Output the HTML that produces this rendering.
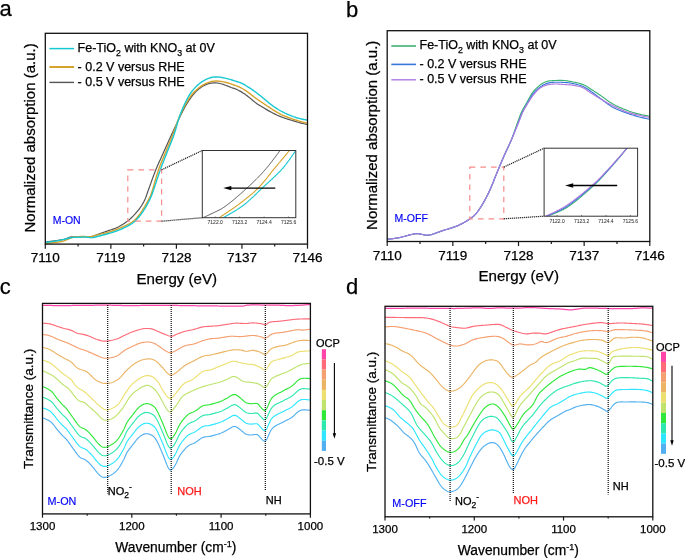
<!DOCTYPE html>
<html><head><meta charset="utf-8"><style>
html,body{margin:0;padding:0;background:#fff;}
svg{display:block;will-change:transform;}
text{stroke:currentColor;stroke-width:0.25px;font-family:"Liberation Sans", sans-serif;}
</style></head><body>
<svg width="685" height="558" viewBox="0 0 685 558">
<rect width="685" height="558" fill="#fff"/>
<text x="-0.50" y="16.20" font-size="22.00" fill="#000" style="color:#000" text-anchor="start" >a</text>
<text x="345.90" y="16.70" font-size="22.00" fill="#000" style="color:#000" text-anchor="start" >b</text>
<text x="-0.30" y="293.80" font-size="22.00" fill="#000" style="color:#000" text-anchor="start" >c</text>
<text x="345.90" y="293.80" font-size="22.00" fill="#000" style="color:#000" text-anchor="start" >d</text>
<g clip-path="url(#clipA0)">
<path d="M45.00,242.10 L45.99,241.97 L46.98,241.84 L47.97,241.71 L48.97,241.58 L49.96,241.45 L50.95,241.32 L51.94,241.19 L52.93,241.06 L53.92,240.93 L54.91,240.80 L55.91,240.66 L56.90,240.53 L57.89,240.39 L58.88,240.24 L59.86,240.09 L60.85,239.94 L61.84,239.77 L62.82,239.59 L63.80,239.38 L64.77,239.14 L65.72,238.84 L66.65,238.49 L67.57,238.10 L68.49,237.71 L69.42,237.37 L70.38,237.11 L71.36,236.94 L72.35,236.83 L73.35,236.76 L74.35,236.73 L75.35,236.71 L76.35,236.71 L77.35,236.71 L78.35,236.71 L79.35,236.71 L80.35,236.70 L81.35,236.70 L82.35,236.70 L83.35,236.71 L84.35,236.73 L85.35,236.74 L86.35,236.74 L87.35,236.73 L88.35,236.70 L89.34,236.64 L90.34,236.55 L91.33,236.41 L92.31,236.22 L93.28,235.98 L94.23,235.70 L95.18,235.39 L96.12,235.04 L97.06,234.69 L97.99,234.34 L98.93,234.00 L99.88,233.67 L100.82,233.35 L101.77,233.02 L102.71,232.69 L103.66,232.36 L104.60,232.02 L105.54,231.69 L106.48,231.35 L107.42,231.01 L108.36,230.68 L109.31,230.35 L110.26,230.03 L111.20,229.71 L112.15,229.39 L113.10,229.06 L114.04,228.72 L114.97,228.37 L115.90,227.99 L116.81,227.59 L117.72,227.17 L118.61,226.72 L119.49,226.25 L120.37,225.77 L121.24,225.27 L122.09,224.76 L122.95,224.23 L123.79,223.69 L124.63,223.14 L125.45,222.58 L126.27,222.01 L127.08,221.42 L127.88,220.82 L128.66,220.20 L129.43,219.56 L130.19,218.91 L130.93,218.24 L131.66,217.55 L132.37,216.85 L133.08,216.14 L133.77,215.42 L134.46,214.70 L135.13,213.96 L135.80,213.22 L136.46,212.46 L137.10,211.70 L137.74,210.92 L138.36,210.14 L138.96,209.35 L139.56,208.54 L140.14,207.73 L140.71,206.91 L141.27,206.08 L141.81,205.24 L142.33,204.39 L142.84,203.52 L143.33,202.65 L143.80,201.77 L144.25,200.88 L144.68,199.98 L145.10,199.07 L145.49,198.15 L145.86,197.22 L146.21,196.28 L146.54,195.34 L146.87,194.39 L147.19,193.45 L147.51,192.50 L147.84,191.56 L148.18,190.62 L148.52,189.68 L148.86,188.73 L149.20,187.79 L149.53,186.85 L149.87,185.91 L150.20,184.97 L150.54,184.03 L150.87,183.08 L151.21,182.14 L151.55,181.20 L151.89,180.26 L152.23,179.32 L152.57,178.38 L152.91,177.44 L153.25,176.50 L153.60,175.56 L153.95,174.63 L154.31,173.69 L154.66,172.76 L155.02,171.82 L155.39,170.89 L155.76,169.97 L156.14,169.04 L156.52,168.12 L156.91,167.19 L157.30,166.27 L157.70,165.36 L158.10,164.44 L158.50,163.52 L158.91,162.61 L159.32,161.70 L159.73,160.79 L160.14,159.88 L160.56,158.97 L160.97,158.06 L161.39,157.15 L161.80,156.24 L162.22,155.33 L162.63,154.42 L163.05,153.51 L163.46,152.60 L163.86,151.68 L164.27,150.77 L164.68,149.86 L165.09,148.94 L165.49,148.03 L165.90,147.12 L166.31,146.20 L166.72,145.29 L167.13,144.38 L167.53,143.47 L167.95,142.55 L168.36,141.64 L168.77,140.73 L169.18,139.82 L169.60,138.91 L170.02,138.00 L170.43,137.09 L170.85,136.19 L171.27,135.28 L171.69,134.37 L172.11,133.46 L172.53,132.56 L172.95,131.65 L173.37,130.74 L173.79,129.83 L174.21,128.93 L174.64,128.02 L175.06,127.11 L175.48,126.21 L175.90,125.30 L176.32,124.39 L176.75,123.49 L177.17,122.58 L177.60,121.68 L178.03,120.77 L178.45,119.87 L178.88,118.97 L179.31,118.06 L179.75,117.16 L180.18,116.26 L180.62,115.36 L181.06,114.47 L181.51,113.57 L181.96,112.68 L182.41,111.79 L182.87,110.90 L183.33,110.01 L183.80,109.13 L184.27,108.25 L184.75,107.37 L185.24,106.50 L185.74,105.63 L186.24,104.76 L186.75,103.91 L187.28,103.06 L187.81,102.21 L188.36,101.37 L188.91,100.54 L189.47,99.71 L190.04,98.89 L190.62,98.08 L191.21,97.27 L191.80,96.46 L192.41,95.67 L193.03,94.88 L193.67,94.11 L194.32,93.35 L194.98,92.61 L195.67,91.88 L196.37,91.17 L197.10,90.48 L197.85,89.82 L198.61,89.18 L199.40,88.56 L200.20,87.97 L201.02,87.40 L201.86,86.86 L202.71,86.33 L203.58,85.83 L204.46,85.36 L205.35,84.91 L206.26,84.50 L207.19,84.12 L208.13,83.80 L209.09,83.53 L210.06,83.32 L211.05,83.15 L212.04,83.04 L213.04,82.96 L214.04,82.92 L215.03,82.91 L216.03,82.93 L217.03,83.00 L218.02,83.12 L219.01,83.28 L219.99,83.48 L220.96,83.71 L221.92,83.98 L222.87,84.28 L223.82,84.61 L224.75,84.95 L225.69,85.31 L226.62,85.68 L227.54,86.06 L228.47,86.43 L229.40,86.81 L230.33,87.17 L231.26,87.52 L232.21,87.84 L233.17,88.13 L234.12,88.42 L235.06,88.76 L235.98,89.14 L236.89,89.55 L237.80,89.97 L238.69,90.42 L239.58,90.88 L240.46,91.35 L241.32,91.86 L242.18,92.38 L243.02,92.92 L243.84,93.48 L244.67,94.05 L245.48,94.63 L246.29,95.22 L247.09,95.81 L247.89,96.41 L248.69,97.02 L249.48,97.64 L250.25,98.27 L251.02,98.91 L251.77,99.57 L252.52,100.22 L253.28,100.88 L254.05,101.52 L254.83,102.14 L255.62,102.75 L256.44,103.33 L257.26,103.89 L258.10,104.44 L258.94,104.98 L259.79,105.51 L260.64,106.03 L261.50,106.55 L262.35,107.06 L263.21,107.58 L264.07,108.09 L264.93,108.60 L265.79,109.11 L266.66,109.61 L267.52,110.12 L268.38,110.62 L269.25,111.12 L270.12,111.60 L271.00,112.09 L271.88,112.56 L272.77,113.02 L273.66,113.47 L274.56,113.91 L275.46,114.35 L276.36,114.77 L277.27,115.19 L278.19,115.59 L279.11,115.99 L280.03,116.37 L280.96,116.75 L281.89,117.11 L282.83,117.46 L283.77,117.80 L284.71,118.13 L285.66,118.44 L286.61,118.75 L287.56,119.06 L288.52,119.35 L289.47,119.65 L290.43,119.95 L291.38,120.24 L292.34,120.54 L293.29,120.83 L294.25,121.12 L295.21,121.42 L296.16,121.70 L297.12,121.99 L298.08,122.27 L299.05,122.54 L300.01,122.81 L300.98,123.06 L301.95,123.31 L302.92,123.54 L303.89,123.76 L304.87,123.98 L305.84,124.19 L306.82,124.40 L307.30,124.50" stroke="#555555" stroke-width="1.20" fill="none" stroke-linejoin="round" stroke-linecap="round" />
<path d="M45.00,243.40 L46.00,243.31 L46.99,243.21 L47.99,243.12 L48.98,243.02 L49.98,242.93 L50.97,242.83 L51.97,242.73 L52.96,242.63 L53.96,242.52 L54.95,242.42 L55.95,242.33 L56.94,242.23 L57.94,242.12 L58.93,241.99 L59.92,241.85 L60.90,241.67 L61.88,241.45 L62.84,241.20 L63.79,240.90 L64.73,240.56 L65.67,240.21 L66.60,239.85 L67.53,239.47 L68.44,239.07 L69.35,238.65 L70.25,238.22 L71.17,237.82 L72.10,237.48 L73.06,237.20 L74.03,236.99 L75.02,236.84 L76.01,236.74 L77.01,236.67 L78.01,236.62 L79.01,236.58 L80.01,236.56 L81.01,236.54 L82.01,236.52 L83.01,236.52 L84.00,236.52 L85.00,236.54 L86.00,236.59 L87.00,236.66 L88.00,236.72 L88.99,236.76 L89.99,236.74 L90.98,236.65 L91.97,236.48 L92.94,236.27 L93.90,236.01 L94.86,235.72 L95.81,235.42 L96.77,235.12 L97.73,234.83 L98.69,234.56 L99.66,234.31 L100.63,234.09 L101.61,233.88 L102.59,233.68 L103.57,233.48 L104.55,233.28 L105.52,233.05 L106.49,232.81 L107.45,232.55 L108.41,232.26 L109.37,231.97 L110.32,231.66 L111.27,231.34 L112.22,231.02 L113.16,230.70 L114.10,230.36 L115.04,230.02 L115.98,229.67 L116.91,229.31 L117.84,228.95 L118.77,228.58 L119.70,228.19 L120.62,227.80 L121.53,227.40 L122.45,227.00 L123.36,226.60 L124.27,226.18 L125.18,225.77 L126.09,225.34 L126.99,224.91 L127.88,224.46 L128.77,224.01 L129.65,223.53 L130.53,223.04 L131.38,222.53 L132.22,221.99 L133.04,221.41 L133.83,220.80 L134.58,220.15 L135.31,219.46 L136.00,218.75 L136.67,218.00 L137.31,217.23 L137.93,216.45 L138.55,215.66 L139.16,214.87 L139.77,214.08 L140.36,213.27 L140.93,212.46 L141.49,211.63 L142.04,210.79 L142.57,209.94 L143.10,209.09 L143.62,208.24 L144.15,207.39 L144.67,206.53 L145.18,205.68 L145.69,204.82 L146.20,203.96 L146.69,203.09 L147.18,202.21 L147.65,201.33 L148.12,200.45 L148.57,199.56 L149.03,198.67 L149.48,197.78 L149.92,196.88 L150.34,195.97 L150.73,195.05 L151.09,194.12 L151.44,193.18 L151.77,192.24 L152.09,191.29 L152.40,190.34 L152.69,189.38 L152.98,188.43 L153.26,187.47 L153.54,186.51 L153.82,185.55 L154.09,184.58 L154.36,183.62 L154.64,182.66 L154.91,181.70 L155.18,180.73 L155.45,179.77 L155.73,178.81 L156.00,177.85 L156.28,176.89 L156.56,175.93 L156.85,174.97 L157.14,174.02 L157.44,173.06 L157.74,172.11 L158.05,171.16 L158.37,170.21 L158.70,169.27 L159.04,168.32 L159.38,167.39 L159.73,166.45 L160.09,165.52 L160.46,164.59 L160.83,163.66 L161.21,162.73 L161.59,161.81 L161.97,160.88 L162.36,159.96 L162.75,159.04 L163.14,158.12 L163.53,157.20 L163.92,156.28 L164.31,155.36 L164.70,154.44 L165.08,153.51 L165.46,152.59 L165.84,151.66 L166.22,150.74 L166.61,149.81 L166.99,148.89 L167.37,147.97 L167.76,147.04 L168.15,146.12 L168.53,145.20 L168.92,144.28 L169.30,143.35 L169.69,142.43 L170.07,141.51 L170.45,140.58 L170.83,139.66 L171.21,138.73 L171.58,137.80 L171.95,136.88 L172.32,135.95 L172.69,135.02 L173.05,134.08 L173.40,133.15 L173.75,132.21 L174.09,131.27 L174.43,130.33 L174.77,129.39 L175.10,128.45 L175.44,127.50 L175.77,126.56 L176.10,125.62 L176.44,124.68 L176.78,123.73 L177.12,122.79 L177.46,121.85 L177.81,120.92 L178.17,119.98 L178.53,119.05 L178.90,118.12 L179.28,117.20 L179.67,116.28 L180.07,115.36 L180.48,114.45 L180.90,113.54 L181.32,112.63 L181.75,111.73 L182.19,110.83 L182.63,109.93 L183.07,109.04 L183.53,108.15 L183.99,107.26 L184.45,106.37 L184.92,105.49 L185.40,104.61 L185.88,103.74 L186.37,102.87 L186.87,102.00 L187.38,101.14 L187.89,100.28 L188.42,99.43 L188.95,98.59 L189.51,97.75 L190.07,96.93 L190.66,96.12 L191.27,95.33 L191.89,94.55 L192.54,93.79 L193.21,93.05 L193.90,92.32 L194.61,91.61 L195.33,90.92 L196.06,90.24 L196.80,89.57 L197.55,88.91 L198.31,88.26 L199.09,87.64 L199.89,87.03 L200.69,86.44 L201.52,85.87 L202.36,85.33 L203.22,84.82 L204.09,84.34 L204.98,83.89 L205.89,83.46 L206.80,83.07 L207.73,82.70 L208.67,82.36 L209.63,82.06 L210.59,81.79 L211.56,81.55 L212.54,81.36 L213.52,81.20 L214.52,81.09 L215.51,81.03 L216.51,81.01 L217.51,81.04 L218.50,81.11 L219.50,81.22 L220.49,81.35 L221.48,81.51 L222.46,81.68 L223.44,81.87 L224.42,82.07 L225.40,82.28 L226.37,82.51 L227.34,82.75 L228.31,83.01 L229.26,83.30 L230.21,83.62 L231.16,83.95 L232.09,84.29 L233.03,84.65 L233.96,85.00 L234.90,85.36 L235.84,85.70 L236.78,86.04 L237.72,86.39 L238.65,86.75 L239.57,87.14 L240.48,87.56 L241.37,88.01 L242.24,88.49 L243.11,88.99 L243.95,89.52 L244.80,90.06 L245.63,90.62 L246.45,91.18 L247.28,91.75 L248.10,92.32 L248.91,92.90 L249.72,93.49 L250.51,94.10 L251.30,94.72 L252.08,95.34 L252.86,95.97 L253.64,96.59 L254.44,97.19 L255.24,97.78 L256.06,98.37 L256.87,98.95 L257.69,99.52 L258.51,100.09 L259.34,100.66 L260.16,101.22 L260.99,101.79 L261.81,102.35 L262.64,102.91 L263.47,103.48 L264.29,104.04 L265.12,104.60 L265.95,105.16 L266.78,105.72 L267.61,106.28 L268.44,106.83 L269.27,107.39 L270.10,107.94 L270.94,108.49 L271.78,109.03 L272.62,109.57 L273.47,110.10 L274.32,110.63 L275.17,111.16 L276.02,111.68 L276.88,112.20 L277.74,112.70 L278.62,113.18 L279.50,113.65 L280.40,114.09 L281.30,114.53 L282.21,114.94 L283.12,115.35 L284.04,115.74 L284.96,116.13 L285.89,116.50 L286.82,116.87 L287.75,117.24 L288.68,117.60 L289.62,117.95 L290.55,118.30 L291.49,118.65 L292.43,118.98 L293.38,119.31 L294.33,119.62 L295.28,119.92 L296.24,120.21 L297.20,120.50 L298.16,120.78 L299.12,121.05 L300.08,121.32 L301.05,121.59 L302.01,121.86 L302.98,122.11 L303.94,122.36 L304.91,122.61 L305.88,122.85 L306.83,123.08 L307.30,123.20" stroke="#d6a42c" stroke-width="1.40" fill="none" stroke-linejoin="round" stroke-linecap="round" />
<path d="M45.00,242.40 L45.99,242.29 L46.99,242.17 L47.98,242.06 L48.97,241.94 L49.97,241.82 L50.96,241.70 L51.95,241.57 L52.94,241.43 L53.93,241.29 L54.92,241.14 L55.91,240.98 L56.89,240.82 L57.88,240.66 L58.86,240.48 L59.85,240.30 L60.83,240.11 L61.81,239.90 L62.78,239.68 L63.76,239.45 L64.73,239.21 L65.70,238.97 L66.67,238.72 L67.64,238.48 L68.61,238.24 L69.58,238.01 L70.56,237.80 L71.54,237.61 L72.52,237.45 L73.52,237.35 L74.51,237.29 L75.51,237.27 L76.51,237.28 L77.51,237.29 L78.51,237.30 L79.51,237.29 L80.51,237.25 L81.51,237.20 L82.51,237.14 L83.50,237.07 L84.50,237.04 L85.50,237.03 L86.50,237.08 L87.49,237.18 L88.48,237.32 L89.47,237.46 L90.46,237.58 L91.45,237.63 L92.45,237.60 L93.43,237.47 L94.40,237.26 L95.37,237.00 L96.33,236.74 L97.30,236.49 L98.27,236.24 L99.24,236.00 L100.21,235.76 L101.18,235.52 L102.15,235.28 L103.12,235.04 L104.09,234.79 L105.06,234.53 L106.02,234.26 L106.98,233.99 L107.94,233.71 L108.90,233.43 L109.86,233.14 L110.82,232.85 L111.77,232.56 L112.73,232.26 L113.68,231.96 L114.63,231.65 L115.58,231.33 L116.52,231.00 L117.46,230.66 L118.40,230.30 L119.33,229.94 L120.25,229.55 L121.17,229.15 L122.08,228.75 L122.99,228.33 L123.90,227.91 L124.80,227.48 L125.70,227.04 L126.59,226.59 L127.48,226.12 L128.36,225.65 L129.23,225.16 L130.09,224.66 L130.95,224.14 L131.79,223.60 L132.61,223.03 L133.41,222.44 L134.19,221.81 L134.95,221.16 L135.68,220.48 L136.38,219.77 L137.07,219.04 L137.74,218.30 L138.39,217.54 L139.04,216.78 L139.67,216.01 L140.30,215.23 L140.92,214.44 L141.52,213.64 L142.09,212.83 L142.66,212.00 L143.20,211.16 L143.73,210.32 L144.26,209.47 L144.78,208.61 L145.30,207.76 L145.82,206.90 L146.32,206.04 L146.82,205.17 L147.31,204.30 L147.79,203.42 L148.26,202.54 L148.72,201.65 L149.17,200.76 L149.62,199.86 L150.06,198.97 L150.49,198.06 L150.89,197.15 L151.28,196.23 L151.64,195.30 L152.00,194.36 L152.34,193.42 L152.68,192.48 L153.01,191.54 L153.33,190.59 L153.66,189.65 L153.97,188.70 L154.29,187.75 L154.61,186.80 L154.92,185.85 L155.23,184.90 L155.55,183.95 L155.86,183.00 L156.17,182.05 L156.48,181.10 L156.80,180.15 L157.11,179.20 L157.42,178.25 L157.74,177.30 L158.05,176.36 L158.37,175.41 L158.69,174.46 L159.01,173.51 L159.34,172.57 L159.67,171.62 L160.00,170.68 L160.33,169.74 L160.67,168.80 L161.02,167.86 L161.37,166.92 L161.72,165.98 L162.07,165.05 L162.43,164.11 L162.79,163.18 L163.15,162.25 L163.51,161.32 L163.88,160.39 L164.25,159.46 L164.61,158.53 L164.98,157.60 L165.35,156.67 L165.72,155.74 L166.09,154.81 L166.46,153.88 L166.82,152.95 L167.19,152.02 L167.56,151.09 L167.93,150.16 L168.31,149.23 L168.68,148.31 L169.06,147.38 L169.44,146.46 L169.82,145.53 L170.20,144.61 L170.58,143.68 L170.95,142.75 L171.33,141.83 L171.69,140.90 L172.06,139.96 L172.42,139.03 L172.77,138.10 L173.12,137.16 L173.46,136.22 L173.79,135.28 L174.12,134.33 L174.43,133.38 L174.74,132.43 L175.03,131.47 L175.32,130.51 L175.60,129.56 L175.88,128.59 L176.15,127.63 L176.42,126.67 L176.70,125.71 L176.97,124.75 L177.24,123.78 L177.52,122.82 L177.80,121.86 L178.08,120.90 L178.37,119.95 L178.67,118.99 L178.98,118.04 L179.30,117.09 L179.63,116.15 L179.97,115.21 L180.32,114.28 L180.68,113.34 L181.05,112.41 L181.43,111.49 L181.81,110.56 L182.19,109.64 L182.59,108.72 L182.98,107.80 L183.39,106.89 L183.79,105.97 L184.21,105.06 L184.63,104.15 L185.05,103.25 L185.48,102.35 L185.92,101.45 L186.36,100.55 L186.81,99.66 L187.27,98.77 L187.73,97.88 L188.21,97.01 L188.70,96.13 L189.21,95.27 L189.73,94.42 L190.28,93.58 L190.84,92.76 L191.43,91.95 L192.04,91.16 L192.66,90.38 L193.31,89.61 L193.97,88.86 L194.64,88.12 L195.32,87.39 L196.01,86.67 L196.73,85.97 L197.46,85.29 L198.20,84.62 L198.97,83.98 L199.75,83.35 L200.54,82.75 L201.36,82.17 L202.18,81.60 L203.02,81.06 L203.88,80.55 L204.75,80.06 L205.64,79.61 L206.55,79.18 L207.46,78.79 L208.39,78.42 L209.33,78.08 L210.28,77.77 L211.24,77.50 L212.21,77.27 L213.20,77.10 L214.19,76.99 L215.18,76.93 L216.18,76.92 L217.18,76.95 L218.18,77.02 L219.17,77.11 L220.17,77.22 L221.16,77.36 L222.14,77.52 L223.13,77.69 L224.11,77.88 L225.09,78.09 L226.06,78.32 L227.03,78.57 L227.99,78.83 L228.96,79.11 L229.91,79.39 L230.87,79.69 L231.82,79.99 L232.77,80.29 L233.73,80.59 L234.68,80.89 L235.64,81.19 L236.60,81.48 L237.55,81.76 L238.51,82.06 L239.46,82.38 L240.39,82.72 L241.31,83.11 L242.22,83.53 L243.11,83.98 L243.98,84.47 L244.85,84.97 L245.70,85.49 L246.55,86.02 L247.40,86.56 L248.24,87.09 L249.09,87.62 L249.93,88.16 L250.77,88.71 L251.60,89.26 L252.43,89.81 L253.26,90.38 L254.07,90.96 L254.88,91.54 L255.69,92.14 L256.49,92.74 L257.28,93.35 L258.07,93.96 L258.86,94.58 L259.64,95.20 L260.43,95.82 L261.21,96.44 L261.98,97.07 L262.76,97.70 L263.53,98.34 L264.30,98.98 L265.06,99.63 L265.82,100.28 L266.58,100.93 L267.34,101.58 L268.10,102.22 L268.88,102.86 L269.66,103.48 L270.45,104.09 L271.25,104.70 L272.05,105.29 L272.86,105.87 L273.68,106.45 L274.50,107.02 L275.33,107.58 L276.16,108.14 L277.00,108.69 L277.84,109.22 L278.69,109.75 L279.55,110.26 L280.42,110.76 L281.29,111.24 L282.17,111.72 L283.06,112.17 L283.95,112.62 L284.85,113.06 L285.76,113.48 L286.67,113.90 L287.58,114.30 L288.50,114.70 L289.42,115.09 L290.35,115.47 L291.27,115.84 L292.21,116.20 L293.14,116.55 L294.09,116.88 L295.04,117.20 L295.99,117.50 L296.95,117.78 L297.91,118.05 L298.87,118.32 L299.84,118.57 L300.81,118.82 L301.78,119.05 L302.76,119.26 L303.74,119.46 L304.72,119.64 L305.67,119.81 L306.54,119.97 L307.30,120.10 L307.30,120.10" stroke="#18c8d0" stroke-width="1.40" fill="none" stroke-linejoin="round" stroke-linecap="round" />
</g>
<defs><clipPath id="clipA0"><rect x="45.30" y="33.30" width="262.20" height="210.80"/></clipPath></defs>
<rect x="45.30" y="33.30" width="262.20" height="210.80" fill="none" stroke="#111" stroke-width="1.3"/>
<line x1="45.30" y1="244.10" x2="45.30" y2="248.70" stroke="#1a1a1a" stroke-width="1.2"/>
<text x="45.30" y="262.20" font-size="13.50" fill="#000" style="color:#000" text-anchor="middle" >7110</text>
<line x1="78.07" y1="244.10" x2="78.07" y2="246.50" stroke="#1a1a1a" stroke-width="1.2"/>
<line x1="110.85" y1="244.10" x2="110.85" y2="248.70" stroke="#1a1a1a" stroke-width="1.2"/>
<text x="110.85" y="262.20" font-size="13.50" fill="#000" style="color:#000" text-anchor="middle" >7119</text>
<line x1="143.62" y1="244.10" x2="143.62" y2="246.50" stroke="#1a1a1a" stroke-width="1.2"/>
<line x1="176.40" y1="244.10" x2="176.40" y2="248.70" stroke="#1a1a1a" stroke-width="1.2"/>
<text x="176.40" y="262.20" font-size="13.50" fill="#000" style="color:#000" text-anchor="middle" >7128</text>
<line x1="209.17" y1="244.10" x2="209.17" y2="246.50" stroke="#1a1a1a" stroke-width="1.2"/>
<line x1="241.95" y1="244.10" x2="241.95" y2="248.70" stroke="#1a1a1a" stroke-width="1.2"/>
<text x="241.95" y="262.20" font-size="13.50" fill="#000" style="color:#000" text-anchor="middle" >7137</text>
<line x1="274.72" y1="244.10" x2="274.72" y2="246.50" stroke="#1a1a1a" stroke-width="1.2"/>
<line x1="307.50" y1="244.10" x2="307.50" y2="248.70" stroke="#1a1a1a" stroke-width="1.2"/>
<text x="307.50" y="262.20" font-size="13.50" fill="#000" style="color:#000" text-anchor="middle" >7146</text>
<text x="176.80" y="283.60" font-size="15.10" fill="#000" style="color:#000" text-anchor="middle" >Energy (eV)</text>
<text transform="translate(34.60,137.90) rotate(-90)" font-size="15" text-anchor="middle" fill="#000">Normalized absorption (a.u.)</text>
<line x1="49.40" y1="48.60" x2="74.10" y2="48.60" stroke="#18c8d0" stroke-width="1.50"/>
<line x1="49.40" y1="67.00" x2="74.10" y2="67.00" stroke="#d6a42c" stroke-width="2.00"/>
<line x1="49.40" y1="82.40" x2="74.10" y2="82.40" stroke="#555555" stroke-width="1.40"/>
<text x="77.60" y="52.40" font-size="12.5" fill="#000">Fe-TiO<tspan font-size="8.8" dy="3.2">2</tspan><tspan dy="-3.2"> with KNO</tspan><tspan font-size="8.8" dy="3.2">3</tspan><tspan dy="-3.2"> at 0V</tspan></text>
<text x="77.60" y="70.90" font-size="12.50" fill="#000" style="color:#000" text-anchor="start" >- 0.2 V versus RHE</text>
<text x="77.60" y="86.30" font-size="12.50" fill="#000" style="color:#000" text-anchor="start" >- 0.5 V versus RHE</text>
<text x="52.70" y="224.20" font-size="10.50" fill="#0000f5" style="color:#0000f5;stroke-width:0.15px" text-anchor="start" >M-ON</text>
<rect x="127.80" y="169.80" width="33.80" height="51.40" fill="none" stroke="#f78c8c" stroke-width="1.2" stroke-dasharray="5.6,5"/>
<line x1="161.60" y1="169.80" x2="202.30" y2="150.50" stroke="#111" stroke-width="1.25" stroke-dasharray="1.1,0.9"/>
<line x1="161.60" y1="221.20" x2="202.30" y2="217.70" stroke="#111" stroke-width="1.25" stroke-dasharray="1.1,0.9"/>
<defs><clipPath id="clipI0"><rect x="202.30" y="150.50" width="93.50" height="67.20"/></clipPath></defs>
<g clip-path="url(#clipI0)">
<path d="M200.00,219.00 L200.91,218.59 L201.83,218.19 L202.74,217.78 L203.66,217.38 L204.57,216.97 L205.48,216.56 L206.39,216.15 L207.30,215.73 L208.21,215.31 L209.12,214.89 L210.02,214.46 L210.92,214.03 L211.82,213.59 L212.72,213.16 L213.62,212.73 L214.53,212.30 L215.43,211.88 L216.34,211.45 L217.24,211.03 L218.14,210.59 L219.03,210.14 L219.92,209.67 L220.79,209.18 L221.65,208.68 L222.51,208.16 L223.35,207.62 L224.18,207.07 L225.00,206.50 L225.82,205.92 L226.62,205.33 L227.42,204.73 L228.22,204.12 L229.01,203.50 L229.79,202.88 L230.57,202.26 L231.35,201.63 L232.12,201.00 L232.90,200.36 L233.66,199.72 L234.43,199.08 L235.20,198.44 L235.96,197.79 L236.72,197.14 L237.48,196.49 L238.24,195.84 L238.99,195.18 L239.75,194.52 L240.50,193.87 L241.25,193.20 L242.00,192.54 L242.74,191.88 L243.49,191.21 L244.23,190.54 L244.98,189.87 L245.72,189.20 L246.46,188.53 L247.19,187.85 L247.93,187.17 L248.66,186.50 L249.40,185.81 L250.13,185.13 L250.85,184.45 L251.58,183.76 L252.30,183.07 L253.03,182.38 L253.74,181.68 L254.46,180.98 L255.18,180.28 L255.89,179.58 L256.59,178.87 L257.30,178.16 L258.00,177.45 L258.70,176.74 L259.39,176.02 L260.08,175.29 L260.77,174.57 L261.45,173.84 L262.13,173.10 L262.81,172.36 L263.48,171.62 L264.14,170.88 L264.80,170.12 L265.46,169.37 L266.10,168.61 L266.75,167.84 L267.39,167.07 L268.02,166.30 L268.65,165.52 L269.27,164.74 L269.90,163.96 L270.51,163.17 L271.13,162.38 L271.74,161.59 L272.35,160.80 L272.96,160.01 L273.57,159.21 L274.17,158.41 L274.77,157.62 L275.37,156.82 L275.97,156.02 L276.57,155.21 L277.17,154.41 L277.76,153.61 L278.36,152.81 L278.95,152.00 L279.54,151.20 L280.12,150.38 L280.68,149.56 L281.18,148.72 L281.62,147.86 L282.00,147.00 L282.00,147.00" stroke="#555555" stroke-width="1.00" fill="none" stroke-linejoin="round" stroke-linecap="round" />
<path d="M219.20,217.70 L220.03,217.14 L220.86,216.59 L221.70,216.04 L222.53,215.49 L223.37,214.93 L224.20,214.38 L225.03,213.83 L225.87,213.28 L226.70,212.73 L227.53,212.17 L228.36,211.62 L229.19,211.06 L230.02,210.50 L230.85,209.94 L231.67,209.37 L232.50,208.80 L233.32,208.23 L234.14,207.66 L234.95,207.08 L235.77,206.50 L236.58,205.91 L237.38,205.32 L238.19,204.73 L238.99,204.13 L239.79,203.52 L240.58,202.92 L241.38,202.31 L242.17,201.71 L242.97,201.10 L243.76,200.49 L244.55,199.88 L245.34,199.26 L246.13,198.65 L246.91,198.02 L247.69,197.40 L248.47,196.77 L249.24,196.14 L250.01,195.50 L250.78,194.86 L251.54,194.22 L252.30,193.56 L253.06,192.91 L253.80,192.24 L254.55,191.57 L255.28,190.90 L256.01,190.21 L256.73,189.52 L257.45,188.82 L258.16,188.11 L258.85,187.40 L259.54,186.67 L260.22,185.94 L260.89,185.20 L261.56,184.45 L262.21,183.70 L262.86,182.93 L263.50,182.17 L264.14,181.40 L264.77,180.62 L265.40,179.84 L266.02,179.06 L266.64,178.28 L267.26,177.49 L267.88,176.71 L268.50,175.92 L269.11,175.13 L269.73,174.34 L270.35,173.56 L270.96,172.77 L271.59,171.99 L272.21,171.21 L272.84,170.43 L273.47,169.65 L274.11,168.88 L274.74,168.11 L275.38,167.34 L276.03,166.58 L276.67,165.81 L277.31,165.04 L277.95,164.28 L278.60,163.51 L279.24,162.75 L279.89,161.98 L280.53,161.22 L281.18,160.45 L281.82,159.69 L282.46,158.92 L283.11,158.16 L283.75,157.39 L284.39,156.63 L285.03,155.86 L285.67,155.09 L286.31,154.32 L286.94,153.55 L287.58,152.77 L288.20,151.99 L288.82,151.21 L289.42,150.41 L289.98,149.60 L290.44,148.76 L290.77,147.89 L291.00,147.00 L291.00,147.00" stroke="#d6a42c" stroke-width="1.10" fill="none" stroke-linejoin="round" stroke-linecap="round" />
<path d="M223.20,217.70 L224.06,217.20 L224.93,216.69 L225.80,216.20 L226.67,215.70 L227.54,215.21 L228.41,214.72 L229.27,214.22 L230.14,213.73 L231.01,213.23 L231.88,212.73 L232.74,212.22 L233.60,211.71 L234.46,211.20 L235.31,210.68 L236.17,210.16 L237.02,209.63 L237.86,209.10 L238.70,208.56 L239.54,208.01 L240.37,207.45 L241.19,206.88 L242.00,206.30 L242.81,205.71 L243.61,205.11 L244.40,204.50 L245.18,203.88 L245.96,203.24 L246.72,202.60 L247.48,201.95 L248.24,201.30 L248.99,200.63 L249.73,199.96 L250.47,199.29 L251.20,198.61 L251.93,197.93 L252.66,197.24 L253.39,196.56 L254.11,195.87 L254.83,195.17 L255.55,194.48 L256.27,193.78 L256.99,193.09 L257.71,192.39 L258.42,191.70 L259.14,191.00 L259.86,190.31 L260.58,189.61 L261.31,188.92 L262.03,188.24 L262.76,187.55 L263.49,186.87 L264.22,186.19 L264.96,185.51 L265.69,184.83 L266.43,184.15 L267.17,183.48 L267.91,182.80 L268.64,182.13 L269.38,181.45 L270.12,180.78 L270.85,180.10 L271.59,179.42 L272.32,178.74 L273.05,178.06 L273.78,177.38 L274.51,176.69 L275.24,176.00 L275.96,175.31 L276.67,174.61 L277.39,173.91 L278.10,173.20 L278.80,172.49 L279.50,171.78 L280.19,171.05 L280.87,170.32 L281.55,169.59 L282.21,168.84 L282.87,168.09 L283.52,167.33 L284.16,166.56 L284.79,165.79 L285.41,165.00 L286.03,164.22 L286.64,163.42 L287.24,162.63 L287.84,161.83 L288.44,161.02 L289.03,160.21 L289.61,159.40 L290.19,158.59 L290.77,157.77 L291.34,156.95 L291.91,156.13 L292.48,155.31 L293.05,154.49 L293.62,153.66 L294.18,152.84 L294.75,152.01 L295.31,151.19 L295.86,150.38 L296.34,149.60 L296.70,148.89 L296.92,148.28 L297.00,148.00" stroke="#18c8d0" stroke-width="1.10" fill="none" stroke-linejoin="round" stroke-linecap="round" />
</g>
<rect x="202.30" y="150.50" width="93.50" height="67.20" fill="none" stroke="#333" stroke-width="1"/>
<line x1="215.20" y1="217.70" x2="215.20" y2="216.50" stroke="#333" stroke-width="0.6"/>
<text x="215.20" y="224.30" font-size="5.00" fill="#333" style="color:#333;stroke-width:0.05px" text-anchor="middle" >7122.0</text>
<line x1="239.65" y1="217.70" x2="239.65" y2="216.50" stroke="#333" stroke-width="0.6"/>
<text x="239.65" y="224.30" font-size="5.00" fill="#333" style="color:#333;stroke-width:0.05px" text-anchor="middle" >7123.2</text>
<line x1="264.10" y1="217.70" x2="264.10" y2="216.50" stroke="#333" stroke-width="0.6"/>
<text x="264.10" y="224.30" font-size="5.00" fill="#333" style="color:#333;stroke-width:0.05px" text-anchor="middle" >7124.4</text>
<line x1="288.55" y1="217.70" x2="288.55" y2="216.50" stroke="#333" stroke-width="0.6"/>
<text x="288.55" y="224.30" font-size="5.00" fill="#333" style="color:#333;stroke-width:0.05px" text-anchor="middle" >7125.6</text>
<line x1="229.00" y1="188.10" x2="275.30" y2="188.10" stroke="#000" stroke-width="1.3"/>
<polygon points="223.20,188.10 231.30,185.90 231.30,190.30" fill="#000"/>
<g clip-path="url(#clipA341)">
<path d="M387.10,239.30 L388.09,239.18 L389.09,239.06 L390.08,238.95 L391.07,238.83 L392.06,238.71 L393.06,238.58 L394.05,238.45 L395.04,238.31 L396.03,238.17 L397.02,238.01 L398.00,237.85 L398.98,237.66 L399.96,237.47 L400.94,237.25 L401.91,237.01 L402.88,236.76 L403.85,236.51 L404.81,236.24 L405.77,235.97 L406.74,235.70 L407.70,235.44 L408.67,235.18 L409.63,234.92 L410.60,234.68 L411.58,234.45 L412.55,234.24 L413.54,234.05 L414.52,233.90 L415.51,233.78 L416.51,233.72 L417.50,233.72 L418.50,233.79 L419.49,233.92 L420.47,234.10 L421.45,234.31 L422.42,234.54 L423.40,234.76 L424.37,234.95 L425.36,235.10 L426.35,235.19 L427.35,235.20 L428.34,235.14 L429.33,235.00 L430.31,234.81 L431.28,234.58 L432.24,234.32 L433.20,234.02 L434.15,233.71 L435.09,233.38 L436.03,233.04 L436.97,232.69 L437.90,232.33 L438.84,231.98 L439.78,231.63 L440.72,231.29 L441.66,230.96 L442.61,230.64 L443.56,230.34 L444.51,230.04 L445.47,229.75 L446.43,229.47 L447.39,229.18 L448.35,228.90 L449.31,228.62 L450.27,228.33 L451.22,228.03 L452.17,227.73 L453.12,227.42 L454.07,227.09 L455.01,226.75 L455.94,226.40 L456.87,226.02 L457.79,225.63 L458.70,225.22 L459.61,224.80 L460.51,224.36 L461.40,223.92 L462.29,223.46 L463.17,222.98 L464.05,222.50 L464.92,222.01 L465.78,221.50 L466.63,220.98 L467.48,220.44 L468.31,219.90 L469.14,219.34 L469.96,218.77 L470.78,218.19 L471.59,217.61 L472.39,217.01 L473.17,216.39 L473.93,215.73 L474.66,215.05 L475.36,214.34 L476.03,213.60 L476.67,212.83 L477.29,212.05 L477.89,211.25 L478.48,210.44 L479.05,209.62 L479.62,208.80 L480.17,207.96 L480.71,207.12 L481.25,206.28 L481.78,205.43 L482.30,204.58 L482.81,203.72 L483.32,202.86 L483.82,201.99 L484.31,201.12 L484.80,200.25 L485.28,199.37 L485.75,198.49 L486.22,197.60 L486.68,196.72 L487.13,195.83 L487.58,194.93 L488.02,194.04 L488.46,193.13 L488.88,192.23 L489.30,191.32 L489.71,190.41 L490.12,189.49 L490.51,188.58 L490.91,187.66 L491.30,186.74 L491.69,185.82 L492.07,184.89 L492.45,183.97 L492.83,183.04 L493.20,182.12 L493.58,181.19 L493.95,180.26 L494.32,179.33 L494.69,178.40 L495.07,177.47 L495.43,176.55 L495.80,175.62 L496.18,174.69 L496.55,173.76 L496.92,172.83 L497.29,171.90 L497.67,170.98 L498.05,170.05 L498.43,169.13 L498.82,168.21 L499.20,167.28 L499.59,166.36 L499.97,165.44 L500.36,164.51 L500.74,163.59 L501.13,162.67 L501.52,161.75 L501.91,160.83 L502.30,159.91 L502.70,158.99 L503.09,158.07 L503.49,157.16 L503.90,156.24 L504.31,155.33 L504.72,154.42 L505.14,153.51 L505.56,152.60 L505.98,151.70 L506.41,150.79 L506.84,149.89 L507.27,148.98 L507.69,148.08 L508.12,147.17 L508.54,146.27 L508.96,145.36 L509.37,144.45 L509.78,143.54 L510.19,142.62 L510.58,141.70 L510.97,140.78 L511.35,139.86 L511.72,138.93 L512.08,138.00 L512.44,137.06 L512.79,136.12 L513.13,135.19 L513.47,134.25 L513.80,133.30 L514.14,132.36 L514.47,131.42 L514.79,130.47 L515.12,129.53 L515.45,128.58 L515.77,127.63 L516.10,126.69 L516.43,125.74 L516.76,124.80 L517.09,123.86 L517.42,122.92 L517.76,121.97 L518.10,121.03 L518.43,120.09 L518.76,119.15 L519.10,118.20 L519.43,117.26 L519.77,116.32 L520.12,115.38 L520.48,114.45 L520.86,113.52 L521.25,112.61 L521.66,111.70 L522.10,110.80 L522.56,109.91 L523.03,109.03 L523.52,108.16 L524.02,107.29 L524.53,106.43 L525.04,105.57 L525.55,104.71 L526.05,103.84 L526.55,102.98 L527.03,102.10 L527.52,101.23 L528.01,100.36 L528.49,99.48 L528.98,98.61 L529.48,97.74 L529.97,96.87 L530.46,96.00 L530.95,95.13 L531.44,94.26 L531.96,93.40 L532.51,92.57 L533.10,91.77 L533.73,90.99 L534.40,90.25 L535.10,89.53 L535.81,88.84 L536.54,88.15 L537.28,87.48 L538.03,86.82 L538.78,86.16 L539.55,85.52 L540.33,84.89 L541.14,84.30 L541.97,83.75 L542.82,83.24 L543.70,82.76 L544.60,82.33 L545.52,81.94 L546.46,81.60 L547.41,81.30 L548.38,81.07 L549.36,80.90 L550.35,80.78 L551.35,80.70 L552.35,80.63 L553.35,80.58 L554.34,80.53 L555.34,80.48 L556.34,80.45 L557.34,80.43 L558.34,80.41 L559.34,80.40 L560.34,80.40 L561.34,80.41 L562.34,80.43 L563.34,80.48 L564.34,80.55 L565.33,80.65 L566.32,80.78 L567.31,80.92 L568.30,81.07 L569.29,81.24 L570.27,81.42 L571.25,81.61 L572.23,81.80 L573.21,82.01 L574.19,82.21 L575.17,82.41 L576.15,82.61 L577.13,82.82 L578.10,83.04 L579.07,83.28 L580.04,83.54 L580.99,83.83 L581.94,84.15 L582.87,84.51 L583.79,84.90 L584.69,85.34 L585.57,85.81 L586.44,86.31 L587.29,86.83 L588.13,87.36 L588.98,87.90 L589.82,88.44 L590.66,88.98 L591.50,89.52 L592.35,90.06 L593.19,90.60 L594.03,91.14 L594.86,91.69 L595.70,92.24 L596.53,92.79 L597.37,93.34 L598.20,93.90 L599.03,94.46 L599.86,95.02 L600.68,95.58 L601.51,96.14 L602.33,96.71 L603.15,97.29 L603.96,97.87 L604.77,98.46 L605.57,99.06 L606.37,99.65 L607.18,100.25 L607.99,100.84 L608.80,101.42 L609.62,101.99 L610.45,102.54 L611.30,103.08 L612.15,103.60 L613.01,104.10 L613.89,104.58 L614.77,105.05 L615.67,105.50 L616.56,105.94 L617.47,106.37 L618.37,106.79 L619.29,107.20 L620.20,107.61 L621.12,108.00 L622.04,108.39 L622.96,108.78 L623.89,109.15 L624.82,109.53 L625.75,109.89 L626.68,110.26 L627.61,110.61 L628.55,110.96 L629.49,111.30 L630.44,111.62 L631.38,111.94 L632.34,112.25 L633.29,112.55 L634.25,112.84 L635.21,113.13 L636.17,113.40 L637.13,113.66 L638.10,113.91 L639.07,114.15 L640.05,114.37 L641.02,114.58 L642.00,114.78 L642.99,114.96 L643.97,115.14 L644.95,115.32 L645.94,115.49 L646.92,115.66 L647.87,115.82 L648.74,115.97 L649.50,116.10 L649.50,116.10" stroke="#3cb371" stroke-width="1.15" fill="none" stroke-linejoin="round" stroke-linecap="round" />
<path d="M387.10,239.30 L388.09,239.18 L389.09,239.06 L390.08,238.95 L391.07,238.83 L392.06,238.71 L393.06,238.58 L394.05,238.45 L395.04,238.31 L396.03,238.17 L397.02,238.01 L398.00,237.85 L398.98,237.66 L399.96,237.47 L400.94,237.25 L401.91,237.01 L402.88,236.76 L403.85,236.51 L404.81,236.24 L405.77,235.97 L406.74,235.70 L407.70,235.44 L408.67,235.18 L409.63,234.92 L410.60,234.68 L411.58,234.45 L412.55,234.24 L413.54,234.05 L414.52,233.90 L415.51,233.78 L416.51,233.72 L417.50,233.72 L418.50,233.79 L419.49,233.92 L420.47,234.10 L421.45,234.31 L422.42,234.54 L423.40,234.76 L424.37,234.95 L425.36,235.10 L426.35,235.19 L427.35,235.20 L428.34,235.14 L429.33,235.00 L430.31,234.81 L431.28,234.58 L432.24,234.32 L433.20,234.02 L434.15,233.71 L435.09,233.38 L436.03,233.04 L436.97,232.69 L437.90,232.33 L438.84,231.98 L439.78,231.63 L440.72,231.29 L441.66,230.96 L442.61,230.64 L443.56,230.34 L444.51,230.04 L445.47,229.75 L446.43,229.47 L447.39,229.18 L448.35,228.90 L449.31,228.62 L450.27,228.33 L451.22,228.03 L452.17,227.73 L453.12,227.42 L454.07,227.09 L455.01,226.75 L455.94,226.40 L456.87,226.02 L457.79,225.63 L458.70,225.22 L459.61,224.80 L460.51,224.36 L461.40,223.92 L462.29,223.46 L463.17,222.98 L464.05,222.50 L464.92,222.01 L465.78,221.50 L466.63,220.98 L467.48,220.44 L468.31,219.90 L469.14,219.34 L469.96,218.77 L470.78,218.19 L471.59,217.61 L472.39,217.01 L473.17,216.39 L473.93,215.73 L474.66,215.05 L475.36,214.34 L476.03,213.60 L476.67,212.83 L477.29,212.05 L477.89,211.25 L478.48,210.44 L479.05,209.62 L479.62,208.80 L480.17,207.96 L480.71,207.12 L481.25,206.28 L481.78,205.43 L482.30,204.58 L482.81,203.72 L483.32,202.86 L483.82,201.99 L484.31,201.12 L484.80,200.25 L485.28,199.37 L485.75,198.49 L486.22,197.60 L486.68,196.72 L487.13,195.83 L487.58,194.93 L488.02,194.04 L488.46,193.13 L488.88,192.23 L489.30,191.32 L489.71,190.41 L490.12,189.49 L490.51,188.58 L490.91,187.66 L491.30,186.74 L491.69,185.82 L492.07,184.89 L492.45,183.97 L492.83,183.04 L493.20,182.12 L493.58,181.19 L493.95,180.26 L494.32,179.33 L494.69,178.40 L495.07,177.47 L495.43,176.55 L495.80,175.62 L496.18,174.69 L496.55,173.76 L496.92,172.83 L497.29,171.90 L497.67,170.98 L498.05,170.05 L498.43,169.13 L498.82,168.21 L499.20,167.28 L499.59,166.36 L499.97,165.44 L500.36,164.51 L500.74,163.59 L501.13,162.67 L501.52,161.75 L501.91,160.83 L502.30,159.91 L502.70,158.99 L503.09,158.07 L503.49,157.16 L503.90,156.24 L504.30,155.33 L504.71,154.41 L505.13,153.50 L505.55,152.60 L505.96,151.69 L506.39,150.78 L506.81,149.87 L507.23,148.97 L507.65,148.06 L508.07,147.15 L508.49,146.25 L508.91,145.34 L509.33,144.43 L509.74,143.52 L510.15,142.61 L510.56,141.69 L510.96,140.78 L511.36,139.86 L511.75,138.94 L512.14,138.02 L512.52,137.09 L512.90,136.17 L513.28,135.25 L513.66,134.32 L514.04,133.39 L514.41,132.47 L514.78,131.54 L515.16,130.61 L515.53,129.68 L515.90,128.75 L516.27,127.82 L516.63,126.89 L517.00,125.96 L517.37,125.03 L517.74,124.10 L518.11,123.17 L518.48,122.24 L518.84,121.31 L519.20,120.38 L519.55,119.44 L519.91,118.51 L520.26,117.57 L520.61,116.64 L520.96,115.70 L521.33,114.77 L521.71,113.84 L522.10,112.93 L522.51,112.01 L522.94,111.11 L523.39,110.22 L523.86,109.34 L524.35,108.46 L524.84,107.60 L525.35,106.73 L525.86,105.87 L526.37,105.01 L526.87,104.15 L527.38,103.28 L527.87,102.42 L528.36,101.55 L528.86,100.67 L529.35,99.80 L529.84,98.93 L530.34,98.07 L530.85,97.21 L531.36,96.35 L531.90,95.50 L532.45,94.67 L533.03,93.86 L533.63,93.06 L534.28,92.30 L534.96,91.57 L535.67,90.87 L536.40,90.19 L537.16,89.54 L537.93,88.90 L538.70,88.26 L539.48,87.64 L540.28,87.03 L541.09,86.45 L541.92,85.89 L542.76,85.36 L543.63,84.87 L544.52,84.42 L545.43,84.01 L546.36,83.64 L547.31,83.33 L548.27,83.07 L549.25,82.86 L550.23,82.69 L551.22,82.55 L552.21,82.44 L553.21,82.35 L554.21,82.29 L555.21,82.24 L556.21,82.21 L557.21,82.20 L558.21,82.20 L559.21,82.21 L560.20,82.24 L561.20,82.28 L562.20,82.33 L563.20,82.38 L564.20,82.45 L565.20,82.52 L566.19,82.60 L567.19,82.69 L568.18,82.79 L569.18,82.91 L570.17,83.05 L571.15,83.21 L572.13,83.40 L573.11,83.60 L574.09,83.81 L575.07,84.02 L576.04,84.25 L577.01,84.49 L577.98,84.74 L578.94,85.01 L579.90,85.30 L580.85,85.62 L581.79,85.96 L582.71,86.34 L583.62,86.75 L584.51,87.20 L585.39,87.68 L586.25,88.19 L587.09,88.73 L587.93,89.28 L588.75,89.84 L589.57,90.41 L590.39,90.98 L591.21,91.56 L592.03,92.14 L592.83,92.73 L593.64,93.32 L594.44,93.92 L595.23,94.53 L596.03,95.14 L596.82,95.75 L597.61,96.36 L598.40,96.97 L599.20,97.57 L600.00,98.18 L600.79,98.78 L601.60,99.38 L602.40,99.97 L603.20,100.57 L604.00,101.18 L604.79,101.78 L605.59,102.39 L606.38,102.99 L607.18,103.59 L607.99,104.18 L608.80,104.76 L609.63,105.33 L610.46,105.88 L611.31,106.41 L612.17,106.92 L613.04,107.41 L613.93,107.87 L614.82,108.32 L615.73,108.74 L616.64,109.16 L617.55,109.55 L618.48,109.94 L619.40,110.31 L620.33,110.68 L621.27,111.04 L622.20,111.40 L623.14,111.75 L624.08,112.09 L625.02,112.44 L625.95,112.78 L626.90,113.12 L627.84,113.45 L628.78,113.78 L629.73,114.10 L630.68,114.41 L631.63,114.72 L632.59,115.02 L633.54,115.31 L634.50,115.60 L635.46,115.88 L636.42,116.15 L637.38,116.42 L638.35,116.69 L639.32,116.94 L640.28,117.19 L641.26,117.43 L642.23,117.66 L643.20,117.89 L644.18,118.11 L645.15,118.33 L646.13,118.55 L647.10,118.77 L648.07,118.98 L649.03,119.19 L649.50,119.30" stroke="#3a78d8" stroke-width="1.15" fill="none" stroke-linejoin="round" stroke-linecap="round" />
<path d="M387.10,239.30 L388.09,239.18 L389.09,239.06 L390.08,238.95 L391.07,238.83 L392.06,238.71 L393.06,238.58 L394.05,238.45 L395.04,238.31 L396.03,238.17 L397.02,238.01 L398.00,237.85 L398.98,237.66 L399.96,237.47 L400.94,237.25 L401.91,237.01 L402.88,236.76 L403.85,236.51 L404.81,236.24 L405.77,235.97 L406.74,235.70 L407.70,235.44 L408.67,235.18 L409.63,234.92 L410.60,234.68 L411.58,234.45 L412.55,234.24 L413.54,234.05 L414.52,233.90 L415.51,233.78 L416.51,233.72 L417.50,233.72 L418.50,233.79 L419.49,233.92 L420.47,234.10 L421.45,234.31 L422.42,234.54 L423.40,234.76 L424.37,234.95 L425.36,235.10 L426.35,235.19 L427.35,235.20 L428.34,235.14 L429.33,235.00 L430.31,234.81 L431.28,234.58 L432.24,234.32 L433.20,234.02 L434.15,233.71 L435.09,233.38 L436.03,233.04 L436.97,232.69 L437.90,232.33 L438.84,231.98 L439.78,231.63 L440.72,231.29 L441.66,230.96 L442.61,230.64 L443.56,230.34 L444.51,230.04 L445.47,229.75 L446.43,229.47 L447.39,229.18 L448.35,228.90 L449.31,228.62 L450.27,228.33 L451.22,228.03 L452.17,227.73 L453.12,227.42 L454.07,227.09 L455.01,226.75 L455.94,226.40 L456.87,226.02 L457.79,225.63 L458.70,225.22 L459.61,224.80 L460.51,224.36 L461.40,223.92 L462.29,223.46 L463.17,222.98 L464.05,222.50 L464.92,222.01 L465.78,221.50 L466.63,220.98 L467.48,220.44 L468.31,219.90 L469.14,219.34 L469.96,218.77 L470.78,218.19 L471.59,217.61 L472.39,217.01 L473.17,216.39 L473.93,215.73 L474.66,215.05 L475.36,214.34 L476.03,213.60 L476.67,212.83 L477.29,212.05 L477.89,211.25 L478.48,210.44 L479.05,209.62 L479.62,208.80 L480.17,207.96 L480.71,207.12 L481.25,206.28 L481.78,205.43 L482.30,204.58 L482.81,203.72 L483.32,202.86 L483.82,201.99 L484.31,201.12 L484.80,200.25 L485.28,199.37 L485.75,198.49 L486.22,197.60 L486.68,196.72 L487.13,195.83 L487.58,194.93 L488.02,194.04 L488.46,193.13 L488.88,192.23 L489.30,191.32 L489.71,190.41 L490.12,189.49 L490.51,188.58 L490.91,187.66 L491.30,186.74 L491.69,185.82 L492.07,184.89 L492.45,183.97 L492.83,183.04 L493.20,182.12 L493.58,181.19 L493.95,180.26 L494.32,179.33 L494.69,178.40 L495.07,177.47 L495.43,176.55 L495.80,175.62 L496.18,174.69 L496.55,173.76 L496.92,172.83 L497.29,171.90 L497.67,170.98 L498.05,170.05 L498.43,169.13 L498.82,168.21 L499.20,167.28 L499.59,166.36 L499.97,165.44 L500.36,164.51 L500.74,163.59 L501.13,162.67 L501.52,161.75 L501.91,160.83 L502.30,159.91 L502.70,158.99 L503.09,158.07 L503.49,157.15 L503.90,156.24 L504.30,155.33 L504.71,154.41 L505.13,153.50 L505.54,152.59 L505.96,151.69 L506.38,150.78 L506.80,149.87 L507.22,148.96 L507.64,148.06 L508.06,147.15 L508.48,146.24 L508.90,145.33 L509.32,144.42 L509.73,143.51 L510.14,142.60 L510.55,141.69 L510.96,140.78 L511.36,139.86 L511.76,138.94 L512.15,138.02 L512.54,137.10 L512.93,136.18 L513.32,135.26 L513.71,134.34 L514.09,133.42 L514.48,132.49 L514.86,131.57 L515.24,130.64 L515.62,129.72 L516.00,128.79 L516.38,127.87 L516.76,126.94 L517.14,126.02 L517.52,125.09 L517.90,124.17 L518.28,123.24 L518.65,122.32 L519.03,121.39 L519.39,120.46 L519.76,119.53 L520.11,118.59 L520.47,117.66 L520.83,116.73 L521.19,115.79 L521.56,114.86 L521.95,113.94 L522.35,113.02 L522.76,112.12 L523.20,111.22 L523.65,110.32 L524.12,109.44 L524.60,108.57 L525.10,107.70 L525.61,106.84 L526.12,105.98 L526.65,105.13 L527.18,104.28 L527.71,103.43 L528.24,102.59 L528.78,101.74 L529.32,100.90 L529.86,100.06 L530.41,99.23 L530.97,98.40 L531.53,97.57 L532.10,96.75 L532.68,95.93 L533.27,95.13 L533.87,94.33 L534.49,93.54 L535.12,92.77 L535.77,92.01 L536.44,91.27 L537.13,90.54 L537.85,89.85 L538.59,89.19 L539.37,88.56 L540.18,87.97 L541.02,87.44 L541.89,86.94 L542.78,86.49 L543.69,86.08 L544.62,85.72 L545.56,85.39 L546.52,85.12 L547.49,84.89 L548.47,84.70 L549.46,84.53 L550.45,84.39 L551.44,84.27 L552.43,84.17 L553.43,84.09 L554.43,84.04 L555.43,84.02 L556.43,84.02 L557.43,84.05 L558.43,84.10 L559.42,84.16 L560.42,84.23 L561.42,84.31 L562.41,84.39 L563.41,84.47 L564.41,84.55 L565.41,84.62 L566.40,84.68 L567.40,84.73 L568.40,84.78 L569.40,84.84 L570.40,84.92 L571.39,85.03 L572.38,85.16 L573.37,85.32 L574.35,85.48 L575.34,85.65 L576.32,85.84 L577.30,86.03 L578.28,86.25 L579.25,86.49 L580.21,86.75 L581.16,87.06 L582.10,87.40 L583.02,87.80 L583.91,88.24 L584.77,88.74 L585.61,89.28 L586.43,89.85 L587.24,90.44 L588.05,91.03 L588.85,91.62 L589.67,92.20 L590.50,92.76 L591.34,93.30 L592.19,93.83 L593.04,94.35 L593.89,94.87 L594.75,95.39 L595.61,95.90 L596.47,96.42 L597.33,96.93 L598.19,97.43 L599.05,97.94 L599.91,98.44 L600.78,98.95 L601.64,99.45 L602.51,99.95 L603.37,100.46 L604.23,100.96 L605.10,101.46 L605.96,101.96 L606.83,102.46 L607.70,102.96 L608.57,103.45 L609.45,103.93 L610.33,104.41 L611.21,104.87 L612.10,105.34 L612.99,105.79 L613.88,106.24 L614.78,106.68 L615.67,107.12 L616.57,107.56 L617.47,107.99 L618.38,108.42 L619.28,108.85 L620.19,109.26 L621.10,109.67 L622.02,110.08 L622.94,110.47 L623.86,110.85 L624.79,111.23 L625.73,111.58 L626.66,111.92 L627.61,112.25 L628.56,112.56 L629.52,112.85 L630.48,113.12 L631.44,113.39 L632.41,113.64 L633.38,113.88 L634.35,114.12 L635.32,114.36 L636.30,114.59 L637.27,114.82 L638.24,115.06 L639.21,115.29 L640.19,115.51 L641.16,115.73 L642.14,115.95 L643.12,116.16 L644.10,116.37 L645.07,116.58 L646.05,116.78 L647.03,116.98 L647.96,117.18 L648.80,117.35 L649.50,117.50 L649.50,117.50" stroke="#b07ae0" stroke-width="1.15" fill="none" stroke-linejoin="round" stroke-linecap="round" />
</g>
<defs><clipPath id="clipA341"><rect x="387.20" y="30.70" width="262.60" height="210.80"/></clipPath></defs>
<rect x="387.20" y="30.70" width="262.60" height="210.80" fill="none" stroke="#111" stroke-width="1.3"/>
<line x1="387.20" y1="241.50" x2="387.20" y2="246.10" stroke="#1a1a1a" stroke-width="1.2"/>
<text x="387.20" y="259.60" font-size="13.50" fill="#000" style="color:#000" text-anchor="middle" >7110</text>
<line x1="420.02" y1="241.50" x2="420.02" y2="243.90" stroke="#1a1a1a" stroke-width="1.2"/>
<line x1="452.85" y1="241.50" x2="452.85" y2="246.10" stroke="#1a1a1a" stroke-width="1.2"/>
<text x="452.85" y="259.60" font-size="13.50" fill="#000" style="color:#000" text-anchor="middle" >7119</text>
<line x1="485.67" y1="241.50" x2="485.67" y2="243.90" stroke="#1a1a1a" stroke-width="1.2"/>
<line x1="518.50" y1="241.50" x2="518.50" y2="246.10" stroke="#1a1a1a" stroke-width="1.2"/>
<text x="518.50" y="259.60" font-size="13.50" fill="#000" style="color:#000" text-anchor="middle" >7128</text>
<line x1="551.33" y1="241.50" x2="551.33" y2="243.90" stroke="#1a1a1a" stroke-width="1.2"/>
<line x1="584.15" y1="241.50" x2="584.15" y2="246.10" stroke="#1a1a1a" stroke-width="1.2"/>
<text x="584.15" y="259.60" font-size="13.50" fill="#000" style="color:#000" text-anchor="middle" >7137</text>
<line x1="616.98" y1="241.50" x2="616.98" y2="243.90" stroke="#1a1a1a" stroke-width="1.2"/>
<line x1="649.80" y1="241.50" x2="649.80" y2="246.10" stroke="#1a1a1a" stroke-width="1.2"/>
<text x="649.80" y="259.60" font-size="13.50" fill="#000" style="color:#000" text-anchor="middle" >7146</text>
<text x="518.70" y="281.00" font-size="15.10" fill="#000" style="color:#000" text-anchor="middle" >Energy (eV)</text>
<text transform="translate(376.50,135.30) rotate(-90)" font-size="15" text-anchor="middle" fill="#000">Normalized absorption (a.u.)</text>
<line x1="391.30" y1="46.00" x2="416.00" y2="46.00" stroke="#3cb371" stroke-width="1.60"/>
<line x1="391.30" y1="64.40" x2="416.00" y2="64.40" stroke="#3a78d8" stroke-width="1.60"/>
<line x1="391.30" y1="79.80" x2="416.00" y2="79.80" stroke="#b07ae0" stroke-width="1.40"/>
<text x="419.50" y="49.40" font-size="12.5" fill="#000">Fe-TiO<tspan font-size="8.8" dy="3.2">2</tspan><tspan dy="-3.2"> with KNO</tspan><tspan font-size="8.8" dy="3.2">3</tspan><tspan dy="-3.2"> at 0V</tspan></text>
<text x="419.50" y="67.90" font-size="12.50" fill="#000" style="color:#000" text-anchor="start" >- 0.2 V versus RHE</text>
<text x="419.50" y="83.30" font-size="12.50" fill="#000" style="color:#000" text-anchor="start" >- 0.5 V versus RHE</text>
<text x="394.60" y="221.60" font-size="10.50" fill="#0000f5" style="color:#0000f5;stroke-width:0.15px" text-anchor="start" >M-OFF</text>
<rect x="469.80" y="167.10" width="34.00" height="51.70" fill="none" stroke="#f78c8c" stroke-width="1.2" stroke-dasharray="5.6,5"/>
<line x1="503.80" y1="167.10" x2="544.10" y2="148.20" stroke="#111" stroke-width="1.25" stroke-dasharray="1.1,0.9"/>
<line x1="503.80" y1="218.80" x2="544.10" y2="216.20" stroke="#111" stroke-width="1.25" stroke-dasharray="1.1,0.9"/>
<defs><clipPath id="clipI341"><rect x="544.10" y="148.20" width="93.50" height="68.00"/></clipPath></defs>
<g clip-path="url(#clipI341)">
<path d="M547.30,216.20 L548.23,215.82 L549.15,215.45 L550.09,215.09 L551.02,214.73 L551.95,214.37 L552.89,214.02 L553.82,213.66 L554.75,213.29 L555.68,212.92 L556.61,212.54 L557.53,212.16 L558.45,211.77 L559.36,211.36 L560.27,210.95 L561.18,210.53 L562.08,210.09 L562.97,209.64 L563.86,209.18 L564.74,208.71 L565.61,208.22 L566.47,207.71 L567.33,207.19 L568.17,206.65 L569.00,206.10 L569.83,205.53 L570.64,204.96 L571.45,204.37 L572.26,203.78 L573.06,203.18 L573.85,202.57 L574.64,201.96 L575.43,201.34 L576.21,200.72 L576.99,200.09 L577.77,199.46 L578.54,198.83 L579.31,198.19 L580.08,197.55 L580.84,196.90 L581.60,196.26 L582.36,195.61 L583.12,194.95 L583.88,194.30 L584.63,193.64 L585.38,192.98 L586.13,192.32 L586.88,191.66 L587.63,191.00 L588.38,190.33 L589.12,189.66 L589.86,188.99 L590.61,188.32 L591.35,187.65 L592.08,186.98 L592.82,186.30 L593.56,185.62 L594.29,184.94 L595.02,184.26 L595.75,183.57 L596.47,182.88 L597.18,182.18 L597.90,181.48 L598.60,180.77 L599.31,180.06 L600.00,179.34 L600.70,178.62 L601.39,177.90 L602.07,177.17 L602.75,176.44 L603.43,175.70 L604.10,174.96 L604.77,174.22 L605.44,173.47 L606.10,172.73 L606.77,171.98 L607.43,171.23 L608.09,170.48 L608.76,169.74 L609.42,168.99 L610.09,168.24 L610.75,167.49 L611.41,166.74 L612.07,165.99 L612.73,165.24 L613.38,164.48 L614.04,163.72 L614.69,162.96 L615.34,162.20 L615.99,161.44 L616.63,160.68 L617.28,159.92 L617.92,159.15 L618.57,158.39 L619.21,157.62 L619.85,156.86 L620.49,156.09 L621.13,155.32 L621.77,154.55 L622.41,153.78 L623.05,153.01 L623.69,152.24 L624.32,151.47 L624.96,150.70 L625.59,149.92 L626.22,149.15 L626.85,148.37 L627.45,147.59 L628.01,146.81 L628.48,146.06 L628.84,145.35 L629.00,145.00" stroke="#3cb371" stroke-width="1.10" fill="none" stroke-linejoin="round" stroke-linecap="round" />
<path d="M546.50,216.20 L547.41,215.80 L548.33,215.40 L549.25,215.00 L550.17,214.62 L551.10,214.23 L552.02,213.85 L552.94,213.46 L553.86,213.07 L554.78,212.67 L555.69,212.27 L556.61,211.86 L557.51,211.44 L558.42,211.02 L559.32,210.58 L560.22,210.14 L561.11,209.69 L562.00,209.23 L562.88,208.75 L563.75,208.27 L564.62,207.77 L565.47,207.25 L566.32,206.73 L567.17,206.19 L568.00,205.64 L568.83,205.07 L569.64,204.50 L570.46,203.92 L571.27,203.33 L572.07,202.74 L572.87,202.14 L573.67,201.53 L574.46,200.92 L575.25,200.31 L576.03,199.69 L576.81,199.06 L577.60,198.44 L578.37,197.81 L579.15,197.18 L579.92,196.54 L580.69,195.91 L581.46,195.27 L582.23,194.63 L582.99,193.98 L583.76,193.34 L584.52,192.69 L585.28,192.04 L586.04,191.39 L586.79,190.73 L587.55,190.08 L588.30,189.42 L589.05,188.76 L589.81,188.10 L590.56,187.44 L591.30,186.78 L592.05,186.11 L592.80,185.45 L593.54,184.78 L594.28,184.10 L595.02,183.43 L595.75,182.75 L596.48,182.06 L597.20,181.37 L597.92,180.68 L598.64,179.98 L599.35,179.28 L600.05,178.57 L600.76,177.86 L601.45,177.14 L602.15,176.42 L602.84,175.70 L603.52,174.97 L604.21,174.24 L604.89,173.51 L605.57,172.77 L606.24,172.04 L606.92,171.30 L607.60,170.56 L608.27,169.82 L608.94,169.09 L609.62,168.35 L610.29,167.61 L610.96,166.87 L611.63,166.12 L612.30,165.38 L612.97,164.63 L613.63,163.88 L614.29,163.13 L614.95,162.38 L615.61,161.63 L616.26,160.87 L616.92,160.12 L617.57,159.36 L618.22,158.60 L618.87,157.84 L619.52,157.08 L620.17,156.32 L620.82,155.56 L621.47,154.80 L622.11,154.04 L622.76,153.27 L623.40,152.51 L624.05,151.74 L624.69,150.97 L625.33,150.21 L625.97,149.44 L626.60,148.67 L627.23,147.89 L627.81,147.12 L628.32,146.36 L628.71,145.65 L629.00,145.00 L629.00,145.00" stroke="#3a78d8" stroke-width="1.10" fill="none" stroke-linejoin="round" stroke-linecap="round" />
<path d="M545.80,216.20 L546.70,215.77 L547.60,215.33 L548.51,214.91 L549.41,214.49 L550.32,214.07 L551.23,213.65 L552.14,213.23 L553.04,212.80 L553.95,212.38 L554.85,211.94 L555.75,211.51 L556.64,211.06 L557.54,210.61 L558.43,210.16 L559.31,209.70 L560.20,209.23 L561.08,208.75 L561.95,208.26 L562.82,207.77 L563.68,207.26 L564.54,206.75 L565.39,206.22 L566.23,205.68 L567.07,205.13 L567.89,204.58 L568.72,204.01 L569.54,203.43 L570.35,202.85 L571.16,202.27 L571.97,201.68 L572.77,201.08 L573.57,200.49 L574.37,199.88 L575.17,199.28 L575.96,198.67 L576.75,198.06 L577.54,197.44 L578.33,196.82 L579.11,196.20 L579.89,195.58 L580.67,194.96 L581.45,194.33 L582.23,193.70 L583.01,193.07 L583.78,192.43 L584.55,191.80 L585.32,191.16 L586.09,190.52 L586.85,189.88 L587.62,189.23 L588.38,188.59 L589.14,187.94 L589.90,187.29 L590.66,186.63 L591.42,185.98 L592.17,185.32 L592.92,184.66 L593.67,184.00 L594.41,183.33 L595.15,182.65 L595.88,181.97 L596.61,181.29 L597.34,180.60 L598.05,179.90 L598.77,179.20 L599.48,178.50 L600.18,177.79 L600.88,177.07 L601.58,176.35 L602.27,175.63 L602.95,174.91 L603.64,174.18 L604.32,173.45 L605.00,172.71 L605.68,171.98 L606.36,171.24 L607.03,170.51 L607.71,169.77 L608.39,169.04 L609.07,168.30 L609.75,167.57 L610.43,166.84 L611.11,166.10 L611.79,165.37 L612.46,164.63 L613.14,163.89 L613.81,163.15 L614.48,162.41 L615.15,161.67 L615.82,160.92 L616.49,160.18 L617.15,159.43 L617.82,158.69 L618.48,157.94 L619.15,157.19 L619.81,156.44 L620.47,155.70 L621.13,154.95 L621.79,154.19 L622.45,153.44 L623.11,152.69 L623.77,151.94 L624.43,151.18 L625.08,150.43 L625.73,149.67 L626.38,148.91 L627.02,148.14 L627.63,147.37 L628.18,146.58 L628.63,145.79 L629.00,145.00 L629.00,145.00" stroke="#b07ae0" stroke-width="1.10" fill="none" stroke-linejoin="round" stroke-linecap="round" />
</g>
<rect x="544.10" y="148.20" width="93.50" height="68.00" fill="none" stroke="#333" stroke-width="1"/>
<line x1="557.10" y1="216.20" x2="557.10" y2="215.00" stroke="#333" stroke-width="0.6"/>
<text x="557.10" y="222.80" font-size="5.00" fill="#333" style="color:#333;stroke-width:0.05px" text-anchor="middle" >7122.0</text>
<line x1="581.55" y1="216.20" x2="581.55" y2="215.00" stroke="#333" stroke-width="0.6"/>
<text x="581.55" y="222.80" font-size="5.00" fill="#333" style="color:#333;stroke-width:0.05px" text-anchor="middle" >7123.2</text>
<line x1="606.00" y1="216.20" x2="606.00" y2="215.00" stroke="#333" stroke-width="0.6"/>
<text x="606.00" y="222.80" font-size="5.00" fill="#333" style="color:#333;stroke-width:0.05px" text-anchor="middle" >7124.4</text>
<line x1="630.45" y1="216.20" x2="630.45" y2="215.00" stroke="#333" stroke-width="0.6"/>
<text x="630.45" y="222.80" font-size="5.00" fill="#333" style="color:#333;stroke-width:0.05px" text-anchor="middle" >7125.6</text>
<line x1="570.90" y1="185.50" x2="617.20" y2="185.50" stroke="#000" stroke-width="1.3"/>
<polygon points="565.10,185.50 573.20,183.30 573.20,187.70" fill="#000"/>
<defs><clipPath id="clipC0"><rect x="42.50" y="303.40" width="267.90" height="210.50"/></clipPath></defs>
<g clip-path="url(#clipC0)">
<path d="M42.50,305.30 L43.50,305.32 L44.50,305.34 L45.50,305.36 L46.50,305.39 L47.50,305.41 L48.50,305.43 L49.50,305.45 L50.50,305.47 L51.50,305.49 L52.50,305.51 L53.50,305.53 L54.50,305.54 L55.50,305.56 L56.50,305.57 L57.50,305.58 L58.50,305.59 L59.50,305.60 L60.50,305.60 L61.50,305.60 L62.50,305.60 L63.50,305.59 L64.50,305.59 L65.50,305.58 L66.50,305.57 L67.50,305.56 L68.50,305.54 L69.50,305.53 L70.50,305.52 L71.50,305.50 L72.50,305.49 L73.50,305.47 L74.50,305.46 L75.50,305.45 L76.50,305.44 L77.50,305.43 L78.50,305.41 L79.50,305.40 L80.50,305.40 L81.50,305.39 L82.50,305.38 L83.50,305.37 L84.50,305.36 L85.50,305.35 L86.50,305.33 L87.50,305.32 L88.50,305.31 L89.50,305.30 L90.50,305.29 L91.50,305.28 L92.50,305.27 L93.50,305.26 L94.50,305.25 L95.50,305.24 L96.50,305.23 L97.50,305.23 L98.50,305.22 L99.50,305.21 L100.50,305.21 L101.50,305.20 L102.50,305.20 L103.50,305.20 L104.50,305.20 L105.50,305.20 L106.50,305.20 L107.50,305.20 L108.49,305.21 L109.49,305.22 L110.49,305.23 L111.49,305.25 L112.49,305.27 L113.49,305.29 L114.49,305.31 L115.49,305.33 L116.49,305.36 L117.49,305.39 L118.49,305.41 L119.49,305.44 L120.49,305.46 L121.49,305.48 L122.49,305.51 L123.49,305.53 L124.49,305.55 L125.49,305.56 L126.49,305.57 L127.49,305.58 L128.49,305.59 L129.49,305.60 L130.49,305.60 L131.49,305.60 L132.49,305.59 L133.49,305.59 L134.49,305.58 L135.49,305.57 L136.49,305.56 L137.49,305.55 L138.49,305.53 L139.49,305.52 L140.49,305.50 L141.49,305.48 L142.49,305.47 L143.49,305.45 L144.49,305.43 L145.49,305.42 L146.49,305.40 L147.49,305.39 L148.49,305.37 L149.49,305.36 L150.49,305.35 L151.49,305.34 L152.49,305.33 L153.49,305.32 L154.49,305.31 L155.49,305.31 L156.49,305.30 L157.49,305.30 L158.49,305.30 L159.49,305.30 L160.49,305.30 L161.49,305.31 L162.49,305.31 L163.49,305.32 L164.49,305.33 L165.49,305.33 L166.49,305.34 L167.49,305.35 L168.49,305.36 L169.49,305.38 L170.49,305.39 L171.49,305.40 L172.49,305.41 L173.49,305.43 L174.49,305.44 L175.49,305.46 L176.49,305.47 L177.49,305.48 L178.49,305.50 L179.49,305.51 L180.49,305.53 L181.49,305.54 L182.49,305.56 L183.49,305.58 L184.49,305.59 L185.49,305.61 L186.49,305.62 L187.49,305.64 L188.49,305.65 L189.49,305.67 L190.49,305.68 L191.49,305.69 L192.49,305.71 L193.49,305.72 L194.49,305.74 L195.49,305.75 L196.49,305.76 L197.49,305.77 L198.49,305.78 L199.49,305.79 L200.49,305.80 L201.49,305.82 L202.49,305.83 L203.49,305.84 L204.49,305.85 L205.49,305.86 L206.49,305.87 L207.49,305.88 L208.49,305.89 L209.49,305.90 L210.49,305.91 L211.49,305.92 L212.48,305.94 L213.48,305.95 L214.48,305.96 L215.48,305.97 L216.48,305.98 L217.48,305.99 L218.48,306.00 L219.48,306.01 L220.48,306.02 L221.48,306.03 L222.48,306.04 L223.48,306.05 L224.48,306.06 L225.48,306.07 L226.48,306.08 L227.48,306.08 L228.48,306.09 L229.48,306.10 L230.48,306.10 L231.48,306.11 L232.48,306.11 L233.48,306.12 L234.48,306.12 L235.48,306.12 L236.48,306.12 L237.48,306.12 L238.48,306.11 L239.48,306.10 L240.48,306.09 L241.48,306.07 L242.48,306.03 L243.48,305.96 L244.46,305.82 L245.38,305.52 L246.32,305.26 L247.31,305.15 L248.30,305.09 L249.30,305.04 L250.30,305.01 L251.30,304.97 L252.30,304.95 L253.30,304.93 L254.30,304.91 L255.30,304.90 L256.30,304.90 L257.30,304.91 L258.30,304.94 L259.30,304.97 L260.30,305.01 L261.30,305.06 L262.30,305.10 L263.30,305.14 L264.30,305.17 L265.30,305.19 L266.30,305.21 L267.30,305.21 L268.30,305.21 L269.30,305.21 L270.30,305.20 L271.30,305.20 L272.30,305.19 L273.30,305.18 L274.30,305.18 L275.30,305.18 L276.30,305.18 L277.30,305.19 L278.30,305.21 L279.29,305.24 L280.29,305.28 L281.29,305.33 L282.29,305.38 L283.29,305.43 L284.29,305.48 L285.29,305.52 L286.29,305.56 L287.29,305.58 L288.29,305.59 L289.29,305.59 L290.29,305.58 L291.29,305.57 L292.29,305.54 L293.29,305.51 L294.29,305.48 L295.28,305.44 L296.28,305.40 L297.28,305.36 L298.28,305.31 L299.28,305.26 L300.28,305.21 L301.28,305.16 L302.28,305.10 L303.27,305.03 L304.27,304.96 L305.27,304.89 L306.27,304.82 L307.26,304.74 L308.26,304.66 L309.24,304.59 L310.08,304.52 L310.40,304.50" stroke="#ff46a8" stroke-width="1.25" fill="none" stroke-linejoin="round" stroke-linecap="round" />
<path d="M42.00,323.20 L43.00,323.25 L44.00,323.29 L45.00,323.33 L46.00,323.39 L46.99,323.47 L47.99,323.57 L48.97,323.72 L49.95,323.92 L50.92,324.17 L51.87,324.47 L52.82,324.79 L53.76,325.14 L54.70,325.49 L55.64,325.83 L56.58,326.16 L57.53,326.47 L58.48,326.77 L59.44,327.07 L60.39,327.36 L61.35,327.65 L62.31,327.94 L63.27,328.22 L64.23,328.49 L65.20,328.75 L66.17,328.97 L67.15,329.18 L68.13,329.38 L69.10,329.60 L70.07,329.87 L71.01,330.20 L71.92,330.60 L72.82,331.05 L73.69,331.53 L74.57,332.01 L75.46,332.47 L76.36,332.89 L77.30,333.24 L78.26,333.51 L79.24,333.71 L80.23,333.87 L81.22,334.01 L82.20,334.17 L83.18,334.36 L84.15,334.60 L85.12,334.85 L86.08,335.13 L87.04,335.42 L87.99,335.73 L88.93,336.06 L89.87,336.42 L90.79,336.81 L91.70,337.22 L92.60,337.66 L93.50,338.09 L94.41,338.50 L95.33,338.88 L96.27,339.22 L97.22,339.55 L98.17,339.85 L99.13,340.14 L100.09,340.41 L101.06,340.66 L102.04,340.87 L103.02,341.03 L104.02,341.14 L105.01,341.19 L106.01,341.17 L107.01,341.09 L108.00,340.96 L108.99,340.81 L109.97,340.65 L110.96,340.47 L111.94,340.27 L112.91,340.06 L113.89,339.82 L114.85,339.55 L115.81,339.26 L116.76,338.95 L117.69,338.60 L118.62,338.21 L119.52,337.80 L120.43,337.37 L121.32,336.92 L122.21,336.47 L123.10,336.02 L124.00,335.57 L124.91,335.15 L125.81,334.73 L126.72,334.31 L127.63,333.90 L128.55,333.49 L129.46,333.09 L130.39,332.71 L131.32,332.34 L132.25,331.99 L133.19,331.65 L134.13,331.31 L135.08,330.98 L136.02,330.64 L136.97,330.32 L137.92,330.01 L138.87,329.72 L139.83,329.44 L140.80,329.19 L141.78,328.97 L142.76,328.79 L143.75,328.65 L144.74,328.55 L145.74,328.49 L146.74,328.46 L147.74,328.47 L148.74,328.52 L149.73,328.60 L150.73,328.72 L151.71,328.90 L152.67,329.15 L153.62,329.48 L154.54,329.87 L155.44,330.30 L156.34,330.73 L157.25,331.14 L158.17,331.54 L159.09,331.92 L160.01,332.32 L160.93,332.71 L161.85,333.10 L162.78,333.48 L163.70,333.86 L164.63,334.22 L165.57,334.58 L166.50,334.96 L167.42,335.33 L168.35,335.69 L169.30,336.00 L170.28,336.20 L171.27,336.25 L172.25,336.13 L173.21,335.86 L174.13,335.48 L175.03,335.04 L175.92,334.60 L176.83,334.17 L177.75,333.79 L178.69,333.44 L179.63,333.10 L180.57,332.77 L181.52,332.44 L182.47,332.12 L183.42,331.82 L184.38,331.54 L185.34,331.27 L186.31,331.03 L187.29,330.81 L188.26,330.60 L189.24,330.41 L190.23,330.21 L191.21,330.02 L192.19,329.81 L193.16,329.60 L194.13,329.36 L195.10,329.10 L196.06,328.82 L197.01,328.52 L197.97,328.22 L198.92,327.92 L199.88,327.63 L200.84,327.35 L201.81,327.11 L202.78,326.90 L203.77,326.73 L204.76,326.61 L205.76,326.53 L206.76,326.47 L207.76,326.42 L208.75,326.37 L209.75,326.31 L210.75,326.25 L211.75,326.18 L212.75,326.12 L213.74,326.05 L214.74,325.99 L215.74,325.91 L216.73,325.83 L217.73,325.73 L218.72,325.61 L219.71,325.48 L220.70,325.34 L221.69,325.19 L222.68,325.03 L223.67,324.88 L224.66,324.72 L225.65,324.57 L226.63,324.42 L227.62,324.27 L228.61,324.12 L229.60,323.95 L230.58,323.79 L231.57,323.63 L232.56,323.49 L233.55,323.37 L234.55,323.28 L235.55,323.21 L236.55,323.18 L237.55,323.19 L238.54,323.21 L239.54,323.25 L240.54,323.31 L241.54,323.36 L242.54,323.42 L243.54,323.46 L244.54,323.49 L245.54,323.49 L246.54,323.45 L247.53,323.38 L248.53,323.27 L249.52,323.15 L250.51,323.03 L251.51,322.95 L252.51,322.91 L253.51,322.92 L254.51,322.97 L255.50,323.05 L256.50,323.14 L257.49,323.25 L258.48,323.37 L259.48,323.50 L260.47,323.64 L261.45,323.79 L262.43,324.01 L263.37,324.33 L264.31,324.64 L265.27,324.74 L266.20,324.48 L267.03,323.95 L267.81,323.34 L268.63,322.78 L269.53,322.35 L270.48,322.06 L271.46,321.87 L272.45,321.74 L273.45,321.65 L274.44,321.57 L275.44,321.51 L276.44,321.45 L277.44,321.38 L278.44,321.31 L279.43,321.22 L280.43,321.12 L281.42,321.01 L282.41,320.89 L283.40,320.76 L284.40,320.63 L285.39,320.50 L286.38,320.36 L287.37,320.22 L288.36,320.09 L289.35,319.96 L290.34,319.83 L291.33,319.70 L292.33,319.58 L293.32,319.47 L294.32,319.37 L295.31,319.28 L296.31,319.20 L297.31,319.13 L298.30,319.08 L299.30,319.04 L300.30,319.00 L301.30,318.98 L302.30,318.96 L303.30,318.94 L304.30,318.93 L305.30,318.93 L306.30,318.92 L307.30,318.92 L308.30,318.92 L309.29,318.91 L310.10,318.90 L310.40,318.90" stroke="#ff6b78" stroke-width="1.15" fill="none" stroke-linejoin="round" stroke-linecap="round" />
<path d="M42.00,334.40 L42.99,334.53 L43.98,334.66 L44.97,334.79 L45.96,334.93 L46.95,335.10 L47.93,335.30 L48.90,335.54 L49.85,335.83 L50.80,336.17 L51.72,336.54 L52.64,336.94 L53.55,337.35 L54.46,337.77 L55.36,338.20 L56.27,338.62 L57.19,339.02 L58.11,339.41 L59.03,339.79 L59.97,340.14 L60.90,340.49 L61.84,340.84 L62.78,341.18 L63.72,341.52 L64.66,341.86 L65.60,342.21 L66.53,342.58 L67.46,342.95 L68.37,343.35 L69.28,343.77 L70.19,344.20 L71.09,344.63 L71.99,345.07 L72.89,345.50 L73.79,345.93 L74.69,346.36 L75.60,346.79 L76.50,347.22 L77.40,347.65 L78.32,348.06 L79.24,348.44 L80.17,348.81 L81.11,349.13 L82.07,349.43 L83.02,349.73 L83.98,350.03 L84.92,350.35 L85.86,350.69 L86.79,351.06 L87.71,351.45 L88.63,351.85 L89.55,352.25 L90.46,352.65 L91.38,353.06 L92.29,353.46 L93.21,353.86 L94.13,354.26 L95.05,354.65 L95.96,355.05 L96.88,355.45 L97.79,355.86 L98.70,356.27 L99.62,356.67 L100.54,357.05 L101.48,357.40 L102.43,357.72 L103.39,357.98 L104.37,358.16 L105.36,358.27 L106.36,358.29 L107.36,358.23 L108.35,358.11 L109.34,357.96 L110.33,357.80 L111.31,357.63 L112.29,357.43 L113.27,357.21 L114.23,356.95 L115.18,356.64 L116.11,356.28 L117.02,355.87 L117.90,355.39 L118.74,354.85 L119.55,354.26 L120.34,353.65 L121.12,353.03 L121.90,352.40 L122.68,351.78 L123.47,351.17 L124.29,350.58 L125.12,350.04 L125.98,349.53 L126.86,349.05 L127.75,348.59 L128.65,348.16 L129.56,347.73 L130.47,347.32 L131.38,346.91 L132.29,346.49 L133.20,346.07 L134.10,345.65 L135.00,345.22 L135.91,344.80 L136.82,344.39 L137.75,344.01 L138.68,343.65 L139.63,343.33 L140.59,343.05 L141.55,342.80 L142.53,342.58 L143.51,342.40 L144.50,342.24 L145.49,342.12 L146.49,342.05 L147.49,342.01 L148.49,342.03 L149.48,342.11 L150.47,342.25 L151.45,342.45 L152.41,342.72 L153.36,343.04 L154.28,343.43 L155.18,343.87 L156.05,344.36 L156.90,344.88 L157.74,345.42 L158.57,345.98 L159.40,346.54 L160.23,347.09 L161.05,347.66 L161.86,348.25 L162.66,348.85 L163.46,349.45 L164.27,350.04 L165.09,350.61 L165.94,351.13 L166.82,351.60 L167.73,352.02 L168.67,352.36 L169.63,352.58 L170.62,352.64 L171.61,352.51 L172.56,352.23 L173.47,351.83 L174.36,351.37 L175.23,350.88 L176.10,350.38 L176.97,349.89 L177.85,349.42 L178.73,348.95 L179.61,348.47 L180.48,347.98 L181.35,347.49 L182.24,347.02 L183.13,346.57 L184.04,346.16 L184.97,345.80 L185.92,345.49 L186.89,345.25 L187.87,345.04 L188.86,344.87 L189.84,344.71 L190.83,344.56 L191.82,344.39 L192.79,344.19 L193.77,343.95 L194.72,343.67 L195.67,343.35 L196.61,343.01 L197.55,342.66 L198.48,342.29 L199.41,341.92 L200.34,341.56 L201.27,341.20 L202.22,340.87 L203.17,340.55 L204.12,340.26 L205.08,339.97 L206.04,339.69 L207.00,339.43 L207.98,339.20 L208.96,339.00 L209.94,338.82 L210.93,338.69 L211.92,338.59 L212.92,338.53 L213.92,338.49 L214.92,338.45 L215.92,338.39 L216.92,338.31 L217.91,338.20 L218.90,338.07 L219.89,337.93 L220.88,337.76 L221.86,337.60 L222.85,337.43 L223.83,337.25 L224.82,337.08 L225.81,336.92 L226.79,336.76 L227.78,336.62 L228.77,336.49 L229.77,336.38 L230.76,336.30 L231.76,336.26 L232.76,336.25 L233.76,336.28 L234.76,336.34 L235.76,336.41 L236.75,336.49 L237.75,336.55 L238.75,336.59 L239.75,336.61 L240.75,336.58 L241.75,336.53 L242.74,336.45 L243.74,336.35 L244.73,336.25 L245.73,336.13 L246.72,336.02 L247.71,335.90 L248.71,335.79 L249.70,335.69 L250.70,335.61 L251.70,335.54 L252.70,335.51 L253.70,335.53 L254.69,335.59 L255.69,335.69 L256.68,335.84 L257.66,336.02 L258.64,336.23 L259.61,336.47 L260.58,336.71 L261.53,336.99 L262.45,337.38 L263.33,337.84 L264.25,338.20 L265.21,338.28 L266.15,338.02 L267.01,337.54 L267.81,336.94 L268.58,336.30 L269.35,335.67 L270.15,335.07 L270.99,334.53 L271.88,334.09 L272.82,333.76 L273.79,333.51 L274.77,333.32 L275.76,333.17 L276.75,333.05 L277.74,332.94 L278.74,332.83 L279.73,332.72 L280.72,332.59 L281.71,332.45 L282.70,332.32 L283.69,332.18 L284.68,332.02 L285.67,331.85 L286.65,331.66 L287.63,331.47 L288.61,331.27 L289.59,331.07 L290.57,330.87 L291.55,330.68 L292.53,330.48 L293.52,330.30 L294.50,330.12 L295.49,329.95 L296.47,329.81 L297.47,329.70 L298.46,329.67 L299.46,329.75 L300.44,329.92 L301.42,330.10 L302.42,330.17 L303.41,330.14 L304.41,330.05 L305.40,329.93 L306.39,329.80 L307.38,329.66 L308.37,329.51 L309.34,329.36 L310.13,329.24 L310.40,329.20" stroke="#f5a070" stroke-width="1.15" fill="none" stroke-linejoin="round" stroke-linecap="round" />
<path d="M42.00,347.20 L42.97,347.45 L43.94,347.69 L44.91,347.94 L45.87,348.20 L46.83,348.49 L47.78,348.81 L48.71,349.17 L49.62,349.58 L50.51,350.03 L51.38,350.52 L52.24,351.03 L53.09,351.55 L53.94,352.09 L54.78,352.64 L55.61,353.18 L56.45,353.72 L57.30,354.26 L58.15,354.78 L59.01,355.29 L59.88,355.79 L60.75,356.29 L61.62,356.77 L62.50,357.25 L63.37,357.73 L64.25,358.21 L65.13,358.69 L66.01,359.17 L66.90,359.63 L67.79,360.07 L68.68,360.53 L69.56,361.01 L70.41,361.53 L71.22,362.12 L71.97,362.77 L72.68,363.47 L73.37,364.20 L74.05,364.94 L74.73,365.67 L75.44,366.37 L76.19,367.03 L76.99,367.63 L77.82,368.18 L78.69,368.67 L79.58,369.11 L80.51,369.49 L81.46,369.77 L82.44,369.99 L83.41,370.21 L84.36,370.51 L85.27,370.93 L86.12,371.44 L86.94,372.02 L87.72,372.64 L88.48,373.28 L89.24,373.94 L89.99,374.60 L90.73,375.27 L91.45,375.97 L92.16,376.67 L92.87,377.38 L93.58,378.08 L94.31,378.77 L95.05,379.43 L95.84,380.05 L96.66,380.61 L97.54,381.09 L98.45,381.50 L99.37,381.88 L100.30,382.25 L101.23,382.63 L102.17,382.96 L103.13,383.21 L104.12,383.35 L105.12,383.41 L106.12,383.41 L107.12,383.38 L108.11,383.31 L109.11,383.19 L110.09,383.03 L111.07,382.82 L112.03,382.54 L112.96,382.19 L113.88,381.80 L114.78,381.35 L115.65,380.87 L116.51,380.36 L117.35,379.82 L118.18,379.25 L118.98,378.66 L119.75,378.03 L120.49,377.36 L121.18,376.63 L121.82,375.87 L122.44,375.08 L123.05,374.29 L123.67,373.51 L124.32,372.75 L125.00,372.01 L125.70,371.30 L126.41,370.59 L127.12,369.89 L127.84,369.19 L128.56,368.51 L129.30,367.83 L130.05,367.17 L130.81,366.52 L131.59,365.90 L132.39,365.29 L133.20,364.71 L134.02,364.14 L134.85,363.58 L135.70,363.04 L136.55,362.52 L137.42,362.02 L138.30,361.55 L139.19,361.10 L140.10,360.69 L141.03,360.32 L141.97,359.99 L142.93,359.70 L143.90,359.46 L144.88,359.26 L145.86,359.09 L146.85,358.97 L147.85,358.90 L148.85,358.87 L149.85,358.90 L150.84,359.01 L151.82,359.19 L152.78,359.48 L153.70,359.86 L154.59,360.31 L155.44,360.83 L156.26,361.39 L157.06,362.00 L157.81,362.66 L158.53,363.35 L159.24,364.06 L159.92,364.79 L160.60,365.52 L161.27,366.26 L161.95,367.00 L162.63,367.73 L163.30,368.47 L163.96,369.23 L164.60,369.99 L165.25,370.76 L165.89,371.52 L166.56,372.26 L167.26,372.97 L168.00,373.65 L168.76,374.30 L169.58,374.85 L170.50,375.15 L171.47,375.12 L172.41,374.83 L173.31,374.40 L174.17,373.89 L175.00,373.34 L175.82,372.77 L176.63,372.18 L177.44,371.59 L178.23,370.98 L179.01,370.36 L179.77,369.71 L180.53,369.05 L181.28,368.39 L182.03,367.73 L182.78,367.08 L183.55,366.44 L184.34,365.83 L185.16,365.25 L186.00,364.71 L186.86,364.21 L187.75,363.74 L188.65,363.30 L189.55,362.88 L190.46,362.46 L191.37,362.04 L192.27,361.61 L193.16,361.16 L194.05,360.70 L194.93,360.23 L195.82,359.76 L196.70,359.28 L197.58,358.82 L198.47,358.35 L199.36,357.90 L200.26,357.46 L201.16,357.04 L202.08,356.65 L203.02,356.31 L203.98,356.02 L204.95,355.79 L205.94,355.63 L206.93,355.51 L207.92,355.40 L208.91,355.27 L209.90,355.11 L210.88,354.92 L211.86,354.71 L212.84,354.49 L213.81,354.27 L214.79,354.05 L215.76,353.83 L216.73,353.60 L217.71,353.37 L218.68,353.13 L219.65,352.89 L220.62,352.64 L221.59,352.39 L222.56,352.15 L223.52,351.90 L224.50,351.66 L225.47,351.43 L226.44,351.20 L227.42,350.98 L228.39,350.75 L229.37,350.53 L230.35,350.33 L231.33,350.15 L232.32,350.00 L233.31,349.89 L234.31,349.82 L235.31,349.78 L236.31,349.78 L237.31,349.80 L238.31,349.84 L239.30,349.91 L240.30,350.02 L241.28,350.17 L242.26,350.39 L243.22,350.65 L244.19,350.91 L245.16,351.12 L246.15,351.25 L247.15,351.25 L248.14,351.12 L249.12,350.93 L250.09,350.70 L251.07,350.50 L252.06,350.36 L253.05,350.33 L254.04,350.42 L255.03,350.60 L256.00,350.84 L256.96,351.12 L257.91,351.42 L258.86,351.73 L259.80,352.08 L260.70,352.50 L261.58,352.97 L262.45,353.46 L263.35,353.90 L264.29,354.20 L265.25,354.25 L266.16,353.96 L266.95,353.38 L267.63,352.65 L268.26,351.87 L268.87,351.08 L269.50,350.31 L270.19,349.59 L270.97,348.97 L271.82,348.46 L272.73,348.04 L273.66,347.68 L274.61,347.36 L275.57,347.08 L276.53,346.83 L277.50,346.58 L278.47,346.34 L279.45,346.14 L280.44,345.98 L281.43,345.84 L282.42,345.71 L283.41,345.56 L284.39,345.39 L285.37,345.17 L286.33,344.90 L287.28,344.60 L288.23,344.26 L289.16,343.91 L290.09,343.55 L291.02,343.18 L291.96,342.82 L292.90,342.48 L293.84,342.16 L294.79,341.85 L295.75,341.54 L296.70,341.25 L297.67,340.99 L298.64,340.78 L299.63,340.61 L300.62,340.50 L301.62,340.43 L302.62,340.40 L303.62,340.39 L304.62,340.39 L305.62,340.40 L306.62,340.42 L307.62,340.44 L308.62,340.46 L309.58,340.49 L310.40,340.50 L310.40,340.50" stroke="#ecb565" stroke-width="1.15" fill="none" stroke-linejoin="round" stroke-linecap="round" />
<path d="M42.00,359.80 L42.94,360.14 L43.88,360.47 L44.83,360.80 L45.77,361.14 L46.70,361.49 L47.63,361.86 L48.55,362.26 L49.45,362.69 L50.33,363.17 L51.18,363.70 L52.01,364.26 L52.81,364.85 L53.60,365.46 L54.38,366.09 L55.15,366.73 L55.90,367.39 L56.63,368.07 L57.36,368.76 L58.07,369.45 L58.79,370.15 L59.52,370.83 L60.27,371.50 L61.03,372.15 L61.81,372.77 L62.60,373.38 L63.41,373.98 L64.22,374.57 L65.03,375.15 L65.84,375.74 L66.65,376.31 L67.48,376.87 L68.32,377.41 L69.16,377.97 L69.97,378.55 L70.73,379.19 L71.43,379.90 L72.06,380.68 L72.63,381.50 L73.17,382.34 L73.71,383.18 L74.29,383.99 L74.92,384.77 L75.58,385.52 L76.26,386.25 L76.96,386.97 L77.69,387.65 L78.45,388.30 L79.27,388.86 L80.15,389.32 L81.07,389.70 L81.98,390.11 L82.84,390.62 L83.66,391.19 L84.45,391.81 L85.22,392.44 L85.99,393.08 L86.75,393.73 L87.50,394.39 L88.24,395.06 L88.98,395.73 L89.71,396.41 L90.43,397.11 L91.14,397.81 L91.84,398.53 L92.53,399.25 L93.22,399.97 L93.92,400.69 L94.61,401.41 L95.32,402.12 L96.03,402.82 L96.77,403.50 L97.51,404.17 L98.26,404.83 L99.01,405.49 L99.76,406.15 L100.53,406.79 L101.31,407.42 L102.11,408.02 L102.94,408.57 L103.80,409.07 L104.72,409.47 L105.67,409.74 L106.66,409.87 L107.65,409.85 L108.63,409.68 L109.59,409.41 L110.53,409.08 L111.46,408.70 L112.37,408.29 L113.26,407.84 L114.13,407.35 L114.98,406.82 L115.80,406.25 L116.60,405.65 L117.36,405.00 L118.08,404.31 L118.76,403.58 L119.39,402.80 L119.98,402.00 L120.53,401.16 L121.06,400.31 L121.57,399.46 L122.08,398.59 L122.58,397.73 L123.08,396.86 L123.59,396.00 L124.12,395.15 L124.66,394.31 L125.22,393.48 L125.78,392.65 L126.33,391.82 L126.88,390.99 L127.43,390.15 L127.99,389.32 L128.56,388.50 L129.14,387.68 L129.74,386.89 L130.36,386.10 L131.01,385.35 L131.69,384.61 L132.40,383.91 L133.14,383.24 L133.90,382.58 L134.67,381.95 L135.46,381.34 L136.27,380.74 L137.08,380.16 L137.91,379.60 L138.74,379.05 L139.59,378.52 L140.45,378.00 L141.32,377.51 L142.20,377.05 L143.10,376.62 L144.03,376.24 L144.97,375.92 L145.94,375.69 L146.93,375.57 L147.93,375.55 L148.92,375.66 L149.89,375.87 L150.85,376.16 L151.78,376.52 L152.68,376.96 L153.53,377.48 L154.34,378.06 L155.11,378.70 L155.84,379.38 L156.54,380.09 L157.20,380.84 L157.82,381.62 L158.40,382.44 L158.93,383.28 L159.42,384.15 L159.90,385.03 L160.35,385.92 L160.81,386.82 L161.26,387.71 L161.73,388.59 L162.22,389.46 L162.74,390.31 L163.28,391.16 L163.82,392.00 L164.37,392.83 L164.93,393.66 L165.51,394.48 L166.10,395.28 L166.73,396.05 L167.41,396.79 L168.15,397.46 L168.96,398.03 L169.86,398.37 L170.81,398.33 L171.70,397.95 L172.47,397.34 L173.16,396.62 L173.80,395.85 L174.42,395.06 L175.04,394.27 L175.66,393.49 L176.30,392.72 L176.93,391.95 L177.56,391.17 L178.17,390.38 L178.78,389.59 L179.39,388.80 L180.01,388.01 L180.63,387.23 L181.28,386.46 L181.94,385.71 L182.63,384.99 L183.35,384.30 L184.12,383.66 L184.93,383.09 L185.80,382.59 L186.69,382.15 L187.61,381.75 L188.54,381.38 L189.47,381.01 L190.39,380.62 L191.29,380.19 L192.16,379.71 L193.01,379.17 L193.82,378.60 L194.62,377.99 L195.40,377.36 L196.16,376.72 L196.92,376.07 L197.68,375.42 L198.45,374.77 L199.21,374.13 L199.99,373.50 L200.78,372.89 L201.59,372.31 L202.44,371.78 L203.33,371.32 L204.25,370.96 L205.22,370.71 L206.20,370.55 L207.20,370.44 L208.19,370.34 L209.18,370.18 L210.15,369.94 L211.10,369.64 L212.04,369.32 L212.98,368.97 L213.92,368.62 L214.85,368.25 L215.78,367.88 L216.71,367.51 L217.64,367.14 L218.57,366.77 L219.49,366.40 L220.42,366.02 L221.34,365.64 L222.26,365.25 L223.19,364.87 L224.11,364.49 L225.04,364.12 L225.97,363.75 L226.89,363.36 L227.81,362.95 L228.72,362.55 L229.64,362.16 L230.58,361.81 L231.53,361.51 L232.51,361.31 L233.50,361.22 L234.49,361.26 L235.48,361.41 L236.45,361.64 L237.41,361.91 L238.37,362.19 L239.33,362.46 L240.31,362.69 L241.28,362.90 L242.26,363.10 L243.24,363.30 L244.22,363.50 L245.20,363.69 L246.19,363.88 L247.17,364.05 L248.16,364.19 L249.16,364.28 L250.15,364.30 L251.15,364.31 L252.15,364.38 L253.13,364.56 L254.09,364.82 L255.04,365.14 L255.97,365.49 L256.90,365.86 L257.83,366.24 L258.75,366.63 L259.66,367.05 L260.52,367.54 L261.36,368.09 L262.18,368.66 L263.02,369.19 L263.92,369.59 L264.87,369.73 L265.78,369.48 L266.55,368.89 L267.18,368.12 L267.72,367.28 L268.23,366.42 L268.72,365.55 L269.23,364.69 L269.76,363.85 L270.35,363.04 L271.02,362.31 L271.80,361.69 L272.65,361.18 L273.56,360.78 L274.51,360.45 L275.47,360.18 L276.44,359.94 L277.41,359.70 L278.38,359.45 L279.34,359.17 L280.30,358.88 L281.26,358.61 L282.22,358.35 L283.19,358.09 L284.16,357.83 L285.12,357.57 L286.09,357.31 L287.05,357.03 L288.01,356.75 L288.96,356.46 L289.92,356.16 L290.87,355.85 L291.80,355.50 L292.72,355.10 L293.60,354.63 L294.41,354.06 L295.20,353.45 L296.02,352.88 L296.90,352.41 L297.83,352.06 L298.80,351.81 L299.78,351.64 L300.77,351.51 L301.77,351.40 L302.76,351.31 L303.76,351.23 L304.76,351.15 L305.75,351.09 L306.75,351.03 L307.75,350.97 L308.75,350.91 L309.69,350.85 L310.40,350.80 L310.40,350.80" stroke="#ede070" stroke-width="1.15" fill="none" stroke-linejoin="round" stroke-linecap="round" />
<path d="M42.00,370.40 L42.91,370.82 L43.81,371.25 L44.72,371.67 L45.62,372.09 L46.53,372.52 L47.43,372.95 L48.33,373.40 L49.21,373.85 L50.10,374.32 L50.98,374.80 L51.85,375.29 L52.71,375.80 L53.54,376.35 L54.36,376.93 L55.15,377.53 L55.92,378.17 L56.68,378.83 L57.42,379.50 L58.15,380.18 L58.88,380.86 L59.61,381.55 L60.34,382.23 L61.08,382.90 L61.84,383.55 L62.61,384.19 L63.40,384.80 L64.20,385.40 L65.02,385.98 L65.83,386.57 L66.63,387.16 L67.43,387.77 L68.20,388.40 L68.94,389.07 L69.62,389.80 L70.27,390.56 L70.90,391.34 L71.51,392.13 L72.11,392.93 L72.71,393.73 L73.30,394.54 L73.90,395.34 L74.50,396.14 L75.12,396.92 L75.75,397.70 L76.40,398.46 L77.08,399.19 L77.80,399.87 L78.60,400.47 L79.46,400.97 L80.38,401.35 L81.34,401.64 L82.30,401.89 L83.26,402.17 L84.19,402.53 L85.05,403.02 L85.85,403.62 L86.60,404.28 L87.32,404.98 L88.02,405.68 L88.75,406.37 L89.50,407.03 L90.27,407.67 L91.05,408.30 L91.83,408.93 L92.60,409.56 L93.36,410.21 L94.11,410.87 L94.84,411.55 L95.56,412.25 L96.25,412.97 L96.94,413.70 L97.62,414.43 L98.30,415.16 L98.98,415.89 L99.68,416.61 L100.38,417.32 L101.12,418.00 L101.88,418.64 L102.70,419.21 L103.57,419.70 L104.49,420.05 L105.47,420.20 L106.46,420.18 L107.45,420.04 L108.43,419.85 L109.39,419.59 L110.34,419.28 L111.28,418.92 L112.19,418.51 L113.07,418.04 L113.92,417.52 L114.74,416.94 L115.51,416.32 L116.25,415.64 L116.97,414.94 L117.66,414.22 L118.33,413.48 L119.00,412.74 L119.65,411.98 L120.29,411.21 L120.93,410.44 L121.57,409.67 L122.20,408.90 L122.80,408.10 L123.35,407.27 L123.85,406.40 L124.34,405.53 L124.88,404.69 L125.42,403.85 L125.95,403.00 L126.46,402.14 L126.98,401.28 L127.49,400.43 L128.02,399.58 L128.56,398.74 L129.11,397.90 L129.69,397.09 L130.29,396.29 L130.92,395.51 L131.58,394.76 L132.27,394.04 L133.00,393.36 L133.76,392.70 L134.53,392.06 L135.31,391.44 L136.11,390.84 L136.92,390.25 L137.74,389.68 L138.57,389.12 L139.41,388.58 L140.26,388.06 L141.12,387.55 L142.00,387.07 L142.89,386.62 L143.80,386.21 L144.73,385.85 L145.69,385.58 L146.67,385.41 L147.66,385.40 L148.65,385.54 L149.59,385.85 L150.49,386.27 L151.35,386.78 L152.19,387.33 L153.00,387.91 L153.76,388.55 L154.48,389.24 L155.16,389.98 L155.80,390.74 L156.42,391.53 L157.01,392.34 L157.58,393.16 L158.15,393.98 L158.70,394.81 L159.24,395.66 L159.76,396.51 L160.25,397.38 L160.73,398.26 L161.20,399.14 L161.65,400.03 L162.11,400.92 L162.56,401.82 L163.02,402.70 L163.48,403.59 L163.96,404.47 L164.46,405.34 L164.97,406.19 L165.51,407.04 L166.03,407.89 L166.56,408.74 L167.10,409.58 L167.67,410.40 L168.33,411.14 L169.12,411.69 L170.04,411.87 L170.94,411.59 L171.73,411.01 L172.44,410.30 L173.08,409.54 L173.69,408.75 L174.29,407.95 L174.88,407.14 L175.47,406.33 L176.07,405.53 L176.67,404.74 L177.26,403.93 L177.83,403.10 L178.37,402.27 L178.91,401.42 L179.45,400.58 L180.00,399.75 L180.56,398.92 L181.15,398.11 L181.77,397.33 L182.44,396.59 L183.17,395.90 L183.94,395.27 L184.76,394.69 L185.61,394.17 L186.48,393.69 L187.38,393.25 L188.28,392.82 L189.18,392.39 L190.09,391.95 L190.99,391.52 L191.89,391.09 L192.79,390.67 L193.71,390.25 L194.62,389.85 L195.54,389.45 L196.46,389.07 L197.39,388.69 L198.31,388.32 L199.25,387.96 L200.19,387.61 L201.13,387.28 L202.08,386.96 L203.03,386.66 L203.99,386.37 L204.95,386.09 L205.91,385.82 L206.88,385.56 L207.84,385.29 L208.80,385.03 L209.77,384.76 L210.73,384.50 L211.70,384.24 L212.67,383.99 L213.64,383.74 L214.60,383.49 L215.57,383.25 L216.54,383.00 L217.51,382.75 L218.48,382.49 L219.44,382.21 L220.39,381.93 L221.35,381.61 L222.29,381.28 L223.22,380.91 L224.14,380.53 L225.06,380.13 L225.98,379.74 L226.90,379.34 L227.80,378.91 L228.67,378.43 L229.54,377.93 L230.41,377.45 L231.31,377.01 L232.25,376.67 L233.22,376.47 L234.20,376.46 L235.17,376.65 L236.09,377.02 L236.97,377.49 L237.82,378.01 L238.65,378.57 L239.47,379.14 L240.30,379.71 L241.13,380.26 L242.00,380.76 L242.90,381.18 L243.84,381.51 L244.81,381.74 L245.79,381.90 L246.79,381.99 L247.79,382.06 L248.79,382.12 L249.78,382.20 L250.77,382.33 L251.76,382.48 L252.75,382.63 L253.74,382.78 L254.72,382.95 L255.70,383.14 L256.68,383.37 L257.64,383.64 L258.57,383.99 L259.46,384.45 L260.30,384.98 L261.11,385.56 L261.93,386.14 L262.76,386.69 L263.65,387.14 L264.59,387.39 L265.53,387.29 L266.35,386.81 L267.02,386.08 L267.57,385.25 L268.06,384.38 L268.52,383.50 L268.98,382.61 L269.44,381.72 L269.93,380.85 L270.48,380.02 L271.11,379.25 L271.84,378.57 L272.64,377.97 L273.48,377.44 L274.36,376.96 L275.26,376.54 L276.18,376.14 L277.11,375.76 L278.03,375.37 L278.95,374.98 L279.87,374.60 L280.80,374.23 L281.74,373.89 L282.68,373.56 L283.63,373.22 L284.57,372.89 L285.51,372.54 L286.43,372.16 L287.35,371.76 L288.25,371.33 L289.14,370.87 L290.01,370.39 L290.88,369.90 L291.75,369.40 L292.62,368.89 L293.48,368.39 L294.35,367.90 L295.22,367.41 L296.11,366.95 L297.00,366.50 L297.90,366.06 L298.80,365.63 L299.72,365.22 L300.65,364.85 L301.59,364.53 L302.55,364.26 L303.53,364.04 L304.51,363.89 L305.51,363.77 L306.50,363.67 L307.50,363.60 L308.50,363.53 L309.48,363.47 L310.40,363.40 L310.40,363.40" stroke="#bfe36d" stroke-width="1.15" fill="none" stroke-linejoin="round" stroke-linecap="round" />
<path d="M42.00,386.30 L42.93,386.68 L43.85,387.05 L44.78,387.43 L45.70,387.82 L46.61,388.23 L47.51,388.67 L48.39,389.15 L49.24,389.66 L50.07,390.22 L50.86,390.84 L51.60,391.51 L52.29,392.23 L52.95,392.98 L53.57,393.76 L54.18,394.56 L54.77,395.36 L55.35,396.17 L55.94,396.98 L56.55,397.78 L57.16,398.57 L57.79,399.34 L58.43,400.11 L59.08,400.88 L59.73,401.64 L60.38,402.39 L61.05,403.14 L61.72,403.88 L62.40,404.61 L63.11,405.32 L63.83,406.01 L64.55,406.70 L65.26,407.40 L65.96,408.12 L66.62,408.87 L67.25,409.64 L67.86,410.44 L68.45,411.24 L69.03,412.06 L69.60,412.88 L70.17,413.70 L70.74,414.52 L71.31,415.34 L71.89,416.16 L72.48,416.97 L73.06,417.78 L73.64,418.60 L74.21,419.42 L74.78,420.24 L75.35,421.07 L75.92,421.88 L76.51,422.70 L77.10,423.50 L77.71,424.29 L78.34,425.07 L79.01,425.81 L79.72,426.51 L80.50,427.12 L81.36,427.63 L82.27,428.04 L83.21,428.38 L84.14,428.73 L85.04,429.15 L85.88,429.69 L86.67,430.31 L87.41,430.97 L88.13,431.66 L88.83,432.38 L89.52,433.10 L90.20,433.84 L90.86,434.59 L91.53,435.33 L92.19,436.08 L92.84,436.84 L93.47,437.62 L94.09,438.40 L94.70,439.19 L95.31,439.99 L95.92,440.78 L96.54,441.56 L97.18,442.34 L97.83,443.09 L98.52,443.82 L99.22,444.53 L99.94,445.22 L100.69,445.88 L101.49,446.47 L102.37,446.94 L103.31,447.23 L104.30,447.34 L105.29,447.28 L106.27,447.09 L107.22,446.80 L108.15,446.44 L109.06,446.03 L109.95,445.57 L110.82,445.09 L111.68,444.57 L112.52,444.03 L113.34,443.46 L114.14,442.86 L114.92,442.23 L115.67,441.57 L116.39,440.88 L117.07,440.15 L117.72,439.39 L118.33,438.60 L118.91,437.79 L119.47,436.96 L120.01,436.11 L120.53,435.26 L121.04,434.40 L121.55,433.54 L122.04,432.67 L122.53,431.80 L123.01,430.92 L123.49,430.04 L123.96,429.16 L124.39,428.26 L124.79,427.34 L125.17,426.42 L125.54,425.49 L125.93,424.57 L126.36,423.66 L126.83,422.78 L127.34,421.92 L127.89,421.09 L128.46,420.27 L129.05,419.46 L129.65,418.66 L130.27,417.87 L130.89,417.09 L131.51,416.31 L132.14,415.53 L132.75,414.74 L133.36,413.95 L133.97,413.15 L134.58,412.36 L135.19,411.57 L135.81,410.78 L136.44,410.01 L137.09,409.25 L137.77,408.51 L138.47,407.80 L139.21,407.13 L139.98,406.50 L140.78,405.90 L141.61,405.34 L142.47,404.83 L143.37,404.40 L144.30,404.04 L145.27,403.80 L146.25,403.67 L147.25,403.67 L148.24,403.78 L149.22,403.99 L150.16,404.29 L151.08,404.68 L151.97,405.14 L152.83,405.65 L153.63,406.25 L154.35,406.93 L155.01,407.68 L155.61,408.48 L156.17,409.31 L156.68,410.16 L157.17,411.04 L157.63,411.92 L158.08,412.82 L158.51,413.72 L158.93,414.63 L159.35,415.54 L159.76,416.45 L160.17,417.36 L160.57,418.28 L160.97,419.19 L161.37,420.11 L161.76,421.03 L162.16,421.95 L162.56,422.86 L162.95,423.78 L163.33,424.71 L163.71,425.63 L164.08,426.56 L164.44,427.50 L164.79,428.43 L165.15,429.37 L165.51,430.30 L165.87,431.23 L166.24,432.16 L166.61,433.09 L167.01,434.01 L167.43,434.91 L167.88,435.81 L168.35,436.69 L168.86,437.54 L169.50,438.28 L170.32,438.67 L171.22,438.54 L172.03,438.00 L172.72,437.29 L173.35,436.51 L173.93,435.70 L174.49,434.87 L175.02,434.03 L175.53,433.16 L175.99,432.28 L176.43,431.38 L176.84,430.47 L177.25,429.55 L177.65,428.64 L178.06,427.73 L178.49,426.82 L178.93,425.93 L179.40,425.05 L179.91,424.18 L180.45,423.34 L181.01,422.52 L181.59,421.70 L182.19,420.90 L182.80,420.11 L183.42,419.33 L184.06,418.56 L184.72,417.80 L185.39,417.06 L186.08,416.34 L186.80,415.64 L187.54,414.98 L188.32,414.36 L189.16,413.81 L190.03,413.33 L190.94,412.91 L191.86,412.53 L192.79,412.16 L193.71,411.77 L194.61,411.34 L195.48,410.84 L196.31,410.29 L197.12,409.70 L197.92,409.10 L198.71,408.48 L199.50,407.88 L200.31,407.29 L201.14,406.73 L202.00,406.22 L202.90,405.80 L203.84,405.48 L204.81,405.26 L205.80,405.12 L206.80,405.03 L207.79,404.93 L208.78,404.80 L209.77,404.61 L210.74,404.38 L211.71,404.13 L212.67,403.87 L213.64,403.60 L214.60,403.33 L215.56,403.05 L216.52,402.76 L217.47,402.47 L218.42,402.16 L219.37,401.85 L220.31,401.51 L221.25,401.15 L222.16,400.75 L223.06,400.31 L223.95,399.85 L224.82,399.36 L225.69,398.87 L226.57,398.40 L227.45,397.91 L228.30,397.40 L229.15,396.86 L229.99,396.32 L230.84,395.80 L231.71,395.31 L232.62,394.89 L233.56,394.59 L234.54,394.49 L235.50,394.65 L236.41,395.03 L237.25,395.57 L238.04,396.18 L238.81,396.81 L239.59,397.44 L240.38,398.05 L241.16,398.68 L241.91,399.35 L242.64,400.02 L243.39,400.69 L244.15,401.34 L244.94,401.94 L245.80,402.46 L246.70,402.88 L247.64,403.19 L248.62,403.42 L249.60,403.57 L250.60,403.67 L251.59,403.70 L252.59,403.65 L253.59,403.55 L254.58,403.45 L255.58,403.40 L256.56,403.47 L257.50,403.75 L258.31,404.29 L259.00,405.01 L259.60,405.80 L260.22,406.59 L260.89,407.32 L261.58,408.04 L262.24,408.79 L262.91,409.53 L263.67,410.14 L264.55,410.38 L265.41,410.09 L266.10,409.42 L266.64,408.59 L267.11,407.71 L267.54,406.80 L267.94,405.89 L268.34,404.97 L268.74,404.05 L269.14,403.14 L269.55,402.23 L269.98,401.32 L270.43,400.43 L270.92,399.56 L271.45,398.71 L272.04,397.91 L272.70,397.16 L273.43,396.47 L274.20,395.84 L275.01,395.26 L275.85,394.72 L276.71,394.21 L277.59,393.74 L278.48,393.28 L279.38,392.84 L280.28,392.40 L281.17,391.96 L282.07,391.51 L282.95,391.03 L283.82,390.54 L284.69,390.06 L285.57,389.59 L286.46,389.12 L287.35,388.66 L288.23,388.20 L289.11,387.72 L289.98,387.22 L290.83,386.70 L291.66,386.15 L292.47,385.55 L293.23,384.92 L293.97,384.24 L294.69,383.55 L295.40,382.84 L296.11,382.14 L296.83,381.44 L297.57,380.77 L298.34,380.14 L299.16,379.56 L300.02,379.07 L300.94,378.70 L301.91,378.45 L302.89,378.31 L303.89,378.24 L304.89,378.23 L305.89,378.26 L306.89,378.32 L307.88,378.41 L308.88,378.50 L309.79,378.57 L310.40,378.60 L310.40,378.60" stroke="#2fe83a" stroke-width="1.15" fill="none" stroke-linejoin="round" stroke-linecap="round" />
<path d="M42.00,397.00 L42.94,397.35 L43.88,397.69 L44.81,398.04 L45.75,398.40 L46.67,398.78 L47.58,399.20 L48.47,399.65 L49.34,400.15 L50.17,400.69 L50.97,401.30 L51.71,401.96 L52.42,402.67 L53.08,403.42 L53.71,404.20 L54.32,404.99 L54.92,405.79 L55.52,406.59 L56.12,407.39 L56.74,408.17 L57.37,408.95 L58.02,409.71 L58.67,410.47 L59.33,411.22 L60.00,411.97 L60.67,412.71 L61.35,413.44 L62.03,414.17 L62.74,414.87 L63.47,415.56 L64.21,416.23 L64.94,416.91 L65.65,417.61 L66.34,418.34 L67.00,419.09 L67.63,419.86 L68.24,420.66 L68.83,421.46 L69.42,422.28 L70.00,423.09 L70.57,423.91 L71.16,424.72 L71.74,425.53 L72.34,426.33 L72.93,427.14 L73.52,427.95 L74.10,428.76 L74.68,429.57 L75.26,430.39 L75.85,431.20 L76.44,432.01 L77.04,432.80 L77.66,433.59 L78.31,434.35 L78.98,435.09 L79.71,435.77 L80.50,436.37 L81.37,436.85 L82.29,437.23 L83.25,437.53 L84.19,437.86 L85.10,438.26 L85.95,438.78 L86.74,439.38 L87.50,440.04 L88.23,440.72 L88.94,441.42 L89.64,442.14 L90.33,442.86 L91.01,443.60 L91.68,444.33 L92.35,445.07 L93.01,445.83 L93.65,446.60 L94.28,447.37 L94.90,448.16 L95.52,448.94 L96.15,449.72 L96.78,450.49 L97.44,451.25 L98.12,451.98 L98.82,452.69 L99.55,453.38 L100.30,454.04 L101.08,454.65 L101.94,455.16 L102.86,455.53 L103.83,455.71 L104.82,455.73 L105.81,455.61 L106.78,455.37 L107.72,455.05 L108.65,454.67 L109.55,454.24 L110.43,453.78 L111.30,453.28 L112.15,452.76 L112.99,452.21 L113.80,451.62 L114.59,451.01 L115.36,450.37 L116.09,449.69 L116.79,448.98 L117.46,448.24 L118.09,447.46 L118.68,446.66 L119.25,445.83 L119.80,445.00 L120.33,444.15 L120.85,443.30 L121.36,442.43 L121.85,441.57 L122.35,440.70 L122.83,439.82 L123.32,438.95 L123.79,438.07 L124.24,437.17 L124.65,436.26 L125.04,435.34 L125.41,434.41 L125.80,433.49 L126.21,432.58 L126.66,431.69 L127.16,430.83 L127.70,429.99 L128.27,429.16 L128.86,428.35 L129.46,427.56 L130.08,426.77 L130.70,425.98 L131.32,425.20 L131.95,424.42 L132.57,423.64 L133.19,422.85 L133.80,422.06 L134.41,421.27 L135.02,420.48 L135.64,419.69 L136.27,418.92 L136.92,418.16 L137.59,417.42 L138.29,416.70 L139.03,416.03 L139.79,415.38 L140.59,414.78 L141.41,414.21 L142.27,413.70 L143.16,413.25 L144.09,412.88 L145.05,412.62 L146.03,412.49 L147.03,412.48 L148.02,412.58 L148.99,412.79 L149.94,413.09 L150.86,413.48 L151.75,413.93 L152.61,414.45 L153.41,415.03 L154.15,415.70 L154.82,416.44 L155.43,417.23 L155.99,418.06 L156.51,418.91 L157.00,419.78 L157.47,420.67 L157.92,421.56 L158.35,422.46 L158.77,423.37 L159.19,424.28 L159.60,425.19 L160.00,426.11 L160.40,427.03 L160.80,427.94 L161.19,428.86 L161.58,429.78 L161.98,430.70 L162.37,431.62 L162.76,432.54 L163.15,433.46 L163.53,434.39 L163.89,435.32 L164.25,436.25 L164.61,437.19 L164.96,438.12 L165.32,439.06 L165.67,439.99 L166.03,440.92 L166.40,441.85 L166.78,442.78 L167.18,443.69 L167.61,444.60 L168.06,445.49 L168.54,446.37 L169.08,447.20 L169.78,447.85 L170.65,448.07 L171.53,447.78 L172.30,447.17 L172.97,446.43 L173.58,445.64 L174.15,444.82 L174.70,443.98 L175.23,443.14 L175.72,442.27 L176.18,441.38 L176.60,440.47 L177.01,439.56 L177.42,438.65 L177.83,437.73 L178.25,436.83 L178.68,435.93 L179.14,435.04 L179.63,434.16 L180.15,433.31 L180.71,432.48 L181.28,431.66 L181.87,430.86 L182.48,430.06 L183.10,429.28 L183.73,428.51 L184.39,427.75 L185.05,427.00 L185.74,426.28 L186.45,425.57 L187.18,424.89 L187.95,424.26 L188.76,423.68 L189.63,423.18 L190.53,422.74 L191.45,422.36 L192.38,422.00 L193.31,421.63 L194.22,421.23 L195.11,420.77 L195.96,420.24 L196.79,419.68 L197.59,419.09 L198.39,418.48 L199.18,417.88 L199.99,417.28 L200.81,416.72 L201.66,416.20 L202.55,415.75 L203.49,415.40 L204.45,415.15 L205.44,415.00 L206.43,414.91 L207.43,414.83 L208.42,414.73 L209.41,414.57 L210.39,414.36 L211.36,414.13 L212.33,413.89 L213.30,413.63 L214.27,413.38 L215.23,413.11 L216.19,412.84 L217.15,412.56 L218.11,412.27 L219.06,411.96 L220.01,411.64 L220.95,411.30 L221.87,410.92 L222.78,410.51 L223.68,410.06 L224.56,409.59 L225.43,409.11 L226.32,408.64 L227.20,408.17 L228.06,407.67 L228.92,407.15 L229.77,406.62 L230.62,406.10 L231.49,405.60 L232.39,405.17 L233.32,404.83 L234.29,404.68 L235.27,404.76 L236.20,405.09 L237.07,405.58 L237.88,406.16 L238.67,406.77 L239.45,407.39 L240.25,407.99 L241.04,408.61 L241.80,409.25 L242.55,409.91 L243.30,410.58 L244.07,411.22 L244.87,411.81 L245.73,412.32 L246.64,412.72 L247.59,413.03 L248.56,413.23 L249.55,413.36 L250.55,413.44 L251.55,413.45 L252.54,413.38 L253.53,413.25 L254.53,413.12 L255.52,413.04 L256.51,413.08 L257.45,413.33 L258.29,413.84 L258.98,414.54 L259.60,415.33 L260.22,416.11 L260.90,416.84 L261.60,417.55 L262.27,418.29 L262.95,419.02 L263.73,419.60 L264.62,419.80 L265.47,419.47 L266.15,418.78 L266.69,417.95 L267.15,417.06 L267.58,416.16 L267.99,415.25 L268.39,414.33 L268.79,413.41 L269.20,412.50 L269.62,411.59 L270.06,410.70 L270.52,409.81 L271.02,408.95 L271.57,408.11 L272.19,407.33 L272.87,406.60 L273.62,405.94 L274.41,405.33 L275.24,404.78 L276.10,404.26 L276.98,403.79 L277.87,403.34 L278.77,402.91 L279.68,402.49 L280.59,402.07 L281.49,401.64 L282.39,401.20 L283.27,400.74 L284.16,400.27 L285.04,399.81 L285.94,399.36 L286.83,398.91 L287.73,398.47 L288.62,398.02 L289.51,397.55 L290.38,397.06 L291.23,396.54 L292.06,395.98 L292.86,395.38 L293.62,394.73 L294.35,394.06 L295.08,393.37 L295.79,392.67 L296.52,391.98 L297.26,391.31 L298.03,390.67 L298.83,390.08 L299.69,389.57 L300.60,389.17 L301.56,388.90 L302.54,388.75 L303.54,388.68 L304.53,388.68 L305.53,388.72 L306.53,388.80 L307.52,388.90 L308.52,389.02 L309.49,389.12 L310.40,389.20 L310.40,389.20" stroke="#2ee8b0" stroke-width="1.15" fill="none" stroke-linejoin="round" stroke-linecap="round" />
<path d="M42.00,407.60 L42.94,407.95 L43.88,408.29 L44.81,408.64 L45.74,409.01 L46.67,409.39 L47.58,409.80 L48.47,410.26 L49.33,410.76 L50.17,411.30 L50.96,411.91 L51.71,412.57 L52.41,413.28 L53.07,414.03 L53.70,414.81 L54.31,415.60 L54.91,416.40 L55.51,417.20 L56.11,418.00 L56.73,418.79 L57.36,419.56 L58.01,420.32 L58.66,421.08 L59.32,421.83 L59.98,422.58 L60.65,423.32 L61.33,424.06 L62.02,424.78 L62.73,425.49 L63.45,426.18 L64.19,426.86 L64.92,427.54 L65.64,428.23 L66.33,428.96 L66.98,429.71 L67.61,430.49 L68.22,431.28 L68.82,432.08 L69.40,432.90 L69.98,433.71 L70.56,434.53 L71.14,435.34 L71.72,436.15 L72.32,436.96 L72.91,437.76 L73.50,438.57 L74.08,439.38 L74.66,440.20 L75.24,441.01 L75.82,441.82 L76.42,442.63 L77.02,443.43 L77.64,444.21 L78.28,444.98 L78.95,445.72 L79.67,446.41 L80.47,447.01 L81.33,447.50 L82.25,447.88 L83.20,448.19 L84.15,448.51 L85.06,448.91 L85.91,449.42 L86.71,450.03 L87.46,450.68 L88.20,451.36 L88.91,452.06 L89.61,452.78 L90.29,453.51 L90.97,454.24 L91.65,454.98 L92.32,455.72 L92.98,456.47 L93.62,457.24 L94.25,458.01 L94.87,458.80 L95.49,459.58 L96.11,460.36 L96.75,461.14 L97.40,461.90 L98.07,462.63 L98.78,463.34 L99.50,464.03 L100.25,464.70 L101.03,465.31 L101.88,465.83 L102.79,466.21 L103.76,466.41 L104.76,466.43 L105.74,466.32 L106.71,466.09 L107.66,465.78 L108.59,465.40 L109.49,464.97 L110.37,464.51 L111.24,464.01 L112.10,463.49 L112.93,462.94 L113.75,462.36 L114.54,461.75 L115.31,461.11 L116.04,460.44 L116.75,459.73 L117.42,458.99 L118.05,458.21 L118.64,457.41 L119.21,456.59 L119.76,455.75 L120.30,454.91 L120.81,454.05 L121.32,453.19 L121.82,452.32 L122.31,451.45 L122.80,450.58 L123.29,449.71 L123.76,448.83 L124.21,447.93 L124.62,447.02 L125.01,446.10 L125.39,445.18 L125.77,444.25 L126.18,443.34 L126.63,442.45 L127.13,441.58 L127.67,440.74 L128.23,439.92 L128.82,439.11 L129.42,438.31 L130.04,437.52 L130.66,436.74 L131.28,435.95 L131.91,435.17 L132.53,434.39 L133.15,433.61 L133.76,432.81 L134.37,432.02 L134.98,431.23 L135.60,430.45 L136.23,429.67 L136.88,428.91 L137.55,428.16 L138.24,427.45 L138.98,426.77 L139.74,426.12 L140.53,425.51 L141.35,424.94 L142.21,424.43 L143.09,423.97 L144.02,423.60 L144.98,423.34 L145.97,423.20 L146.96,423.20 L147.95,423.31 L148.92,423.53 L149.87,423.84 L150.79,424.24 L151.67,424.70 L152.52,425.23 L153.32,425.82 L154.06,426.49 L154.73,427.22 L155.34,428.02 L155.90,428.84 L156.42,429.69 L156.91,430.57 L157.38,431.45 L157.82,432.35 L158.26,433.25 L158.68,434.16 L159.09,435.07 L159.49,435.98 L159.90,436.90 L160.29,437.81 L160.69,438.73 L161.08,439.65 L161.47,440.57 L161.86,441.49 L162.25,442.42 L162.64,443.34 L163.02,444.26 L163.40,445.19 L163.77,446.12 L164.13,447.05 L164.48,447.98 L164.83,448.92 L165.18,449.86 L165.53,450.79 L165.89,451.73 L166.25,452.66 L166.62,453.59 L167.01,454.51 L167.42,455.42 L167.86,456.32 L168.32,457.21 L168.82,458.07 L169.42,458.85 L170.21,459.32 L171.11,459.27 L171.93,458.79 L172.64,458.09 L173.27,457.32 L173.86,456.51 L174.42,455.68 L174.96,454.84 L175.47,453.98 L175.94,453.10 L176.38,452.20 L176.79,451.29 L177.20,450.38 L177.60,449.46 L178.01,448.55 L178.44,447.64 L178.88,446.75 L179.35,445.86 L179.85,445.00 L180.38,444.16 L180.94,443.33 L181.52,442.51 L182.12,441.71 L182.73,440.92 L183.35,440.13 L183.99,439.36 L184.64,438.61 L185.31,437.87 L186.00,437.14 L186.72,436.44 L187.46,435.77 L188.24,435.15 L189.06,434.59 L189.94,434.11 L190.84,433.69 L191.77,433.31 L192.70,432.94 L193.62,432.55 L194.52,432.12 L195.39,431.63 L196.23,431.09 L197.04,430.50 L197.84,429.90 L198.63,429.29 L199.42,428.68 L200.23,428.09 L201.05,427.53 L201.91,427.02 L202.81,426.59 L203.75,426.25 L204.72,426.03 L205.71,425.89 L206.70,425.79 L207.70,425.70 L208.69,425.57 L209.67,425.39 L210.65,425.16 L211.62,424.92 L212.58,424.66 L213.55,424.40 L214.51,424.13 L215.47,423.85 L216.43,423.56 L217.38,423.27 L218.34,422.97 L219.29,422.65 L220.23,422.32 L221.16,421.96 L222.08,421.57 L222.98,421.14 L223.87,420.67 L224.74,420.19 L225.62,419.70 L226.50,419.23 L227.37,418.74 L228.23,418.23 L229.08,417.70 L229.92,417.16 L230.77,416.64 L231.64,416.15 L232.54,415.72 L233.48,415.40 L234.46,415.28 L235.43,415.40 L236.35,415.76 L237.20,416.27 L238.01,416.86 L238.79,417.49 L239.58,418.10 L240.38,418.70 L241.16,419.32 L241.92,419.98 L242.66,420.64 L243.41,421.30 L244.18,421.94 L244.99,422.52 L245.85,423.02 L246.77,423.41 L247.72,423.70 L248.70,423.90 L249.69,424.02 L250.69,424.10 L251.69,424.10 L252.68,424.02 L253.67,423.89 L254.66,423.77 L255.66,423.71 L256.65,423.77 L257.58,424.06 L258.39,424.61 L259.07,425.33 L259.68,426.12 L260.30,426.90 L260.99,427.62 L261.69,428.33 L262.35,429.08 L263.04,429.80 L263.83,430.35 L264.73,430.49 L265.56,430.10 L266.22,429.38 L266.75,428.54 L267.21,427.65 L267.63,426.75 L268.04,425.83 L268.44,424.92 L268.84,424.00 L269.25,423.09 L269.68,422.18 L270.12,421.29 L270.59,420.40 L271.09,419.54 L271.65,418.72 L272.28,417.94 L272.97,417.22 L273.73,416.57 L274.53,415.97 L275.36,415.42 L276.22,414.92 L277.10,414.45 L278.00,414.00 L278.90,413.57 L279.81,413.16 L280.72,412.74 L281.63,412.32 L282.52,411.87 L283.41,411.41 L284.29,410.94 L285.18,410.48 L286.07,410.03 L286.97,409.59 L287.87,409.15 L288.76,408.70 L289.64,408.23 L290.51,407.74 L291.36,407.21 L292.19,406.65 L292.98,406.04 L293.74,405.39 L294.47,404.71 L295.19,404.02 L295.91,403.32 L296.64,402.64 L297.38,401.97 L298.16,401.34 L298.97,400.76 L299.84,400.27 L300.76,399.90 L301.72,399.65 L302.71,399.51 L303.71,399.46 L304.71,399.47 L305.70,399.52 L306.70,399.61 L307.69,399.72 L308.69,399.83 L309.63,399.94 L310.40,400.00 L310.40,400.00" stroke="#2ee6ff" stroke-width="1.15" fill="none" stroke-linejoin="round" stroke-linecap="round" />
<path d="M42.00,417.60 L42.93,417.96 L43.87,418.32 L44.80,418.68 L45.72,419.06 L46.64,419.45 L47.55,419.88 L48.43,420.35 L49.29,420.85 L50.12,421.41 L50.91,422.02 L51.66,422.68 L52.36,423.39 L53.02,424.14 L53.65,424.92 L54.25,425.72 L54.85,426.52 L55.44,427.33 L56.04,428.13 L56.65,428.92 L57.27,429.70 L57.91,430.47 L58.56,431.23 L59.21,431.99 L59.87,432.74 L60.53,433.49 L61.20,434.23 L61.88,434.97 L62.58,435.68 L63.29,436.38 L64.02,437.07 L64.75,437.75 L65.47,438.45 L66.16,439.17 L66.82,439.92 L67.45,440.70 L68.06,441.49 L68.65,442.30 L69.23,443.11 L69.81,443.93 L70.38,444.75 L70.96,445.56 L71.54,446.38 L72.12,447.19 L72.71,448.00 L73.30,448.81 L73.88,449.62 L74.45,450.44 L75.03,451.26 L75.61,452.07 L76.19,452.89 L76.78,453.69 L77.39,454.49 L78.02,455.26 L78.67,456.02 L79.36,456.74 L80.12,457.39 L80.95,457.94 L81.84,458.38 L82.78,458.72 L83.72,459.04 L84.65,459.41 L85.52,459.89 L86.34,460.46 L87.10,461.10 L87.84,461.78 L88.56,462.47 L89.26,463.19 L89.94,463.92 L90.62,464.65 L91.29,465.39 L91.96,466.14 L92.62,466.89 L93.27,467.65 L93.90,468.43 L94.51,469.21 L95.13,470.00 L95.75,470.79 L96.37,471.57 L97.00,472.34 L97.66,473.10 L98.34,473.83 L99.05,474.54 L99.77,475.23 L100.52,475.89 L101.32,476.49 L102.18,476.97 L103.12,477.29 L104.10,477.42 L105.09,477.39 L106.07,477.23 L107.03,476.96 L107.97,476.61 L108.88,476.20 L109.77,475.75 L110.65,475.27 L111.51,474.76 L112.35,474.22 L113.18,473.66 L113.98,473.06 L114.76,472.44 L115.52,471.78 L116.24,471.10 L116.93,470.37 L117.59,469.62 L118.20,468.83 L118.79,468.02 L119.35,467.20 L119.89,466.36 L120.42,465.51 L120.93,464.65 L121.44,463.78 L121.93,462.91 L122.42,462.04 L122.91,461.17 L123.39,460.29 L123.86,459.41 L124.30,458.51 L124.70,457.60 L125.08,456.67 L125.46,455.75 L125.84,454.82 L126.26,453.91 L126.72,453.03 L127.22,452.16 L127.76,451.32 L128.33,450.50 L128.91,449.69 L129.51,448.89 L130.12,448.10 L130.74,447.31 L131.37,446.53 L131.99,445.75 L132.61,444.96 L133.22,444.17 L133.83,443.38 L134.43,442.58 L135.04,441.79 L135.66,441.00 L136.29,440.22 L136.93,439.46 L137.60,438.71 L138.30,438.00 L139.03,437.32 L139.79,436.67 L140.58,436.05 L141.39,435.48 L142.24,434.95 L143.13,434.50 L144.05,434.12 L145.01,433.86 L146.00,433.72 L146.99,433.71 L147.98,433.83 L148.95,434.05 L149.90,434.37 L150.81,434.77 L151.69,435.24 L152.54,435.76 L153.34,436.36 L154.08,437.03 L154.74,437.77 L155.35,438.57 L155.91,439.39 L156.43,440.25 L156.92,441.12 L157.38,442.00 L157.83,442.90 L158.26,443.80 L158.68,444.71 L159.09,445.62 L159.50,446.54 L159.90,447.45 L160.29,448.37 L160.69,449.29 L161.08,450.21 L161.47,451.13 L161.86,452.05 L162.25,452.97 L162.64,453.89 L163.02,454.82 L163.40,455.74 L163.76,456.67 L164.12,457.61 L164.47,458.54 L164.83,459.48 L165.18,460.42 L165.53,461.35 L165.88,462.29 L166.24,463.22 L166.61,464.15 L167.00,465.07 L167.41,465.98 L167.85,466.88 L168.30,467.77 L168.80,468.64 L169.40,469.41 L170.18,469.91 L171.08,469.88 L171.91,469.41 L172.62,468.73 L173.26,467.96 L173.85,467.15 L174.41,466.32 L174.95,465.48 L175.46,464.62 L175.94,463.74 L176.38,462.85 L176.80,461.94 L177.20,461.02 L177.61,460.11 L178.02,459.20 L178.45,458.29 L178.89,457.40 L179.36,456.52 L179.86,455.65 L180.40,454.81 L180.97,453.99 L181.55,453.18 L182.15,452.37 L182.76,451.58 L183.39,450.80 L184.03,450.04 L184.69,449.29 L185.36,448.55 L186.06,447.83 L186.78,447.13 L187.53,446.47 L188.31,445.86 L189.15,445.31 L190.03,444.84 L190.94,444.43 L191.87,444.06 L192.80,443.70 L193.72,443.32 L194.63,442.89 L195.50,442.40 L196.33,441.85 L197.15,441.27 L197.95,440.67 L198.74,440.07 L199.54,439.46 L200.35,438.88 L201.19,438.33 L202.05,437.84 L202.96,437.43 L203.91,437.12 L204.89,436.92 L205.88,436.80 L206.87,436.72 L207.87,436.63 L208.86,436.50 L209.84,436.32 L210.82,436.10 L211.79,435.86 L212.76,435.61 L213.72,435.35 L214.69,435.09 L215.65,434.82 L216.61,434.54 L217.57,434.26 L218.52,433.96 L219.47,433.65 L220.42,433.32 L221.35,432.96 L222.27,432.57 L223.17,432.14 L224.06,431.67 L224.94,431.20 L225.81,430.72 L226.70,430.25 L227.57,429.77 L228.43,429.26 L229.28,428.73 L230.13,428.20 L230.99,427.69 L231.87,427.21 L232.78,426.81 L233.73,426.54 L234.71,426.48 L235.68,426.66 L236.58,427.05 L237.43,427.58 L238.24,428.17 L239.03,428.78 L239.83,429.38 L240.63,429.97 L241.41,430.60 L242.17,431.25 L242.93,431.90 L243.69,432.55 L244.48,433.16 L245.31,433.70 L246.21,434.15 L247.14,434.49 L248.11,434.72 L249.10,434.86 L250.09,434.95 L251.09,434.98 L252.09,434.93 L253.08,434.80 L254.07,434.66 L255.06,434.53 L256.05,434.49 L257.03,434.61 L257.92,434.99 L258.68,435.61 L259.33,436.37 L259.94,437.16 L260.60,437.90 L261.31,438.61 L262.00,439.33 L262.67,440.07 L263.41,440.72 L264.26,441.10 L265.15,440.96 L265.90,440.37 L266.49,439.58 L266.97,438.70 L267.41,437.81 L267.83,436.90 L268.23,435.98 L268.63,435.07 L269.03,434.15 L269.45,433.24 L269.88,432.34 L270.33,431.45 L270.81,430.57 L271.34,429.72 L271.92,428.91 L272.58,428.16 L273.30,427.47 L274.07,426.84 L274.88,426.26 L275.73,425.73 L276.60,425.23 L277.48,424.77 L278.38,424.33 L279.29,423.90 L280.19,423.48 L281.10,423.06 L282.00,422.62 L282.89,422.16 L283.77,421.69 L284.65,421.22 L285.54,420.76 L286.43,420.31 L287.33,419.87 L288.22,419.42 L289.11,418.96 L289.98,418.47 L290.84,417.97 L291.68,417.43 L292.50,416.84 L293.27,416.21 L294.02,415.55 L294.74,414.86 L295.46,414.16 L296.18,413.46 L296.91,412.78 L297.66,412.12 L298.44,411.50 L299.27,410.95 L300.15,410.49 L301.09,410.16 L302.06,409.94 L303.05,409.83 L304.05,409.80 L305.05,409.82 L306.05,409.88 L307.04,409.97 L308.04,410.07 L309.03,410.18 L309.97,410.27 L310.40,410.30" stroke="#52b0f0" stroke-width="1.15" fill="none" stroke-linejoin="round" stroke-linecap="round" />
</g>
<line x1="107.70" y1="303.00" x2="107.70" y2="493.50" stroke="#000" stroke-width="1.15" stroke-dasharray="1,1"/>
<line x1="171.20" y1="303.00" x2="171.20" y2="494.00" stroke="#000" stroke-width="1.15" stroke-dasharray="1,1"/>
<line x1="265.30" y1="303.00" x2="265.30" y2="490.30" stroke="#000" stroke-width="1.15" stroke-dasharray="1,1"/>
<rect x="42.50" y="303.40" width="267.90" height="210.50" fill="none" stroke="#111" stroke-width="1.3"/>
<line x1="42.50" y1="513.90" x2="42.50" y2="517.70" stroke="#1a1a1a" stroke-width="1.2"/>
<text x="42.50" y="529.80" font-size="11.50" fill="#000" style="color:#000" text-anchor="middle" >1300</text>
<line x1="87.15" y1="513.90" x2="87.15" y2="515.70" stroke="#1a1a1a" stroke-width="1.2"/>
<line x1="131.80" y1="513.90" x2="131.80" y2="517.70" stroke="#1a1a1a" stroke-width="1.2"/>
<text x="131.80" y="529.80" font-size="11.50" fill="#000" style="color:#000" text-anchor="middle" >1200</text>
<line x1="176.45" y1="513.90" x2="176.45" y2="515.70" stroke="#1a1a1a" stroke-width="1.2"/>
<line x1="221.10" y1="513.90" x2="221.10" y2="517.70" stroke="#1a1a1a" stroke-width="1.2"/>
<text x="221.10" y="529.80" font-size="11.50" fill="#000" style="color:#000" text-anchor="middle" >1100</text>
<line x1="265.75" y1="513.90" x2="265.75" y2="515.70" stroke="#1a1a1a" stroke-width="1.2"/>
<line x1="310.40" y1="513.90" x2="310.40" y2="517.70" stroke="#1a1a1a" stroke-width="1.2"/>
<text x="310.40" y="529.80" font-size="11.50" fill="#000" style="color:#000" text-anchor="middle" >1000</text>
<text x="175.85" y="552.00" font-size="13.8" fill="#000" text-anchor="middle">Wavenumber (cm<tspan font-size="9" dy="-5">-1</tspan><tspan dy="5">)</tspan></text>
<text transform="translate(33.40,408.80) rotate(-90)" font-size="13.5" text-anchor="middle" fill="#000">Transmittance (a.u.)</text>
<text x="107.70" y="494.50" font-size="11" fill="#000" style="color:#000">NO<tspan font-size="8.5" dy="3">2</tspan><tspan font-size="8.5" dy="-7.8">-</tspan></text>
<text x="177.20" y="494.80" font-size="11.00" fill="#ff1a1a" style="color:#ff1a1a" text-anchor="start" >NOH</text>
<text x="265.80" y="503.70" font-size="11.00" fill="#000" style="color:#000" text-anchor="start" >NH</text>
<text x="47.60" y="504.80" font-size="10.80" fill="#0000f5" style="color:#0000f5;stroke-width:0.15px" text-anchor="start" >M-ON</text>
<rect x="321.80" y="349.20" width="4.20" height="10.22" fill="#ff46a8"/>
<rect x="321.80" y="359.37" width="4.20" height="10.22" fill="#ff6b78"/>
<rect x="321.80" y="369.54" width="4.20" height="10.22" fill="#f5a070"/>
<rect x="321.80" y="379.71" width="4.20" height="10.22" fill="#ecb565"/>
<rect x="321.80" y="389.88" width="4.20" height="10.22" fill="#ede070"/>
<rect x="321.80" y="400.05" width="4.20" height="10.22" fill="#bfe36d"/>
<rect x="321.80" y="410.22" width="4.20" height="10.22" fill="#2fe83a"/>
<rect x="321.80" y="420.39" width="4.20" height="10.22" fill="#2ee8b0"/>
<rect x="321.80" y="430.56" width="4.20" height="10.22" fill="#2ee6ff"/>
<rect x="321.80" y="440.73" width="4.20" height="10.22" fill="#52b0f0"/>
<text x="316.00" y="346.90" font-size="11.00" fill="#000" style="color:#000" text-anchor="start" >OCP</text>
<line x1="334.40" y1="363.00" x2="334.40" y2="434.70" stroke="#000" stroke-width="1.1"/>
<polygon points="334.40,438.70 332.70,433.20 336.10,433.20" fill="#000"/>
<text x="314.00" y="464.50" font-size="11.50" fill="#000" style="color:#000" text-anchor="start" >-0.5 V</text>
<defs><clipPath id="clipC342"><rect x="385.00" y="306.30" width="267.80" height="210.50"/></clipPath></defs>
<g clip-path="url(#clipC342)">
<path d="M385.00,308.40 L386.00,308.39 L387.00,308.39 L388.00,308.38 L389.00,308.37 L390.00,308.36 L391.00,308.35 L392.00,308.35 L393.00,308.34 L394.00,308.33 L395.00,308.32 L396.00,308.31 L397.00,308.31 L398.00,308.30 L399.00,308.29 L400.00,308.28 L401.00,308.28 L402.00,308.27 L403.00,308.26 L404.00,308.26 L405.00,308.25 L406.00,308.24 L407.00,308.24 L408.00,308.23 L409.00,308.23 L410.00,308.22 L411.00,308.22 L412.00,308.21 L413.00,308.21 L414.00,308.21 L415.00,308.20 L416.00,308.20 L417.00,308.20 L418.00,308.20 L419.00,308.20 L420.00,308.20 L421.00,308.20 L422.00,308.21 L423.00,308.21 L424.00,308.22 L425.00,308.22 L426.00,308.23 L427.00,308.24 L428.00,308.25 L429.00,308.25 L430.00,308.26 L431.00,308.27 L432.00,308.28 L433.00,308.29 L434.00,308.31 L435.00,308.32 L436.00,308.33 L437.00,308.34 L438.00,308.35 L439.00,308.36 L440.00,308.38 L441.00,308.39 L442.00,308.40 L443.00,308.41 L444.00,308.42 L445.00,308.43 L446.00,308.44 L447.00,308.45 L448.00,308.46 L449.00,308.47 L450.00,308.48 L451.00,308.49 L452.00,308.49 L453.00,308.50 L454.00,308.50 L455.00,308.50 L456.00,308.49 L457.00,308.49 L458.00,308.48 L459.00,308.46 L460.00,308.43 L461.00,308.40 L462.00,308.36 L462.99,308.31 L463.99,308.25 L464.99,308.20 L465.99,308.15 L466.99,308.12 L467.99,308.09 L468.99,308.06 L469.99,308.04 L470.99,308.01 L471.99,307.98 L472.99,307.96 L473.99,307.94 L474.99,307.92 L475.99,307.90 L476.99,307.89 L477.99,307.89 L478.99,307.89 L479.99,307.90 L480.99,307.93 L481.99,307.98 L482.98,308.04 L483.98,308.12 L484.98,308.20 L485.97,308.28 L486.97,308.36 L487.97,308.43 L488.97,308.47 L489.97,308.49 L490.97,308.47 L491.96,308.42 L492.96,308.33 L493.95,308.23 L494.95,308.12 L495.94,308.01 L496.94,307.92 L497.94,307.85 L498.93,307.81 L499.93,307.80 L500.93,307.81 L501.93,307.83 L502.93,307.87 L503.93,307.92 L504.93,307.96 L505.93,308.01 L506.93,308.05 L507.93,308.08 L508.93,308.10 L509.93,308.11 L510.93,308.13 L511.93,308.14 L512.93,308.15 L513.93,308.15 L514.93,308.16 L515.93,308.16 L516.93,308.15 L517.93,308.14 L518.93,308.13 L519.93,308.10 L520.93,308.06 L521.92,308.00 L522.92,307.92 L523.92,307.83 L524.91,307.73 L525.91,307.65 L526.91,307.58 L527.90,307.53 L528.90,307.51 L529.90,307.50 L530.90,307.52 L531.90,307.55 L532.90,307.59 L533.90,307.64 L534.90,307.69 L535.90,307.75 L536.90,307.81 L537.89,307.88 L538.89,307.95 L539.89,308.01 L540.89,308.08 L541.88,308.15 L542.88,308.22 L543.88,308.28 L544.88,308.35 L545.88,308.41 L546.87,308.46 L547.87,308.52 L548.87,308.56 L549.87,308.61 L550.87,308.65 L551.87,308.68 L552.87,308.72 L553.87,308.75 L554.87,308.79 L555.87,308.82 L556.87,308.86 L557.87,308.90 L558.86,308.94 L559.86,308.99 L560.86,309.05 L561.86,309.13 L562.85,309.23 L563.85,309.34 L564.84,309.45 L565.84,309.55 L566.83,309.65 L567.83,309.72 L568.83,309.78 L569.83,309.81 L570.83,309.80 L571.82,309.77 L572.82,309.70 L573.82,309.60 L574.81,309.48 L575.80,309.34 L576.79,309.19 L577.78,309.04 L578.76,308.88 L579.75,308.72 L580.74,308.58 L581.73,308.44 L582.72,308.32 L583.72,308.22 L584.71,308.14 L585.71,308.08 L586.71,308.05 L587.71,308.02 L588.71,308.02 L589.71,308.02 L590.71,308.03 L591.71,308.05 L592.71,308.08 L593.71,308.11 L594.71,308.14 L595.71,308.18 L596.71,308.21 L597.71,308.24 L598.71,308.27 L599.71,308.29 L600.71,308.32 L601.71,308.34 L602.71,308.36 L603.71,308.39 L604.71,308.42 L605.71,308.45 L606.71,308.48 L607.70,308.51 L608.70,308.54 L609.70,308.57 L610.70,308.60 L611.70,308.62 L612.70,308.64 L613.70,308.66 L614.70,308.68 L615.70,308.69 L616.70,308.70 L617.70,308.70 L618.70,308.71 L619.70,308.70 L620.70,308.70 L621.70,308.70 L622.70,308.69 L623.70,308.68 L624.70,308.67 L625.70,308.65 L626.70,308.64 L627.70,308.62 L628.70,308.60 L629.70,308.58 L630.70,308.56 L631.70,308.54 L632.70,308.51 L633.70,308.47 L634.70,308.43 L635.70,308.37 L636.69,308.30 L637.69,308.22 L638.69,308.13 L639.68,308.06 L640.68,307.99 L641.68,307.94 L642.68,307.91 L643.68,307.90 L644.68,307.92 L645.68,307.94 L646.68,307.98 L647.68,308.02 L648.68,308.07 L649.68,308.12 L650.67,308.18 L651.67,308.23 L652.59,308.28 L653.00,308.30" stroke="#ff46a8" stroke-width="1.25" fill="none" stroke-linejoin="round" stroke-linecap="round" />
<path d="M385.00,317.30 L386.00,317.31 L387.00,317.33 L388.00,317.34 L389.00,317.35 L390.00,317.37 L391.00,317.38 L392.00,317.39 L393.00,317.41 L394.00,317.42 L395.00,317.43 L396.00,317.45 L397.00,317.46 L398.00,317.47 L399.00,317.49 L400.00,317.50 L401.00,317.51 L402.00,317.53 L403.00,317.54 L404.00,317.55 L405.00,317.57 L406.00,317.58 L407.00,317.59 L408.00,317.60 L409.00,317.61 L410.00,317.61 L411.00,317.61 L412.00,317.61 L413.00,317.60 L414.00,317.59 L415.00,317.59 L416.00,317.58 L417.00,317.57 L418.00,317.58 L419.00,317.58 L420.00,317.60 L421.00,317.63 L422.00,317.67 L422.99,317.73 L423.99,317.81 L424.99,317.91 L425.98,318.01 L426.97,318.14 L427.96,318.28 L428.95,318.45 L429.93,318.64 L430.90,318.86 L431.87,319.10 L432.84,319.37 L433.80,319.66 L434.75,319.96 L435.70,320.28 L436.64,320.62 L437.57,320.97 L438.50,321.35 L439.42,321.73 L440.34,322.12 L441.26,322.52 L442.17,322.92 L443.09,323.33 L444.00,323.74 L444.91,324.15 L445.83,324.55 L446.74,324.96 L447.66,325.36 L448.58,325.75 L449.51,326.13 L450.44,326.48 L451.39,326.80 L452.35,327.05 L453.34,327.18 L454.33,327.25 L455.33,327.35 L456.32,327.48 L457.31,327.61 L458.30,327.74 L459.29,327.87 L460.29,327.98 L461.28,328.08 L462.28,328.15 L463.28,328.20 L464.28,328.21 L465.27,328.16 L466.27,328.05 L467.25,327.88 L468.22,327.65 L469.19,327.39 L470.15,327.12 L471.12,326.86 L472.09,326.63 L473.07,326.43 L474.06,326.27 L475.05,326.13 L476.04,326.01 L477.03,325.90 L478.03,325.80 L479.02,325.70 L480.02,325.61 L481.01,325.52 L482.01,325.44 L483.01,325.36 L484.00,325.28 L485.00,325.20 L486.00,325.12 L486.99,325.04 L487.99,324.96 L488.99,324.87 L489.98,324.78 L490.98,324.69 L491.98,324.60 L492.97,324.52 L493.97,324.45 L494.97,324.39 L495.97,324.35 L496.97,324.34 L497.97,324.36 L498.96,324.43 L499.95,324.57 L500.91,324.82 L501.85,325.17 L502.74,325.61 L503.62,326.10 L504.50,326.56 L505.40,326.99 L506.31,327.41 L507.21,327.84 L508.11,328.29 L509.01,328.73 L509.91,329.16 L510.82,329.58 L511.73,329.98 L512.66,330.35 L513.60,330.69 L514.55,331.02 L515.50,331.33 L516.45,331.63 L517.40,331.93 L518.36,332.21 L519.32,332.48 L520.29,332.75 L521.26,333.00 L522.23,333.23 L523.21,333.44 L524.19,333.63 L525.18,333.78 L526.17,333.87 L527.17,333.88 L528.17,333.82 L529.16,333.69 L530.14,333.53 L531.13,333.38 L532.12,333.26 L533.12,333.19 L534.12,333.16 L535.12,333.14 L536.12,333.13 L537.12,333.13 L538.12,333.14 L539.12,333.17 L540.12,333.23 L541.10,333.37 L542.08,333.59 L543.05,333.81 L544.04,333.94 L545.03,333.94 L546.02,333.83 L547.00,333.63 L547.97,333.38 L548.93,333.10 L549.88,332.80 L550.83,332.48 L551.78,332.16 L552.72,331.83 L553.66,331.49 L554.61,331.16 L555.55,330.83 L556.50,330.51 L557.45,330.20 L558.40,329.90 L559.36,329.61 L560.32,329.35 L561.29,329.10 L562.27,328.88 L563.24,328.66 L564.22,328.46 L565.20,328.26 L566.19,328.08 L567.17,327.90 L568.15,327.72 L569.14,327.54 L570.12,327.37 L571.11,327.19 L572.09,327.00 L573.07,326.80 L574.05,326.60 L575.03,326.40 L576.01,326.19 L576.98,325.98 L577.96,325.77 L578.94,325.57 L579.92,325.36 L580.90,325.17 L581.88,324.98 L582.86,324.80 L583.85,324.62 L584.84,324.46 L585.82,324.30 L586.81,324.15 L587.80,324.00 L588.79,323.86 L589.78,323.72 L590.77,323.58 L591.76,323.44 L592.75,323.31 L593.74,323.19 L594.74,323.07 L595.73,322.96 L596.73,322.85 L597.72,322.76 L598.72,322.69 L599.72,322.63 L600.72,322.60 L601.71,322.63 L602.71,322.72 L603.70,322.87 L604.68,323.06 L605.66,323.26 L606.64,323.43 L607.63,323.54 L608.63,323.59 L609.63,323.59 L610.63,323.56 L611.63,323.51 L612.63,323.44 L613.63,323.37 L614.62,323.29 L615.62,323.22 L616.62,323.15 L617.62,323.09 L618.61,323.05 L619.61,323.02 L620.61,323.01 L621.61,323.01 L622.61,323.03 L623.61,323.05 L624.61,323.09 L625.61,323.13 L626.61,323.17 L627.61,323.22 L628.61,323.27 L629.61,323.33 L630.61,323.38 L631.60,323.44 L632.60,323.49 L633.60,323.55 L634.60,323.60 L635.60,323.65 L636.60,323.69 L637.60,323.73 L638.60,323.78 L639.59,323.83 L640.59,323.89 L641.59,323.97 L642.58,324.07 L643.58,324.18 L644.57,324.31 L645.56,324.45 L646.55,324.59 L647.54,324.74 L648.53,324.89 L649.51,325.05 L650.50,325.20 L651.49,325.36 L652.40,325.51 L653.00,325.60 L653.00,325.60" stroke="#ff6b78" stroke-width="1.15" fill="none" stroke-linejoin="round" stroke-linecap="round" />
<path d="M385.00,327.00 L386.00,326.90 L386.99,326.79 L387.98,326.68 L388.98,326.58 L389.97,326.51 L390.97,326.46 L391.97,326.45 L392.97,326.46 L393.97,326.51 L394.97,326.60 L395.96,326.71 L396.95,326.84 L397.94,326.99 L398.93,327.14 L399.91,327.31 L400.90,327.48 L401.88,327.66 L402.87,327.84 L403.85,328.03 L404.83,328.22 L405.81,328.41 L406.79,328.61 L407.77,328.81 L408.75,329.01 L409.73,329.22 L410.71,329.42 L411.69,329.63 L412.67,329.84 L413.64,330.04 L414.62,330.25 L415.60,330.46 L416.58,330.66 L417.56,330.86 L418.54,331.07 L419.52,331.28 L420.49,331.50 L421.46,331.74 L422.43,331.99 L423.39,332.27 L424.34,332.57 L425.29,332.89 L426.23,333.24 L427.15,333.62 L428.07,334.02 L428.98,334.44 L429.87,334.88 L430.76,335.33 L431.65,335.80 L432.53,336.27 L433.40,336.76 L434.28,337.24 L435.15,337.73 L436.03,338.21 L436.91,338.69 L437.79,339.16 L438.67,339.63 L439.56,340.08 L440.46,340.53 L441.35,340.97 L442.25,341.42 L443.14,341.87 L444.04,342.32 L444.93,342.76 L445.83,343.19 L446.74,343.61 L447.65,344.02 L448.57,344.41 L449.50,344.78 L450.45,345.11 L451.40,345.41 L452.37,345.66 L453.35,345.86 L454.34,345.99 L455.33,346.04 L456.33,346.03 L457.33,345.96 L458.32,345.83 L459.30,345.66 L460.28,345.43 L461.24,345.18 L462.20,344.89 L463.15,344.57 L464.09,344.24 L465.02,343.88 L465.94,343.48 L466.83,343.03 L467.71,342.54 L468.57,342.04 L469.44,341.54 L470.31,341.06 L471.20,340.60 L472.10,340.17 L473.03,339.79 L473.97,339.46 L474.93,339.17 L475.89,338.91 L476.86,338.67 L477.84,338.45 L478.82,338.25 L479.80,338.05 L480.78,337.87 L481.77,337.70 L482.75,337.54 L483.74,337.38 L484.73,337.23 L485.72,337.08 L486.71,336.94 L487.70,336.81 L488.69,336.69 L489.69,336.57 L490.68,336.47 L491.68,336.39 L492.67,336.32 L493.67,336.27 L494.67,336.26 L495.67,336.27 L496.67,336.34 L497.66,336.46 L498.64,336.64 L499.60,336.91 L500.54,337.25 L501.46,337.65 L502.36,338.09 L503.23,338.57 L504.08,339.10 L504.90,339.67 L505.70,340.26 L506.50,340.87 L507.30,341.47 L508.11,342.06 L508.93,342.62 L509.76,343.18 L510.58,343.75 L511.43,344.29 L512.32,344.72 L513.27,344.99 L514.25,345.06 L515.24,344.95 L516.21,344.73 L517.18,344.47 L518.14,344.22 L519.12,344.03 L520.12,343.94 L521.11,343.96 L522.10,344.07 L523.09,344.23 L524.07,344.42 L525.06,344.60 L526.04,344.75 L527.04,344.85 L528.04,344.89 L529.03,344.87 L530.03,344.81 L531.03,344.72 L532.02,344.60 L533.01,344.45 L533.99,344.27 L534.96,344.04 L535.92,343.74 L536.84,343.36 L537.73,342.91 L538.61,342.44 L539.51,342.00 L540.44,341.65 L541.40,341.47 L542.38,341.56 L543.31,341.88 L544.23,342.27 L545.18,342.55 L546.16,342.63 L547.14,342.51 L548.11,342.25 L549.05,341.91 L549.97,341.53 L550.89,341.13 L551.80,340.71 L552.70,340.29 L553.61,339.87 L554.52,339.45 L555.43,339.05 L556.36,338.67 L557.29,338.32 L558.25,338.01 L559.21,337.75 L560.18,337.52 L561.16,337.33 L562.15,337.15 L563.13,336.98 L564.12,336.79 L565.09,336.59 L566.07,336.35 L567.03,336.09 L567.99,335.82 L568.95,335.53 L569.90,335.23 L570.86,334.93 L571.81,334.63 L572.76,334.32 L573.72,334.03 L574.68,333.74 L575.64,333.45 L576.60,333.18 L577.56,332.93 L578.54,332.69 L579.51,332.47 L580.49,332.27 L581.47,332.07 L582.45,331.89 L583.44,331.72 L584.43,331.56 L585.41,331.41 L586.40,331.26 L587.40,331.13 L588.39,331.01 L589.38,330.90 L590.38,330.80 L591.37,330.71 L592.37,330.64 L593.37,330.58 L594.37,330.55 L595.37,330.54 L596.37,330.54 L597.37,330.55 L598.37,330.58 L599.37,330.61 L600.37,330.65 L601.36,330.70 L602.36,330.77 L603.36,330.87 L604.35,331.01 L605.33,331.17 L606.32,331.30 L607.32,331.39 L608.32,331.38 L609.30,331.25 L610.27,331.01 L611.21,330.69 L612.16,330.35 L613.11,330.05 L614.08,329.83 L615.07,329.69 L616.07,329.61 L617.06,329.57 L618.06,329.56 L619.06,329.56 L620.06,329.58 L621.06,329.60 L622.06,329.63 L623.06,329.66 L624.06,329.68 L625.06,329.71 L626.06,329.74 L627.06,329.76 L628.06,329.80 L629.06,329.83 L630.06,329.87 L631.06,329.91 L632.06,329.95 L633.06,329.99 L634.06,330.04 L635.05,330.09 L636.05,330.14 L637.05,330.20 L638.05,330.26 L639.05,330.31 L640.05,330.38 L641.04,330.44 L642.04,330.51 L643.04,330.60 L644.03,330.70 L645.02,330.82 L646.01,330.98 L646.99,331.17 L647.96,331.40 L648.93,331.67 L649.88,331.96 L650.83,332.27 L651.77,332.59 L652.63,332.88 L653.00,333.00" stroke="#f5a070" stroke-width="1.15" fill="none" stroke-linejoin="round" stroke-linecap="round" />
<path d="M385.00,343.50 L385.97,343.72 L386.95,343.94 L387.93,344.15 L388.90,344.38 L389.87,344.64 L390.83,344.92 L391.77,345.24 L392.71,345.59 L393.62,345.99 L394.52,346.43 L395.41,346.89 L396.29,347.37 L397.16,347.87 L398.02,348.37 L398.88,348.87 L399.75,349.38 L400.61,349.89 L401.47,350.39 L402.34,350.88 L403.23,351.35 L404.12,351.79 L405.04,352.20 L405.96,352.58 L406.89,352.95 L407.80,353.36 L408.69,353.82 L409.54,354.34 L410.35,354.93 L411.11,355.57 L411.84,356.25 L412.54,356.97 L413.22,357.70 L413.88,358.45 L414.53,359.21 L415.18,359.97 L415.84,360.73 L416.49,361.48 L417.16,362.22 L417.84,362.96 L418.54,363.67 L419.26,364.36 L420.01,365.02 L420.79,365.65 L421.58,366.27 L422.38,366.87 L423.19,367.45 L424.01,368.02 L424.83,368.59 L425.65,369.17 L426.47,369.74 L427.28,370.33 L428.08,370.93 L428.86,371.55 L429.61,372.21 L430.35,372.88 L431.06,373.59 L431.75,374.31 L432.42,375.05 L433.08,375.81 L433.72,376.57 L434.36,377.34 L435.01,378.10 L435.66,378.86 L436.31,379.62 L436.94,380.39 L437.57,381.17 L438.19,381.96 L438.81,382.74 L439.43,383.53 L440.06,384.31 L440.70,385.07 L441.35,385.83 L442.03,386.56 L442.74,387.26 L443.49,387.93 L444.27,388.55 L445.08,389.13 L445.93,389.66 L446.81,390.14 L447.72,390.55 L448.66,390.87 L449.63,391.10 L450.62,391.21 L451.62,391.19 L452.60,391.06 L453.57,390.84 L454.53,390.54 L455.46,390.18 L456.38,389.78 L457.28,389.35 L458.16,388.88 L459.01,388.36 L459.83,387.79 L460.62,387.18 L461.39,386.53 L462.12,385.85 L462.84,385.15 L463.53,384.43 L464.19,383.69 L464.84,382.93 L465.47,382.15 L466.09,381.37 L466.71,380.58 L467.32,379.78 L467.92,378.99 L468.53,378.19 L469.14,377.40 L469.75,376.61 L470.37,375.82 L470.97,375.02 L471.56,374.22 L472.14,373.41 L472.72,372.59 L473.30,371.78 L473.89,370.96 L474.47,370.15 L475.07,369.35 L475.67,368.55 L476.29,367.77 L476.93,367.00 L477.59,366.25 L478.28,365.53 L479.00,364.84 L479.76,364.18 L480.54,363.55 L481.34,362.96 L482.17,362.41 L483.03,361.90 L483.92,361.44 L484.84,361.04 L485.77,360.70 L486.73,360.42 L487.71,360.20 L488.69,360.04 L489.69,359.93 L490.68,359.88 L491.68,359.88 L492.68,359.93 L493.67,360.04 L494.66,360.21 L495.63,360.45 L496.57,360.77 L497.48,361.18 L498.32,361.71 L499.08,362.35 L499.78,363.07 L500.41,363.83 L501.01,364.64 L501.57,365.46 L502.12,366.30 L502.67,367.13 L503.23,367.96 L503.81,368.77 L504.41,369.57 L505.01,370.38 L505.59,371.19 L506.17,372.00 L506.79,372.79 L507.45,373.54 L508.13,374.27 L508.80,375.01 L509.48,375.74 L510.21,376.42 L511.04,376.94 L511.97,377.21 L512.95,377.18 L513.89,376.91 L514.80,376.49 L515.66,375.99 L516.50,375.45 L517.33,374.88 L518.14,374.30 L518.94,373.70 L519.75,373.11 L520.55,372.52 L521.36,371.93 L522.17,371.34 L522.96,370.73 L523.75,370.11 L524.53,369.49 L525.30,368.86 L526.08,368.22 L526.85,367.59 L527.62,366.95 L528.41,366.33 L529.20,365.72 L530.02,365.15 L530.87,364.62 L531.76,364.19 L532.70,363.84 L533.64,363.51 L534.53,363.08 L535.37,362.54 L536.15,361.92 L536.88,361.24 L537.60,360.54 L538.31,359.83 L539.03,359.14 L539.77,358.47 L540.54,357.83 L541.33,357.22 L542.15,356.65 L542.99,356.10 L543.84,355.58 L544.70,355.07 L545.57,354.57 L546.44,354.08 L547.31,353.60 L548.19,353.12 L549.07,352.65 L549.96,352.18 L550.84,351.72 L551.73,351.26 L552.62,350.80 L553.51,350.34 L554.40,349.89 L555.30,349.44 L556.19,349.00 L557.09,348.55 L557.99,348.12 L558.89,347.68 L559.80,347.26 L560.71,346.85 L561.62,346.46 L562.55,346.07 L563.47,345.70 L564.41,345.33 L565.34,344.98 L566.28,344.64 L567.22,344.30 L568.17,343.97 L569.12,343.66 L570.07,343.37 L571.04,343.09 L572.00,342.83 L572.97,342.58 L573.93,342.32 L574.90,342.06 L575.86,341.78 L576.82,341.50 L577.78,341.23 L578.75,340.98 L579.72,340.75 L580.70,340.55 L581.69,340.38 L582.68,340.23 L583.67,340.09 L584.66,339.97 L585.65,339.86 L586.65,339.77 L587.64,339.68 L588.64,339.62 L589.64,339.56 L590.64,339.52 L591.64,339.50 L592.64,339.49 L593.64,339.50 L594.64,339.52 L595.64,339.55 L596.64,339.60 L597.64,339.66 L598.63,339.74 L599.63,339.84 L600.62,339.97 L601.60,340.15 L602.56,340.41 L603.49,340.76 L604.40,341.19 L605.29,341.64 L606.20,342.05 L607.14,342.36 L608.11,342.45 L609.06,342.25 L609.93,341.78 L610.69,341.15 L611.41,340.46 L612.13,339.76 L612.88,339.10 L613.70,338.54 L614.59,338.12 L615.55,337.87 L616.54,337.75 L617.54,337.71 L618.54,337.72 L619.54,337.77 L620.54,337.83 L621.53,337.90 L622.53,337.96 L623.53,338.00 L624.53,337.99 L625.53,337.94 L626.52,337.85 L627.52,337.73 L628.51,337.60 L629.50,337.47 L630.49,337.35 L631.49,337.27 L632.49,337.22 L633.49,337.21 L634.49,337.21 L635.49,337.24 L636.49,337.27 L637.48,337.33 L638.48,337.40 L639.48,337.49 L640.47,337.61 L641.46,337.75 L642.44,337.92 L643.42,338.13 L644.39,338.37 L645.35,338.65 L646.31,338.94 L647.26,339.25 L648.20,339.58 L649.15,339.91 L650.09,340.25 L651.03,340.59 L651.95,340.93 L652.72,341.20 L653.00,341.30" stroke="#ecb565" stroke-width="1.15" fill="none" stroke-linejoin="round" stroke-linecap="round" />
<path d="M385.00,360.70 L385.92,361.10 L386.84,361.49 L387.76,361.88 L388.68,362.27 L389.59,362.69 L390.49,363.12 L391.38,363.58 L392.25,364.06 L393.10,364.58 L393.93,365.14 L394.75,365.72 L395.54,366.33 L396.33,366.95 L397.11,367.57 L397.88,368.21 L398.65,368.85 L399.42,369.48 L400.19,370.12 L400.97,370.75 L401.76,371.36 L402.56,371.96 L403.38,372.54 L404.20,373.10 L405.03,373.66 L405.86,374.23 L406.67,374.81 L407.47,375.41 L408.24,376.04 L408.98,376.71 L409.69,377.42 L410.36,378.16 L411.00,378.92 L411.62,379.71 L412.23,380.51 L412.82,381.31 L413.40,382.13 L413.98,382.94 L414.56,383.76 L415.14,384.57 L415.73,385.38 L416.32,386.18 L416.91,386.99 L417.49,387.80 L418.07,388.62 L418.65,389.43 L419.23,390.25 L419.82,391.06 L420.40,391.87 L420.99,392.68 L421.59,393.48 L422.19,394.28 L422.79,395.08 L423.40,395.87 L424.01,396.67 L424.62,397.46 L425.23,398.25 L425.84,399.04 L426.46,399.83 L427.08,400.61 L427.70,401.40 L428.32,402.18 L428.95,402.95 L429.60,403.72 L430.28,404.45 L431.00,405.14 L431.74,405.81 L432.43,406.53 L433.05,407.32 L433.62,408.13 L434.17,408.97 L434.70,409.82 L435.21,410.68 L435.73,411.53 L436.24,412.39 L436.74,413.26 L437.25,414.12 L437.77,414.97 L438.29,415.83 L438.81,416.68 L439.35,417.52 L439.90,418.36 L440.44,419.20 L440.98,420.04 L441.53,420.87 L442.10,421.70 L442.69,422.50 L443.33,423.28 L444.01,424.00 L444.75,424.67 L445.54,425.28 L446.38,425.82 L447.27,426.27 L448.20,426.62 L449.17,426.86 L450.16,426.98 L451.15,427.03 L452.15,427.01 L453.14,426.91 L454.12,426.70 L455.05,426.36 L455.93,425.90 L456.72,425.30 L457.43,424.60 L458.06,423.83 L458.63,423.01 L459.14,422.15 L459.62,421.27 L460.08,420.39 L460.53,419.49 L460.97,418.59 L461.41,417.69 L461.84,416.79 L462.29,415.90 L462.74,415.01 L463.19,414.11 L463.64,413.22 L464.07,412.32 L464.50,411.42 L464.92,410.51 L465.34,409.60 L465.76,408.69 L466.17,407.78 L466.59,406.87 L467.00,405.96 L467.42,405.05 L467.84,404.14 L468.26,403.24 L468.69,402.34 L469.13,401.43 L469.57,400.54 L470.02,399.64 L470.48,398.76 L470.95,397.88 L471.44,397.01 L471.95,396.15 L472.49,395.30 L473.04,394.47 L473.62,393.66 L474.23,392.86 L474.85,392.08 L475.50,391.32 L476.17,390.57 L476.85,389.85 L477.56,389.14 L478.29,388.46 L479.04,387.80 L479.81,387.16 L480.60,386.54 L481.40,385.94 L482.22,385.37 L483.06,384.83 L483.92,384.32 L484.81,383.87 L485.73,383.48 L486.67,383.15 L487.64,382.90 L488.62,382.72 L489.61,382.61 L490.61,382.59 L491.61,382.65 L492.59,382.80 L493.56,383.05 L494.49,383.39 L495.40,383.82 L496.26,384.31 L497.10,384.86 L497.89,385.46 L498.66,386.11 L499.38,386.79 L500.06,387.53 L500.69,388.30 L501.29,389.10 L501.86,389.92 L502.42,390.75 L502.96,391.59 L503.50,392.44 L504.03,393.28 L504.57,394.12 L505.11,394.96 L505.65,395.81 L506.18,396.65 L506.70,397.51 L507.22,398.37 L507.72,399.23 L508.23,400.09 L508.74,400.95 L509.25,401.81 L509.77,402.67 L510.30,403.51 L510.86,404.34 L511.45,405.15 L512.07,405.90 L512.77,406.32 L513.52,406.01 L514.20,405.31 L514.80,404.52 L515.35,403.69 L515.88,402.83 L516.39,401.98 L516.91,401.12 L517.43,400.27 L517.96,399.42 L518.51,398.59 L519.08,397.77 L519.68,396.97 L520.31,396.19 L520.97,395.44 L521.65,394.70 L522.34,393.98 L523.05,393.28 L523.77,392.58 L524.49,391.89 L525.21,391.20 L525.94,390.51 L526.67,389.82 L527.39,389.13 L528.11,388.43 L528.81,387.73 L529.51,387.01 L530.20,386.29 L530.88,385.55 L531.54,384.81 L532.20,384.06 L532.86,383.30 L533.50,382.54 L534.15,381.77 L534.79,381.01 L535.43,380.24 L536.08,379.47 L536.72,378.71 L537.37,377.95 L538.03,377.19 L538.69,376.44 L539.36,375.70 L540.04,374.96 L540.72,374.23 L541.39,373.50 L542.07,372.76 L542.75,372.03 L543.44,371.30 L544.12,370.57 L544.82,369.85 L545.52,369.14 L546.23,368.44 L546.95,367.75 L547.69,367.07 L548.45,366.42 L549.23,365.79 L550.03,365.20 L550.87,364.65 L551.73,364.16 L552.63,363.71 L553.54,363.31 L554.47,362.94 L555.41,362.60 L556.35,362.26 L557.30,361.93 L558.23,361.57 L559.15,361.19 L560.05,360.75 L560.93,360.27 L561.78,359.75 L562.62,359.20 L563.44,358.64 L564.26,358.07 L565.09,357.50 L565.92,356.95 L566.78,356.44 L567.67,355.98 L568.57,355.54 L569.48,355.14 L570.41,354.76 L571.34,354.40 L572.28,354.06 L573.22,353.72 L574.16,353.38 L575.10,353.04 L576.04,352.70 L576.98,352.36 L577.92,352.03 L578.88,351.72 L579.84,351.46 L580.82,351.24 L581.80,351.07 L582.79,350.95 L583.79,350.86 L584.79,350.81 L585.79,350.78 L586.79,350.77 L587.79,350.77 L588.79,350.78 L589.79,350.80 L590.79,350.81 L591.78,350.83 L592.78,350.85 L593.78,350.89 L594.78,350.96 L595.77,351.06 L596.76,351.22 L597.74,351.43 L598.70,351.71 L599.64,352.04 L600.57,352.41 L601.49,352.81 L602.40,353.22 L603.30,353.64 L604.21,354.06 L605.12,354.48 L606.01,354.93 L606.87,355.42 L607.76,355.75 L608.65,355.61 L609.37,355.00 L609.93,354.19 L610.48,353.36 L611.12,352.59 L611.87,351.95 L612.72,351.43 L613.63,351.03 L614.57,350.68 L615.52,350.38 L616.48,350.09 L617.44,349.83 L618.41,349.59 L619.38,349.35 L620.36,349.14 L621.34,348.93 L622.32,348.73 L623.30,348.55 L624.29,348.37 L625.27,348.21 L626.26,348.07 L627.25,347.94 L628.25,347.83 L629.24,347.74 L630.24,347.66 L631.24,347.60 L632.24,347.55 L633.24,347.52 L634.24,347.50 L635.24,347.49 L636.24,347.51 L637.23,347.54 L638.23,347.60 L639.23,347.68 L640.22,347.78 L641.22,347.90 L642.21,348.04 L643.20,348.19 L644.18,348.35 L645.17,348.52 L646.15,348.70 L647.13,348.89 L648.11,349.10 L649.08,349.33 L650.05,349.58 L651.02,349.85 L651.96,350.11 L652.73,350.33 L653.00,350.40" stroke="#ede070" stroke-width="1.15" fill="none" stroke-linejoin="round" stroke-linecap="round" />
<path d="M385.00,369.50 L385.90,369.94 L386.80,370.37 L387.70,370.80 L388.60,371.24 L389.49,371.70 L390.37,372.18 L391.22,372.69 L392.06,373.24 L392.87,373.82 L393.65,374.45 L394.39,375.12 L395.11,375.81 L395.82,376.52 L396.51,377.24 L397.20,377.96 L397.89,378.69 L398.57,379.42 L399.26,380.15 L399.96,380.86 L400.67,381.56 L401.41,382.24 L402.17,382.88 L402.97,383.49 L403.79,384.05 L404.64,384.59 L405.49,385.10 L406.35,385.61 L407.20,386.14 L408.03,386.70 L408.82,387.31 L409.57,387.97 L410.29,388.66 L410.98,389.38 L411.65,390.12 L412.31,390.88 L412.94,391.65 L413.56,392.44 L414.17,393.23 L414.76,394.04 L415.35,394.85 L415.91,395.68 L416.44,396.53 L416.94,397.39 L417.41,398.27 L417.88,399.15 L418.34,400.04 L418.81,400.92 L419.30,401.80 L419.81,402.65 L420.38,403.47 L421.03,404.23 L421.77,404.89 L422.60,405.44 L423.47,405.94 L424.31,406.47 L425.10,407.07 L425.84,407.75 L426.55,408.46 L427.24,409.17 L427.93,409.90 L428.61,410.64 L429.28,411.38 L429.94,412.13 L430.58,412.89 L431.22,413.67 L431.84,414.45 L432.44,415.25 L433.02,416.06 L433.58,416.89 L434.10,417.74 L434.60,418.61 L435.08,419.49 L435.54,420.37 L436.00,421.26 L436.44,422.16 L436.89,423.05 L437.34,423.95 L437.80,424.83 L438.28,425.71 L438.78,426.58 L439.30,427.43 L439.86,428.26 L440.44,429.07 L441.04,429.87 L441.65,430.66 L442.29,431.43 L442.94,432.19 L443.61,432.94 L444.29,433.67 L444.99,434.39 L445.69,435.09 L446.40,435.80 L447.11,436.50 L447.84,437.18 L448.64,437.78 L449.51,438.24 L450.46,438.52 L451.45,438.63 L452.44,438.63 L453.44,438.55 L454.42,438.36 L455.37,438.08 L456.29,437.69 L457.15,437.19 L457.94,436.59 L458.65,435.89 L459.29,435.12 L459.85,434.30 L460.36,433.44 L460.84,432.56 L461.29,431.67 L461.74,430.77 L462.18,429.88 L462.62,428.98 L463.07,428.09 L463.53,427.20 L464.00,426.32 L464.48,425.44 L464.96,424.56 L465.43,423.68 L465.91,422.80 L466.38,421.92 L466.84,421.03 L467.31,420.15 L467.78,419.27 L468.24,418.38 L468.71,417.49 L469.17,416.61 L469.64,415.72 L470.10,414.84 L470.57,413.96 L471.04,413.07 L471.51,412.19 L471.98,411.31 L472.45,410.42 L472.92,409.54 L473.40,408.66 L473.88,407.79 L474.36,406.91 L474.85,406.04 L475.34,405.17 L475.84,404.30 L476.35,403.44 L476.87,402.58 L477.40,401.74 L477.94,400.90 L478.50,400.07 L479.08,399.26 L479.69,398.46 L480.32,397.69 L480.99,396.94 L481.70,396.24 L482.46,395.59 L483.26,394.99 L484.09,394.44 L484.94,393.91 L485.80,393.42 L486.70,392.98 L487.63,392.62 L488.59,392.33 L489.57,392.13 L490.56,392.01 L491.55,391.97 L492.55,392.02 L493.54,392.15 L494.51,392.37 L495.46,392.69 L496.35,393.12 L497.20,393.65 L497.98,394.26 L498.71,394.94 L499.39,395.68 L500.01,396.46 L500.58,397.28 L501.13,398.11 L501.66,398.96 L502.17,399.82 L502.67,400.69 L503.16,401.56 L503.66,402.43 L504.15,403.30 L504.65,404.16 L505.16,405.03 L505.66,405.89 L506.16,406.75 L506.66,407.62 L507.14,408.50 L507.63,409.37 L508.11,410.25 L508.60,411.12 L509.09,411.99 L509.58,412.86 L510.08,413.73 L510.60,414.58 L511.14,415.42 L511.70,416.25 L512.26,417.04 L512.91,417.44 L513.61,417.07 L514.22,416.31 L514.74,415.46 L515.21,414.57 L515.65,413.68 L516.08,412.78 L516.51,411.87 L516.94,410.97 L517.38,410.07 L517.83,409.18 L518.29,408.29 L518.77,407.41 L519.27,406.55 L519.81,405.70 L520.37,404.88 L520.97,404.08 L521.59,403.29 L522.22,402.52 L522.87,401.76 L523.53,401.01 L524.20,400.27 L524.88,399.53 L525.56,398.80 L526.25,398.07 L526.93,397.34 L527.62,396.62 L528.30,395.89 L528.98,395.15 L529.65,394.41 L530.32,393.66 L530.98,392.91 L531.63,392.16 L532.29,391.40 L532.94,390.65 L533.60,389.89 L534.25,389.13 L534.90,388.38 L535.56,387.62 L536.21,386.87 L536.87,386.11 L537.53,385.36 L538.19,384.61 L538.86,383.86 L539.53,383.12 L540.20,382.38 L540.87,381.64 L541.53,380.89 L542.19,380.13 L542.85,379.38 L543.52,378.64 L544.20,377.91 L544.91,377.21 L545.64,376.53 L546.40,375.88 L547.18,375.25 L547.99,374.66 L548.81,374.09 L549.65,373.55 L550.50,373.02 L551.36,372.51 L552.22,372.00 L553.09,371.51 L553.96,371.02 L554.84,370.53 L555.71,370.05 L556.59,369.57 L557.47,369.09 L558.34,368.60 L559.21,368.11 L560.07,367.61 L560.93,367.09 L561.78,366.57 L562.62,366.03 L563.46,365.48 L564.31,364.94 L565.16,364.42 L566.02,363.92 L566.91,363.46 L567.81,363.04 L568.74,362.66 L569.68,362.31 L570.63,362.00 L571.58,361.70 L572.53,361.40 L573.49,361.10 L574.43,360.78 L575.37,360.43 L576.30,360.05 L577.22,359.67 L578.15,359.29 L579.08,358.94 L580.04,358.65 L581.01,358.41 L581.99,358.25 L582.99,358.15 L583.99,358.11 L584.99,358.10 L585.99,358.13 L586.98,358.16 L587.98,358.21 L588.98,358.26 L589.98,358.29 L590.98,358.32 L591.98,358.33 L592.98,358.34 L593.98,358.37 L594.98,358.42 L595.97,358.52 L596.96,358.68 L597.92,358.92 L598.86,359.26 L599.77,359.67 L600.66,360.14 L601.53,360.63 L602.40,361.12 L603.28,361.59 L604.18,362.04 L605.06,362.49 L605.95,362.96 L606.85,363.36 L607.80,363.53 L608.69,363.29 L609.39,362.64 L609.92,361.80 L610.36,360.91 L610.80,360.01 L611.27,359.13 L611.84,358.32 L612.47,357.55 L613.19,356.91 L614.08,356.57 L615.07,356.42 L616.06,356.33 L617.06,356.27 L618.06,356.23 L619.06,356.20 L620.06,356.18 L621.06,356.16 L622.06,356.15 L623.06,356.15 L624.06,356.14 L625.06,356.14 L626.06,356.15 L627.06,356.15 L628.06,356.15 L629.06,356.16 L630.06,356.17 L631.06,356.18 L632.06,356.19 L633.06,356.20 L634.06,356.22 L635.06,356.23 L636.06,356.25 L637.06,356.27 L638.06,356.28 L639.06,356.30 L640.06,356.32 L641.06,356.34 L642.06,356.36 L643.06,356.39 L644.05,356.43 L645.05,356.50 L646.05,356.61 L647.03,356.77 L648.00,357.00 L648.95,357.32 L649.86,357.72 L650.74,358.20 L651.59,358.71 L652.36,359.19 L652.70,359.40" stroke="#bfe36d" stroke-width="1.15" fill="none" stroke-linejoin="round" stroke-linecap="round" />
<path d="M385.00,380.80 L385.94,381.14 L386.88,381.47 L387.83,381.79 L388.76,382.15 L389.68,382.54 L390.58,382.97 L391.46,383.46 L392.29,384.00 L393.09,384.60 L393.85,385.25 L394.58,385.94 L395.29,386.64 L395.98,387.37 L396.66,388.10 L397.33,388.84 L397.99,389.59 L398.65,390.34 L399.31,391.09 L399.97,391.84 L400.64,392.59 L401.31,393.33 L401.99,394.06 L402.69,394.78 L403.41,395.47 L404.17,396.11 L404.98,396.71 L405.81,397.26 L406.66,397.79 L407.49,398.35 L408.26,398.97 L408.97,399.67 L409.62,400.43 L410.22,401.23 L410.78,402.06 L411.32,402.90 L411.84,403.75 L412.35,404.61 L412.85,405.48 L413.36,406.34 L413.86,407.20 L414.37,408.06 L414.90,408.91 L415.44,409.75 L416.01,410.57 L416.60,411.38 L417.20,412.18 L417.82,412.97 L418.45,413.74 L419.10,414.51 L419.74,415.27 L420.38,416.04 L421.03,416.80 L421.70,417.55 L422.37,418.28 L423.05,419.01 L423.73,419.75 L424.41,420.48 L425.08,421.23 L425.73,421.99 L426.37,422.76 L426.98,423.55 L427.57,424.35 L428.14,425.18 L428.68,426.02 L429.20,426.87 L429.70,427.74 L430.18,428.61 L430.66,429.49 L431.13,430.37 L431.59,431.26 L432.05,432.15 L432.51,433.04 L432.97,433.92 L433.43,434.81 L433.90,435.69 L434.38,436.58 L434.86,437.45 L435.36,438.32 L435.87,439.18 L436.39,440.03 L436.91,440.88 L437.43,441.74 L437.97,442.58 L438.51,443.42 L439.07,444.25 L439.66,445.06 L440.28,445.84 L440.93,446.60 L441.63,447.32 L442.35,448.00 L443.10,448.67 L443.87,449.30 L444.66,449.91 L445.48,450.48 L446.33,451.01 L447.21,451.49 L448.12,451.89 L449.07,452.18 L450.05,452.35 L451.04,452.37 L452.03,452.25 L453.00,452.02 L453.94,451.69 L454.85,451.27 L455.72,450.78 L456.55,450.23 L457.34,449.62 L458.09,448.96 L458.79,448.25 L459.42,447.47 L460.00,446.66 L460.54,445.82 L461.06,444.97 L461.56,444.10 L462.05,443.23 L462.53,442.35 L463.01,441.47 L463.49,440.60 L463.99,439.73 L464.53,438.89 L465.12,438.09 L465.79,437.35 L466.43,436.59 L467.00,435.77 L467.54,434.93 L468.06,434.07 L468.57,433.21 L469.07,432.35 L469.57,431.48 L470.06,430.61 L470.56,429.74 L471.05,428.87 L471.55,428.00 L472.04,427.14 L472.54,426.27 L473.03,425.40 L473.53,424.53 L474.03,423.66 L474.53,422.80 L475.03,421.93 L475.54,421.07 L476.05,420.21 L476.57,419.36 L477.10,418.51 L477.63,417.66 L478.17,416.82 L478.71,415.98 L479.25,415.14 L479.80,414.30 L480.36,413.47 L480.92,412.65 L481.50,411.83 L482.09,411.02 L482.70,410.23 L483.34,409.46 L484.00,408.72 L484.70,408.00 L485.43,407.32 L486.20,406.68 L487.00,406.08 L487.83,405.52 L488.70,405.03 L489.60,404.60 L490.54,404.27 L491.51,404.04 L492.49,403.95 L493.48,404.03 L494.43,404.30 L495.34,404.71 L496.18,405.24 L496.98,405.84 L497.73,406.50 L498.46,407.18 L499.17,407.89 L499.84,408.63 L500.48,409.40 L501.09,410.19 L501.68,411.00 L502.25,411.82 L502.81,412.65 L503.36,413.48 L503.90,414.32 L504.43,415.17 L504.96,416.02 L505.48,416.87 L505.98,417.74 L506.47,418.61 L506.95,419.49 L507.42,420.37 L507.88,421.26 L508.34,422.15 L508.80,423.03 L509.26,423.92 L509.73,424.80 L510.21,425.68 L510.70,426.55 L511.22,427.40 L511.79,428.22 L512.46,428.90 L513.26,429.09 L514.08,428.69 L514.79,428.00 L515.39,427.21 L515.95,426.38 L516.49,425.54 L517.03,424.69 L517.56,423.85 L518.09,423.00 L518.61,422.14 L519.10,421.28 L519.60,420.41 L520.09,419.54 L520.59,418.67 L521.10,417.81 L521.62,416.96 L522.16,416.11 L522.72,415.28 L523.30,414.47 L523.92,413.68 L524.57,412.93 L525.25,412.20 L525.97,411.50 L526.70,410.82 L527.45,410.16 L528.20,409.49 L528.94,408.83 L529.68,408.15 L530.40,407.46 L531.10,406.74 L531.77,406.00 L532.40,405.23 L532.99,404.42 L533.53,403.58 L534.03,402.72 L534.50,401.83 L534.94,400.94 L535.37,400.03 L535.80,399.13 L536.24,398.23 L536.70,397.34 L537.18,396.47 L537.69,395.61 L538.24,394.77 L538.82,393.96 L539.44,393.18 L540.09,392.42 L540.78,391.69 L541.48,390.98 L542.20,390.28 L542.93,389.60 L543.67,388.93 L544.41,388.26 L545.17,387.61 L545.93,386.96 L546.70,386.32 L547.47,385.68 L548.24,385.05 L549.02,384.43 L549.81,383.80 L550.60,383.19 L551.39,382.58 L552.18,381.97 L552.98,381.37 L553.78,380.77 L554.59,380.18 L555.39,379.59 L556.21,379.00 L557.03,378.43 L557.86,377.87 L558.70,377.34 L559.55,376.82 L560.42,376.32 L561.30,375.84 L562.18,375.38 L563.08,374.93 L563.98,374.50 L564.89,374.08 L565.80,373.66 L566.70,373.23 L567.61,372.81 L568.52,372.39 L569.43,371.99 L570.36,371.62 L571.29,371.26 L572.23,370.92 L573.18,370.60 L574.13,370.29 L575.08,369.99 L576.04,369.71 L577.01,369.47 L577.99,369.28 L578.99,369.15 L579.98,369.11 L580.98,369.16 L581.97,369.26 L582.97,369.36 L583.96,369.42 L584.95,369.36 L585.91,369.12 L586.82,368.71 L587.70,368.25 L588.61,367.86 L589.58,367.67 L590.57,367.69 L591.55,367.86 L592.51,368.11 L593.47,368.41 L594.41,368.75 L595.34,369.10 L596.27,369.47 L597.20,369.84 L598.12,370.23 L599.03,370.65 L599.93,371.09 L600.81,371.56 L601.69,372.04 L602.57,372.51 L603.45,372.98 L604.33,373.46 L605.18,373.98 L606.06,374.35 L606.97,374.28 L607.79,373.79 L608.51,373.10 L609.17,372.36 L609.83,371.60 L610.50,370.87 L611.22,370.17 L611.98,369.52 L612.74,368.87 L613.53,368.26 L614.37,367.72 L615.27,367.29 L616.21,366.98 L617.18,366.76 L618.17,366.61 L619.16,366.50 L620.16,366.43 L621.16,366.39 L622.16,366.36 L623.16,366.34 L624.16,366.33 L625.16,366.32 L626.16,366.30 L627.16,366.29 L628.16,366.28 L629.16,366.28 L630.16,366.28 L631.16,366.28 L632.16,366.29 L633.16,366.31 L634.16,366.33 L635.16,366.35 L636.16,366.38 L637.16,366.42 L638.16,366.46 L639.16,366.51 L640.15,366.58 L641.15,366.65 L642.15,366.74 L643.14,366.84 L644.13,366.96 L645.13,367.09 L646.12,367.24 L647.10,367.40 L648.08,367.59 L649.06,367.82 L650.02,368.09 L650.97,368.40 L651.89,368.72 L652.70,369.00 L652.70,369.00" stroke="#2fe83a" stroke-width="1.15" fill="none" stroke-linejoin="round" stroke-linecap="round" />
<path d="M385.00,392.40 L385.91,392.81 L386.83,393.20 L387.75,393.59 L388.66,394.00 L389.57,394.43 L390.46,394.89 L391.33,395.37 L392.19,395.88 L393.02,396.43 L393.84,397.02 L394.63,397.62 L395.42,398.24 L396.19,398.87 L396.96,399.52 L397.72,400.17 L398.47,400.82 L399.22,401.49 L399.97,402.15 L400.71,402.82 L401.45,403.49 L402.19,404.17 L402.93,404.84 L403.67,405.51 L404.42,406.17 L405.18,406.83 L405.93,407.48 L406.68,408.14 L407.42,408.82 L408.13,409.52 L408.81,410.25 L409.46,411.01 L410.08,411.80 L410.65,412.61 L411.19,413.46 L411.69,414.32 L412.15,415.21 L412.59,416.11 L413.02,417.01 L413.44,417.92 L413.84,418.83 L414.25,419.75 L414.66,420.66 L415.08,421.57 L415.50,422.47 L415.95,423.37 L416.42,424.25 L416.92,425.11 L417.47,425.95 L418.04,426.77 L418.65,427.56 L419.28,428.34 L419.94,429.09 L420.61,429.83 L421.29,430.57 L421.96,431.31 L422.62,432.05 L423.28,432.81 L423.94,433.56 L424.60,434.31 L425.28,435.05 L425.95,435.78 L426.62,436.52 L427.29,437.27 L427.95,438.02 L428.60,438.78 L429.23,439.56 L429.84,440.35 L430.42,441.16 L430.98,441.99 L431.51,442.84 L432.02,443.70 L432.51,444.57 L432.98,445.45 L433.45,446.34 L433.91,447.22 L434.37,448.11 L434.83,449.00 L435.30,449.88 L435.77,450.76 L436.27,451.63 L436.78,452.49 L437.31,453.34 L437.84,454.19 L438.38,455.03 L438.92,455.87 L439.47,456.70 L440.04,457.53 L440.62,458.34 L441.22,459.14 L441.85,459.92 L442.51,460.67 L443.21,461.39 L443.93,462.07 L444.69,462.72 L445.48,463.33 L446.30,463.90 L447.16,464.41 L448.06,464.85 L448.99,465.20 L449.96,465.44 L450.94,465.54 L451.94,465.52 L452.92,465.37 L453.89,465.11 L454.82,464.75 L455.71,464.30 L456.56,463.78 L457.36,463.19 L458.12,462.54 L458.82,461.83 L459.49,461.08 L460.11,460.30 L460.71,459.50 L461.28,458.68 L461.84,457.85 L462.38,457.01 L462.90,456.16 L463.40,455.29 L463.88,454.42 L464.35,453.53 L464.79,452.63 L465.23,451.74 L465.66,450.83 L466.08,449.93 L466.50,449.02 L466.92,448.11 L467.33,447.20 L467.74,446.29 L468.16,445.38 L468.58,444.47 L469.01,443.57 L469.44,442.67 L469.87,441.76 L470.32,440.87 L470.78,439.98 L471.25,439.10 L471.71,438.21 L472.16,437.32 L472.61,436.43 L473.06,435.53 L473.50,434.64 L473.95,433.74 L474.40,432.85 L474.85,431.95 L475.30,431.06 L475.76,430.17 L476.22,429.29 L476.69,428.40 L477.17,427.52 L477.65,426.65 L478.15,425.78 L478.65,424.92 L479.18,424.07 L479.74,423.24 L480.32,422.43 L480.95,421.65 L481.61,420.90 L482.31,420.19 L483.05,419.52 L483.85,418.92 L484.68,418.37 L485.56,417.89 L486.46,417.47 L487.39,417.10 L488.34,416.79 L489.31,416.56 L490.30,416.43 L491.30,416.39 L492.29,416.43 L493.28,416.56 L494.26,416.77 L495.21,417.07 L496.12,417.48 L496.96,418.01 L497.72,418.65 L498.41,419.37 L499.06,420.13 L499.70,420.90 L500.32,421.68 L500.92,422.48 L501.51,423.29 L502.09,424.10 L502.66,424.92 L503.22,425.75 L503.78,426.58 L504.33,427.42 L504.87,428.26 L505.41,429.10 L505.95,429.94 L506.48,430.79 L507.01,431.64 L507.53,432.49 L508.02,433.36 L508.49,434.25 L508.93,435.14 L509.35,436.05 L509.76,436.96 L510.16,437.88 L510.57,438.79 L511.01,439.69 L511.48,440.57 L512.05,441.37 L512.79,441.88 L513.61,441.79 L514.28,441.14 L514.80,440.30 L515.28,439.42 L515.75,438.54 L516.26,437.67 L516.76,436.81 L517.24,435.94 L517.71,435.05 L518.16,434.16 L518.61,433.26 L519.06,432.37 L519.52,431.48 L519.98,430.60 L520.46,429.72 L520.96,428.85 L521.48,428.00 L522.02,427.16 L522.59,426.34 L523.19,425.54 L523.81,424.75 L524.45,423.99 L525.11,423.23 L525.78,422.49 L526.46,421.75 L527.14,421.03 L527.83,420.30 L528.52,419.58 L529.21,418.85 L529.89,418.12 L530.57,417.39 L531.24,416.65 L531.91,415.90 L532.56,415.14 L533.19,414.37 L533.82,413.59 L534.43,412.80 L535.03,412.00 L535.63,411.20 L536.23,410.39 L536.82,409.59 L537.42,408.79 L538.01,407.99 L538.62,407.19 L539.23,406.40 L539.86,405.62 L540.50,404.85 L541.15,404.09 L541.82,403.35 L542.50,402.62 L543.19,401.90 L543.89,401.18 L544.60,400.48 L545.31,399.77 L546.03,399.08 L546.75,398.39 L547.48,397.70 L548.22,397.02 L548.96,396.35 L549.71,395.69 L550.46,395.04 L551.23,394.39 L552.00,393.76 L552.79,393.14 L553.58,392.53 L554.39,391.94 L555.21,391.37 L556.04,390.82 L556.89,390.29 L557.76,389.80 L558.65,389.34 L559.55,388.91 L560.46,388.50 L561.39,388.12 L562.32,387.75 L563.26,387.41 L564.20,387.07 L565.14,386.75 L566.09,386.43 L567.04,386.12 L567.99,385.80 L568.94,385.48 L569.88,385.14 L570.81,384.79 L571.75,384.43 L572.68,384.07 L573.62,383.73 L574.57,383.41 L575.52,383.11 L576.49,382.85 L577.46,382.61 L578.43,382.39 L579.41,382.17 L580.38,381.95 L581.36,381.75 L582.34,381.55 L583.33,381.37 L584.31,381.20 L585.30,381.05 L586.29,380.92 L587.29,380.81 L588.28,380.74 L589.28,380.70 L590.28,380.72 L591.28,380.77 L592.27,380.87 L593.26,381.01 L594.25,381.18 L595.23,381.39 L596.20,381.62 L597.16,381.88 L598.12,382.19 L599.05,382.54 L599.96,382.96 L600.84,383.42 L601.72,383.91 L602.59,384.40 L603.46,384.88 L604.34,385.36 L605.18,385.89 L606.04,386.28 L606.94,386.19 L607.73,385.65 L608.40,384.92 L609.02,384.14 L609.63,383.34 L610.25,382.56 L610.91,381.81 L611.62,381.11 L612.37,380.45 L613.14,379.81 L613.96,379.24 L614.83,378.77 L615.76,378.41 L616.72,378.15 L617.71,377.96 L618.70,377.84 L619.69,377.75 L620.69,377.69 L621.69,377.65 L622.69,377.62 L623.69,377.61 L624.69,377.60 L625.69,377.60 L626.69,377.60 L627.69,377.62 L628.69,377.64 L629.69,377.68 L630.69,377.72 L631.69,377.77 L632.68,377.82 L633.68,377.88 L634.68,377.94 L635.68,378.00 L636.68,378.06 L637.67,378.12 L638.67,378.18 L639.67,378.23 L640.67,378.27 L641.67,378.31 L642.67,378.34 L643.67,378.38 L644.67,378.43 L645.66,378.51 L646.66,378.63 L647.64,378.81 L648.59,379.09 L649.52,379.46 L650.41,379.91 L651.27,380.42 L652.07,380.92 L652.70,381.30 L652.70,381.30" stroke="#2ee8b0" stroke-width="1.15" fill="none" stroke-linejoin="round" stroke-linecap="round" />
<path d="M385.00,405.60 L385.93,405.98 L386.86,406.34 L387.79,406.70 L388.72,407.08 L389.63,407.48 L390.53,407.91 L391.41,408.38 L392.26,408.91 L393.07,409.49 L393.84,410.13 L394.56,410.82 L395.25,411.55 L395.92,412.29 L396.57,413.05 L397.22,413.81 L397.86,414.58 L398.51,415.34 L399.17,416.09 L399.85,416.82 L400.55,417.53 L401.28,418.22 L402.03,418.88 L402.79,419.52 L403.57,420.15 L404.35,420.77 L405.14,421.39 L405.93,422.01 L406.71,422.63 L407.48,423.27 L408.24,423.92 L409.00,424.57 L409.76,425.21 L410.52,425.86 L411.25,426.55 L411.92,427.29 L412.55,428.06 L413.13,428.87 L413.68,429.71 L414.20,430.57 L414.69,431.44 L415.17,432.32 L415.64,433.20 L416.11,434.08 L416.57,434.97 L417.03,435.85 L417.50,436.74 L417.98,437.62 L418.46,438.49 L418.96,439.36 L419.48,440.21 L420.02,441.06 L420.57,441.89 L421.14,442.71 L421.73,443.52 L422.32,444.33 L422.91,445.13 L423.50,445.94 L424.09,446.75 L424.67,447.56 L425.24,448.38 L425.80,449.21 L426.35,450.04 L426.90,450.88 L427.45,451.72 L427.99,452.56 L428.52,453.40 L429.06,454.25 L429.59,455.10 L430.12,455.95 L430.64,456.80 L431.16,457.65 L431.67,458.51 L432.16,459.38 L432.63,460.27 L433.07,461.16 L433.48,462.07 L433.90,462.98 L434.34,463.88 L434.81,464.76 L435.31,465.63 L435.80,466.50 L436.30,467.37 L436.79,468.24 L437.30,469.10 L437.80,469.96 L438.32,470.82 L438.85,471.67 L439.39,472.51 L439.96,473.33 L440.55,474.14 L441.17,474.92 L441.84,475.66 L442.56,476.36 L443.32,477.00 L444.12,477.60 L444.95,478.15 L445.82,478.64 L446.71,479.09 L447.63,479.50 L448.57,479.84 L449.53,480.08 L450.52,480.17 L451.51,480.10 L452.49,479.91 L453.45,479.63 L454.39,479.29 L455.30,478.89 L456.19,478.43 L457.03,477.90 L457.84,477.31 L458.60,476.66 L459.31,475.96 L459.98,475.22 L460.62,474.45 L461.23,473.66 L461.81,472.85 L462.38,472.03 L462.93,471.19 L463.47,470.35 L463.99,469.49 L464.50,468.63 L465.00,467.77 L465.48,466.89 L465.93,466.00 L466.36,465.10 L466.78,464.19 L467.18,463.27 L467.58,462.35 L467.96,461.43 L468.35,460.51 L468.74,459.59 L469.13,458.67 L469.54,457.75 L469.95,456.84 L470.37,455.94 L470.80,455.03 L471.23,454.13 L471.66,453.23 L472.09,452.32 L472.52,451.42 L472.96,450.52 L473.40,449.62 L473.84,448.73 L474.28,447.83 L474.74,446.94 L475.20,446.05 L475.66,445.17 L476.14,444.29 L476.61,443.41 L477.09,442.53 L477.56,441.65 L478.03,440.76 L478.50,439.88 L478.99,439.01 L479.48,438.14 L480.01,437.29 L480.56,436.45 L481.14,435.65 L481.78,434.88 L482.47,434.16 L483.22,433.49 L484.01,432.88 L484.84,432.33 L485.70,431.82 L486.59,431.37 L487.51,430.97 L488.44,430.62 L489.40,430.32 L490.37,430.09 L491.35,429.94 L492.35,429.88 L493.34,429.94 L494.32,430.11 L495.29,430.36 L496.23,430.70 L497.14,431.10 L498.02,431.57 L498.86,432.11 L499.62,432.75 L500.28,433.50 L500.82,434.33 L501.29,435.21 L501.74,436.11 L502.19,437.00 L502.65,437.89 L503.11,438.77 L503.56,439.67 L503.99,440.57 L504.42,441.47 L504.85,442.37 L505.28,443.28 L505.71,444.18 L506.15,445.08 L506.60,445.97 L507.06,446.86 L507.53,447.75 L508.00,448.63 L508.47,449.51 L508.94,450.39 L509.41,451.27 L509.90,452.15 L510.40,453.01 L510.93,453.86 L511.51,454.67 L512.19,455.38 L513.01,455.81 L513.88,455.70 L514.61,455.11 L515.21,454.32 L515.77,453.49 L516.32,452.65 L516.86,451.81 L517.36,450.94 L517.84,450.06 L518.30,449.18 L518.76,448.29 L519.22,447.40 L519.67,446.51 L520.14,445.63 L520.61,444.75 L521.10,443.87 L521.60,443.01 L522.12,442.15 L522.67,441.32 L523.23,440.49 L523.81,439.67 L524.40,438.87 L525.01,438.07 L525.62,437.28 L526.24,436.49 L526.86,435.71 L527.49,434.94 L528.12,434.16 L528.75,433.38 L529.38,432.61 L530.01,431.83 L530.64,431.05 L531.26,430.27 L531.88,429.49 L532.50,428.70 L533.12,427.92 L533.74,427.13 L534.36,426.35 L534.98,425.56 L535.60,424.78 L536.22,424.00 L536.85,423.21 L537.47,422.43 L538.10,421.65 L538.72,420.87 L539.35,420.10 L539.98,419.32 L540.62,418.55 L541.25,417.78 L541.89,417.00 L542.52,416.23 L543.15,415.45 L543.78,414.67 L544.41,413.90 L545.04,413.12 L545.67,412.35 L546.31,411.58 L546.96,410.82 L547.63,410.07 L548.30,409.34 L549.00,408.62 L549.73,407.93 L550.49,407.29 L551.30,406.70 L552.15,406.18 L553.04,405.73 L553.96,405.33 L554.89,404.98 L555.83,404.62 L556.75,404.24 L557.65,403.81 L558.53,403.34 L559.40,402.85 L560.27,402.35 L561.13,401.84 L561.99,401.33 L562.85,400.82 L563.71,400.30 L564.56,399.78 L565.41,399.26 L566.25,398.72 L567.08,398.15 L567.90,397.59 L568.75,397.06 L569.63,396.59 L570.54,396.17 L571.46,395.79 L572.40,395.43 L573.34,395.09 L574.29,394.78 L575.24,394.49 L576.21,394.23 L577.18,393.98 L578.15,393.75 L579.12,393.52 L580.10,393.30 L581.08,393.08 L582.05,392.88 L583.04,392.69 L584.02,392.51 L585.01,392.35 L586.00,392.21 L586.99,392.10 L587.99,392.04 L588.99,392.02 L589.98,392.06 L590.98,392.16 L591.97,392.31 L592.95,392.51 L593.92,392.75 L594.88,393.02 L595.83,393.32 L596.78,393.63 L597.73,393.96 L598.66,394.31 L599.58,394.72 L600.47,395.16 L601.36,395.63 L602.23,396.11 L603.11,396.59 L603.99,397.07 L604.84,397.59 L605.68,398.09 L606.58,398.26 L607.46,397.94 L608.22,397.32 L608.91,396.60 L609.57,395.85 L610.23,395.10 L610.92,394.38 L611.63,393.68 L612.34,392.98 L613.05,392.27 L613.78,391.59 L614.58,390.99 L615.44,390.50 L616.37,390.14 L617.34,389.90 L618.32,389.75 L619.32,389.65 L620.32,389.59 L621.32,389.56 L622.31,389.54 L623.31,389.53 L624.31,389.53 L625.31,389.52 L626.31,389.50 L627.31,389.48 L628.31,389.45 L629.31,389.43 L630.31,389.42 L631.31,389.40 L632.31,389.39 L633.31,389.39 L634.31,389.39 L635.31,389.39 L636.31,389.41 L637.31,389.43 L638.31,389.47 L639.31,389.52 L640.31,389.59 L641.30,389.68 L642.30,389.78 L643.29,389.90 L644.28,390.04 L645.27,390.20 L646.25,390.38 L647.23,390.60 L648.19,390.86 L649.14,391.18 L650.06,391.56 L650.96,392.00 L651.84,392.45 L652.70,392.90 L652.70,392.90" stroke="#2ee6ff" stroke-width="1.15" fill="none" stroke-linejoin="round" stroke-linecap="round" />
<path d="M384.90,417.60 L385.84,417.95 L386.77,418.30 L387.70,418.66 L388.62,419.07 L389.51,419.52 L390.37,420.03 L391.20,420.59 L392.00,421.18 L392.80,421.79 L393.58,422.41 L394.35,423.05 L395.11,423.70 L395.86,424.35 L396.61,425.02 L397.35,425.69 L398.07,426.38 L398.78,427.09 L399.47,427.82 L400.14,428.56 L400.80,429.31 L401.45,430.07 L402.10,430.82 L402.76,431.58 L403.44,432.31 L404.14,433.02 L404.88,433.70 L405.66,434.32 L406.47,434.90 L407.30,435.46 L408.11,436.04 L408.90,436.66 L409.65,437.32 L410.38,438.00 L411.10,438.69 L411.80,439.40 L412.48,440.15 L413.11,440.92 L413.70,441.72 L414.25,442.56 L414.76,443.42 L415.23,444.30 L415.67,445.20 L416.08,446.11 L416.49,447.02 L416.90,447.93 L417.31,448.85 L417.72,449.76 L418.15,450.66 L418.60,451.55 L419.08,452.43 L419.59,453.29 L420.14,454.13 L420.72,454.94 L421.34,455.72 L421.99,456.48 L422.65,457.24 L423.32,457.98 L423.98,458.72 L424.64,459.47 L425.29,460.24 L425.91,461.02 L426.51,461.82 L427.08,462.64 L427.64,463.47 L428.17,464.31 L428.70,465.16 L429.22,466.02 L429.73,466.88 L430.24,467.74 L430.74,468.61 L431.24,469.47 L431.74,470.34 L432.23,471.21 L432.73,472.08 L433.22,472.95 L433.72,473.81 L434.22,474.68 L434.73,475.54 L435.24,476.40 L435.74,477.27 L436.24,478.13 L436.73,479.01 L437.22,479.88 L437.70,480.75 L438.20,481.62 L438.70,482.49 L439.21,483.35 L439.74,484.19 L440.29,485.03 L440.88,485.84 L441.50,486.62 L442.16,487.37 L442.86,488.08 L443.59,488.76 L444.36,489.40 L445.16,489.99 L446.00,490.54 L446.87,491.03 L447.78,491.44 L448.72,491.75 L449.70,491.90 L450.69,491.86 L451.67,491.66 L452.63,491.38 L453.57,491.05 L454.50,490.68 L455.40,490.25 L456.27,489.76 L457.10,489.20 L457.87,488.58 L458.60,487.89 L459.27,487.15 L459.89,486.37 L460.47,485.55 L461.02,484.72 L461.55,483.87 L462.07,483.02 L462.57,482.15 L463.06,481.28 L463.55,480.41 L464.03,479.53 L464.52,478.66 L465.00,477.78 L465.48,476.90 L465.95,476.02 L466.41,475.13 L466.86,474.24 L467.30,473.34 L467.75,472.45 L468.19,471.55 L468.62,470.65 L469.06,469.75 L469.50,468.85 L469.94,467.96 L470.39,467.06 L470.85,466.17 L471.31,465.28 L471.77,464.40 L472.24,463.51 L472.70,462.63 L473.17,461.74 L473.63,460.86 L474.11,459.98 L474.58,459.10 L475.06,458.22 L475.55,457.35 L476.05,456.48 L476.56,455.62 L477.08,454.77 L477.62,453.93 L478.18,453.09 L478.74,452.27 L479.32,451.45 L479.91,450.64 L480.52,449.85 L481.15,449.08 L481.81,448.32 L482.49,447.60 L483.22,446.91 L483.97,446.26 L484.76,445.64 L485.58,445.06 L486.42,444.52 L487.28,444.02 L488.17,443.56 L489.08,443.16 L490.02,442.83 L490.99,442.61 L491.98,442.51 L492.97,442.58 L493.94,442.79 L494.88,443.13 L495.76,443.59 L496.60,444.13 L497.38,444.75 L498.11,445.43 L498.78,446.17 L499.39,446.96 L499.96,447.78 L500.50,448.63 L501.01,449.48 L501.51,450.35 L502.00,451.22 L502.48,452.10 L502.95,452.98 L503.41,453.87 L503.85,454.77 L504.28,455.67 L504.70,456.58 L505.11,457.49 L505.52,458.40 L505.93,459.31 L506.34,460.23 L506.76,461.14 L507.18,462.04 L507.62,462.94 L508.07,463.83 L508.51,464.73 L508.97,465.62 L509.46,466.49 L510.01,467.32 L510.63,468.10 L511.34,468.80 L512.15,469.33 L513.06,469.47 L513.89,469.10 L514.52,468.36 L515.01,467.50 L515.47,466.61 L515.92,465.72 L516.38,464.83 L516.84,463.94 L517.28,463.05 L517.72,462.14 L518.15,461.24 L518.57,460.34 L519.00,459.44 L519.43,458.53 L519.87,457.63 L520.30,456.73 L520.74,455.83 L521.19,454.94 L521.65,454.05 L522.11,453.16 L522.59,452.29 L523.08,451.42 L523.59,450.56 L524.12,449.71 L524.67,448.87 L525.23,448.05 L525.81,447.23 L526.41,446.43 L527.02,445.63 L527.63,444.85 L528.26,444.07 L528.90,443.30 L529.54,442.53 L530.18,441.76 L530.83,441.00 L531.48,440.24 L532.12,439.47 L532.76,438.71 L533.41,437.94 L534.05,437.18 L534.70,436.42 L535.35,435.66 L536.01,434.91 L536.67,434.15 L537.33,433.40 L537.99,432.66 L538.66,431.91 L539.33,431.17 L540.00,430.42 L540.67,429.69 L541.35,428.95 L542.03,428.21 L542.71,427.48 L543.39,426.75 L544.08,426.02 L544.76,425.29 L545.45,424.57 L546.14,423.85 L546.84,423.14 L547.56,422.43 L548.29,421.75 L549.03,421.08 L549.80,420.44 L550.58,419.82 L551.40,419.24 L552.24,418.70 L553.10,418.19 L553.97,417.70 L554.85,417.24 L555.74,416.77 L556.62,416.30 L557.49,415.81 L558.36,415.31 L559.21,414.79 L560.07,414.28 L560.93,413.76 L561.78,413.24 L562.64,412.73 L563.51,412.23 L564.38,411.74 L565.27,411.28 L566.17,410.86 L567.10,410.50 L568.05,410.18 L569.00,409.86 L569.94,409.51 L570.86,409.12 L571.76,408.71 L572.67,408.28 L573.58,407.86 L574.49,407.46 L575.42,407.09 L576.36,406.75 L577.32,406.46 L578.28,406.20 L579.25,405.96 L580.23,405.73 L581.20,405.51 L582.18,405.31 L583.16,405.13 L584.15,404.96 L585.14,404.81 L586.13,404.68 L587.13,404.59 L588.12,404.53 L589.12,404.52 L590.12,404.57 L591.11,404.68 L592.10,404.84 L593.08,405.04 L594.05,405.29 L595.01,405.56 L595.96,405.86 L596.91,406.17 L597.86,406.50 L598.79,406.86 L599.71,407.26 L600.60,407.70 L601.49,408.16 L602.36,408.65 L603.24,409.14 L604.10,409.64 L604.92,410.21 L605.71,410.80 L606.57,411.21 L607.48,411.15 L608.30,410.65 L609.03,409.97 L609.73,409.26 L610.42,408.54 L611.08,407.79 L611.71,407.01 L612.34,406.23 L612.97,405.46 L613.64,404.72 L614.35,404.02 L615.12,403.39 L615.97,402.86 L616.88,402.46 L617.83,402.19 L618.82,402.03 L619.81,401.95 L620.81,401.92 L621.81,401.92 L622.81,401.95 L623.81,401.98 L624.81,402.00 L625.81,402.00 L626.81,401.99 L627.81,401.97 L628.81,401.95 L629.81,401.94 L630.81,401.93 L631.81,401.93 L632.81,401.93 L633.81,401.93 L634.81,401.93 L635.81,401.94 L636.81,401.96 L637.81,401.97 L638.81,402.00 L639.81,402.02 L640.81,402.05 L641.81,402.09 L642.81,402.13 L643.80,402.18 L644.80,402.25 L645.80,402.34 L646.79,402.47 L647.77,402.63 L648.75,402.87 L649.69,403.18 L650.62,403.55 L651.53,403.96 L652.34,404.34 L652.70,404.50" stroke="#52b0f0" stroke-width="1.15" fill="none" stroke-linejoin="round" stroke-linecap="round" />
</g>
<line x1="450.10" y1="306.00" x2="450.10" y2="501.20" stroke="#000" stroke-width="1.15" stroke-dasharray="1,1"/>
<line x1="513.30" y1="306.00" x2="513.30" y2="493.50" stroke="#000" stroke-width="1.15" stroke-dasharray="1,1"/>
<line x1="608.20" y1="306.00" x2="608.20" y2="494.60" stroke="#000" stroke-width="1.15" stroke-dasharray="1,1"/>
<rect x="385.00" y="306.30" width="267.80" height="210.50" fill="none" stroke="#111" stroke-width="1.3"/>
<line x1="385.00" y1="516.80" x2="385.00" y2="520.60" stroke="#1a1a1a" stroke-width="1.2"/>
<text x="385.00" y="532.60" font-size="11.50" fill="#000" style="color:#000" text-anchor="middle" >1300</text>
<line x1="429.63" y1="516.80" x2="429.63" y2="518.60" stroke="#1a1a1a" stroke-width="1.2"/>
<line x1="474.27" y1="516.80" x2="474.27" y2="520.60" stroke="#1a1a1a" stroke-width="1.2"/>
<text x="474.27" y="532.60" font-size="11.50" fill="#000" style="color:#000" text-anchor="middle" >1200</text>
<line x1="518.90" y1="516.80" x2="518.90" y2="518.60" stroke="#1a1a1a" stroke-width="1.2"/>
<line x1="563.53" y1="516.80" x2="563.53" y2="520.60" stroke="#1a1a1a" stroke-width="1.2"/>
<text x="563.53" y="532.60" font-size="11.50" fill="#000" style="color:#000" text-anchor="middle" >1100</text>
<line x1="608.17" y1="516.80" x2="608.17" y2="518.60" stroke="#1a1a1a" stroke-width="1.2"/>
<line x1="652.80" y1="516.80" x2="652.80" y2="520.60" stroke="#1a1a1a" stroke-width="1.2"/>
<text x="652.80" y="532.60" font-size="11.50" fill="#000" style="color:#000" text-anchor="middle" >1000</text>
<text x="518.30" y="555.00" font-size="13.8" fill="#000" text-anchor="middle">Wavenumber (cm<tspan font-size="9" dy="-5">-1</tspan><tspan dy="5">)</tspan></text>
<text transform="translate(375.90,411.80) rotate(-90)" font-size="13.5" text-anchor="middle" fill="#000">Transmittance (a.u.)</text>
<text x="455.00" y="504.60" font-size="11" fill="#000" style="color:#000">NO<tspan font-size="8.5" dy="3">2</tspan><tspan font-size="8.5" dy="-7.8">-</tspan></text>
<text x="513.60" y="504.30" font-size="11.00" fill="#ff1a1a" style="color:#ff1a1a" text-anchor="start" >NOH</text>
<text x="612.80" y="489.90" font-size="11.00" fill="#000" style="color:#000" text-anchor="start" >NH</text>
<text x="392.30" y="507.40" font-size="10.80" fill="#0000f5" style="color:#0000f5;stroke-width:0.15px" text-anchor="start" >M-OFF</text>
<rect x="661.00" y="351.70" width="5.00" height="10.26" fill="#ff46a8"/>
<rect x="661.00" y="361.91" width="5.00" height="10.26" fill="#ff6b78"/>
<rect x="661.00" y="372.12" width="5.00" height="10.26" fill="#f5a070"/>
<rect x="661.00" y="382.33" width="5.00" height="10.26" fill="#ecb565"/>
<rect x="661.00" y="392.54" width="5.00" height="10.26" fill="#ede070"/>
<rect x="661.00" y="402.75" width="5.00" height="10.26" fill="#bfe36d"/>
<rect x="661.00" y="412.96" width="5.00" height="10.26" fill="#2fe83a"/>
<rect x="661.00" y="423.17" width="5.00" height="10.26" fill="#2ee8b0"/>
<rect x="661.00" y="433.38" width="5.00" height="10.26" fill="#2ee6ff"/>
<rect x="661.00" y="443.59" width="5.00" height="10.26" fill="#52b0f0"/>
<text x="656.00" y="350.70" font-size="11.00" fill="#000" style="color:#000" text-anchor="start" >OCP</text>
<line x1="672.00" y1="365.70" x2="672.00" y2="441.70" stroke="#000" stroke-width="1.1"/>
<polygon points="672.00,445.70 670.30,440.20 673.70,440.20" fill="#000"/>
<text x="654.50" y="467.20" font-size="11.50" fill="#000" style="color:#000" text-anchor="start" >-0.5 V</text>
</svg></body></html>
